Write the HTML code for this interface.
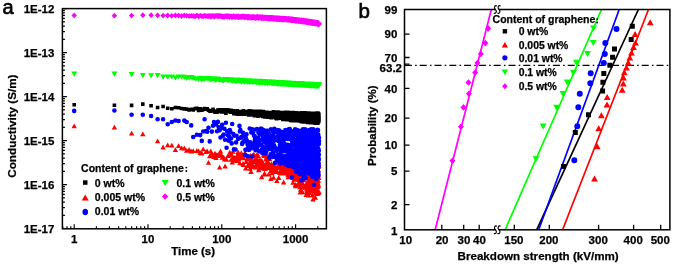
<!DOCTYPE html><html><head><meta charset="utf-8"><style>html,body{margin:0;padding:0;background:#fff;}svg{display:block;will-change:transform;filter:blur(0.3px)}</style></head><body>
<svg width="675" height="265" viewBox="0 0 675 265">
<rect width="675" height="265" fill="#fff"/>
<g>
<path fill="#000" d="M72.4 103h3.6v3.6h-3.6zM112.6 103.4h3.6v3.6h-3.6zM129.8 103.6h3.6v3.6h-3.6zM141 102.3h3.6v3.6h-3.6zM149.3 103.9h3.6v3.6h-3.6zM155.8 105.7h3.6v3.6h-3.6zM161.3 104.7h3.6v3.6h-3.6zM165.9 106.5h3.6v3.6h-3.6zM170 106.9h3.6v3.6h-3.6zM173.6 105.7h3.6v3.6h-3.6zM176.8 105.9h3.6v3.6h-3.6zM179.8 106.7h3.6v3.6h-3.6zM182.5 107.1h3.6v3.6h-3.6zM184.9 107.3h3.6v3.6h-3.6zM187.3 108.1h3.6v3.6h-3.6zM189.4 107.5h3.6v3.6h-3.6zM191.4 108.1h3.6v3.6h-3.6zM193.3 106.8h3.6v3.6h-3.6zM195.1 106.5h3.6v3.6h-3.6zM196.8 108.6h3.6v3.6h-3.6zM198.4 107h3.6v3.6h-3.6zM200 108.4h3.6v3.6h-3.6zM201.4 107.6h3.6v3.6h-3.6zM202.8 106.7h3.6v3.6h-3.6zM204.2 107.4h3.6v3.6h-3.6zM205.4 107h3.6v3.6h-3.6zM206.7 108.4h3.6v3.6h-3.6zM207.9 109.2h3.6v3.6h-3.6zM209 109.4h3.6v3.6h-3.6zM210.1 109.1h3.6v3.6h-3.6zM211.2 107.6h3.6v3.6h-3.6zM212.2 109.2h3.6v3.6h-3.6zM213.2 110.3h3.6v3.6h-3.6zM214.2 109.8h3.6v3.6h-3.6zM215.2 110.4h3.6v3.6h-3.6zM216.1 108.3h3.6v3.6h-3.6zM217 109.3h3.6v3.6h-3.6zM217.8 108h3.6v3.6h-3.6zM218.7 109.3h3.6v3.6h-3.6zM219.5 110.1h3.6v3.6h-3.6zM220.3 109.2h3.6v3.6h-3.6zM221.1 108h3.6v3.6h-3.6zM221.9 108.1h3.6v3.6h-3.6zM222.6 109.4h3.6v3.6h-3.6zM223.3 110.3h3.6v3.6h-3.6zM224.1 111.3h3.6v3.6h-3.6zM224.8 109.3h3.6v3.6h-3.6zM225.4 108h3.6v3.6h-3.6zM226.1 108.1h3.6v3.6h-3.6zM226.8 108.7h3.6v3.6h-3.6zM227.4 109.7h3.6v3.6h-3.6zM228 109.7h3.6v3.6h-3.6zM228.7 110.5h3.6v3.6h-3.6zM229.3 108.5h3.6v3.6h-3.6zM229.9 109.1h3.6v3.6h-3.6zM230.4 110.1h3.6v3.6h-3.6zM231 108.9h3.6v3.6h-3.6zM231.6 109h3.6v3.6h-3.6zM232.1 111.9h3.6v3.6h-3.6zM232.7 111.3h3.6v3.6h-3.6zM233.2 110.9h3.6v3.6h-3.6zM233.7 110.7h3.6v3.6h-3.6zM234.3 110.9h3.6v3.6h-3.6zM234.8 112.1h3.6v3.6h-3.6zM235.3 108.9h3.6v3.6h-3.6zM235.8 111.1h3.6v3.6h-3.6zM236.2 112.3h3.6v3.6h-3.6zM236.7 112.2h3.6v3.6h-3.6zM237.2 112h3.6v3.6h-3.6zM237.7 109.7h3.6v3.6h-3.6zM238.1 112.2h3.6v3.6h-3.6zM238.6 110.2h3.6v3.6h-3.6zM239 110.6h3.6v3.6h-3.6zM239.5 110.8h3.6v3.6h-3.6zM239.9 112.4h3.6v3.6h-3.6zM240.3 109.8h3.6v3.6h-3.6zM240.7 112.4h3.6v3.6h-3.6zM241.2 109.7h3.6v3.6h-3.6zM241.6 108.9h3.6v3.6h-3.6zM242 109.7h3.6v3.6h-3.6zM242.4 112.5h3.6v3.6h-3.6zM242.8 109.8h3.6v3.6h-3.6zM243.2 110.7h3.6v3.6h-3.6zM243.6 109.8h3.6v3.6h-3.6zM243.9 111.3h3.6v3.6h-3.6zM244.3 109.8h3.6v3.6h-3.6zM244.7 111.7h3.6v3.6h-3.6zM245.1 112h3.6v3.6h-3.6zM245.4 110.1h3.6v3.6h-3.6zM245.8 110.6h3.6v3.6h-3.6zM246.1 112.1h3.6v3.6h-3.6zM246.5 110.6h3.6v3.6h-3.6zM246.8 113.1h3.6v3.6h-3.6zM247.2 113h3.6v3.6h-3.6zM247.5 109.1h3.6v3.6h-3.6zM247.9 111.7h3.6v3.6h-3.6zM248.2 113.1h3.6v3.6h-3.6zM248.5 111.2h3.6v3.6h-3.6zM248.9 110.5h3.6v3.6h-3.6zM249.2 109.3h3.6v3.6h-3.6zM249.5 109.4h3.6v3.6h-3.6zM249.8 112.1h3.6v3.6h-3.6zM250.1 110.8h3.6v3.6h-3.6zM250.4 110.6h3.6v3.6h-3.6zM250.7 109.6h3.6v3.6h-3.6zM251.1 110h3.6v3.6h-3.6zM251.4 112.8h3.6v3.6h-3.6zM251.7 110.1h3.6v3.6h-3.6zM252 110h3.6v3.6h-3.6zM252.2 111.8h3.6v3.6h-3.6zM252.5 113.8h3.6v3.6h-3.6zM252.8 110.1h3.6v3.6h-3.6zM253.1 113.5h3.6v3.6h-3.6zM253.4 112.2h3.6v3.6h-3.6zM253.7 111.6h3.6v3.6h-3.6zM254 109.5h3.6v3.6h-3.6zM254.2 110.4h3.6v3.6h-3.6zM254.5 111.2h3.6v3.6h-3.6zM254.8 109.5h3.6v3.6h-3.6zM255.1 112.2h3.6v3.6h-3.6zM255.3 110.5h3.6v3.6h-3.6zM255.6 111.5h3.6v3.6h-3.6zM255.8 113.3h3.6v3.6h-3.6zM256.1 114.4h3.6v3.6h-3.6zM256.4 110.2h3.6v3.6h-3.6zM256.6 110.8h3.6v3.6h-3.6zM256.9 111h3.6v3.6h-3.6zM257.1 113.5h3.6v3.6h-3.6zM257.4 114h3.6v3.6h-3.6zM257.6 112.4h3.6v3.6h-3.6zM257.9 110.7h3.6v3.6h-3.6zM258.1 110.2h3.6v3.6h-3.6zM258.4 109.6h3.6v3.6h-3.6zM258.6 110.5h3.6v3.6h-3.6zM258.8 112.9h3.6v3.6h-3.6zM259.1 111.3h3.6v3.6h-3.6zM259.3 112.3h3.6v3.6h-3.6zM259.6 110.3h3.6v3.6h-3.6zM259.8 111.1h3.6v3.6h-3.6zM260 112h3.6v3.6h-3.6zM260.2 113.6h3.6v3.6h-3.6zM260.5 112.4h3.6v3.6h-3.6zM260.7 110.8h3.6v3.6h-3.6zM260.9 114.6h3.6v3.6h-3.6zM261.1 114.3h3.6v3.6h-3.6zM261.4 114.6h3.6v3.6h-3.6zM261.6 109.8h3.6v3.6h-3.6zM261.8 114.2h3.6v3.6h-3.6zM262 110.7h3.6v3.6h-3.6zM262.2 111.2h3.6v3.6h-3.6zM262.4 111.1h3.6v3.6h-3.6zM262.7 113.1h3.6v3.6h-3.6zM262.9 110.9h3.6v3.6h-3.6zM263.1 115.2h3.6v3.6h-3.6zM263.3 114.4h3.6v3.6h-3.6zM263.5 113.3h3.6v3.6h-3.6zM263.7 111.9h3.6v3.6h-3.6zM263.9 112.6h3.6v3.6h-3.6zM264.1 113.4h3.6v3.6h-3.6zM264.3 112.3h3.6v3.6h-3.6zM264.5 111.5h3.6v3.6h-3.6zM264.7 110.6h3.6v3.6h-3.6zM264.9 112h3.6v3.6h-3.6zM265.1 110.9h3.6v3.6h-3.6zM265.3 112.5h3.6v3.6h-3.6zM265.5 114.2h3.6v3.6h-3.6zM265.7 113.8h3.6v3.6h-3.6zM265.9 114h3.6v3.6h-3.6zM266.1 115.3h3.6v3.6h-3.6zM266.3 113h3.6v3.6h-3.6zM266.5 114.1h3.6v3.6h-3.6zM266.6 113.9h3.6v3.6h-3.6zM266.8 112.2h3.6v3.6h-3.6zM267 114.3h3.6v3.6h-3.6zM267.2 114.6h3.6v3.6h-3.6zM267.4 113.7h3.6v3.6h-3.6zM267.6 112h3.6v3.6h-3.6zM267.7 114.3h3.6v3.6h-3.6zM267.9 112.1h3.6v3.6h-3.6zM268.1 115h3.6v3.6h-3.6zM268.3 110.7h3.6v3.6h-3.6zM268.5 115.4h3.6v3.6h-3.6zM268.6 114.2h3.6v3.6h-3.6zM268.8 110.7h3.6v3.6h-3.6zM269 115.3h3.6v3.6h-3.6zM269.2 112.5h3.6v3.6h-3.6zM269.3 115.8h3.6v3.6h-3.6zM269.5 113.9h3.6v3.6h-3.6zM269.7 112.7h3.6v3.6h-3.6zM269.8 111.6h3.6v3.6h-3.6zM270 113.7h3.6v3.6h-3.6zM270.2 111.8h3.6v3.6h-3.6zM270.3 113.9h3.6v3.6h-3.6zM270.5 112.9h3.6v3.6h-3.6zM270.7 112.3h3.6v3.6h-3.6zM270.8 112.7h3.6v3.6h-3.6zM271 113.7h3.6v3.6h-3.6zM271.2 113.1h3.6v3.6h-3.6zM271.3 114.4h3.6v3.6h-3.6zM271.5 111.6h3.6v3.6h-3.6zM271.6 110.5h3.6v3.6h-3.6zM271.8 110.1h3.6v3.6h-3.6zM272 115.6h3.6v3.6h-3.6zM272.1 115.2h3.6v3.6h-3.6zM272.3 115.2h3.6v3.6h-3.6zM272.4 114h3.6v3.6h-3.6zM272.6 114.6h3.6v3.6h-3.6zM272.7 113.9h3.6v3.6h-3.6zM272.9 111.9h3.6v3.6h-3.6zM273.1 115.3h3.6v3.6h-3.6zM273.2 111.4h3.6v3.6h-3.6zM273.4 111.6h3.6v3.6h-3.6zM273.5 111.4h3.6v3.6h-3.6zM273.7 110.4h3.6v3.6h-3.6zM273.8 112.4h3.6v3.6h-3.6zM274 111.9h3.6v3.6h-3.6zM274.1 110.4h3.6v3.6h-3.6zM274.3 116.5h3.6v3.6h-3.6zM274.4 113.9h3.6v3.6h-3.6zM274.6 116.8h3.6v3.6h-3.6zM274.7 110.4h3.6v3.6h-3.6zM274.8 116.5h3.6v3.6h-3.6zM275 111h3.6v3.6h-3.6zM275.1 111.5h3.6v3.6h-3.6zM275.3 113.2h3.6v3.6h-3.6zM275.4 113.4h3.6v3.6h-3.6zM275.6 116.1h3.6v3.6h-3.6zM275.7 113.5h3.6v3.6h-3.6zM275.8 111.6h3.6v3.6h-3.6zM276 116.6h3.6v3.6h-3.6zM276.1 110.3h3.6v3.6h-3.6zM276.3 113.2h3.6v3.6h-3.6zM276.4 111.6h3.6v3.6h-3.6zM276.5 115.1h3.6v3.6h-3.6zM276.7 110.6h3.6v3.6h-3.6zM276.8 113.5h3.6v3.6h-3.6zM276.9 114.4h3.6v3.6h-3.6zM277.1 116.3h3.6v3.6h-3.6zM277.2 113.7h3.6v3.6h-3.6zM277.3 111h3.6v3.6h-3.6zM277.5 114.5h3.6v3.6h-3.6zM277.6 111.1h3.6v3.6h-3.6zM277.7 116.3h3.6v3.6h-3.6zM277.9 113.2h3.6v3.6h-3.6zM278 112.6h3.6v3.6h-3.6zM278.1 113.9h3.6v3.6h-3.6zM278.3 110.8h3.6v3.6h-3.6zM278.4 114.8h3.6v3.6h-3.6zM278.5 112.2h3.6v3.6h-3.6zM278.7 112.3h3.6v3.6h-3.6zM278.8 113.6h3.6v3.6h-3.6zM278.9 112h3.6v3.6h-3.6zM279 115.4h3.6v3.6h-3.6zM279.2 114h3.6v3.6h-3.6zM279.3 113.9h3.6v3.6h-3.6zM279.4 113.5h3.6v3.6h-3.6zM279.5 115.7h3.6v3.6h-3.6zM279.7 114.1h3.6v3.6h-3.6zM279.8 111.3h3.6v3.6h-3.6zM279.9 113.4h3.6v3.6h-3.6zM280 112.5h3.6v3.6h-3.6zM280.2 113.6h3.6v3.6h-3.6zM280.3 112.7h3.6v3.6h-3.6zM280.4 110.7h3.6v3.6h-3.6zM280.5 114.2h3.6v3.6h-3.6zM280.7 114.2h3.6v3.6h-3.6zM280.8 114h3.6v3.6h-3.6zM280.9 112.7h3.6v3.6h-3.6zM281 117.7h3.6v3.6h-3.6zM281.1 111.7h3.6v3.6h-3.6zM281.3 116.2h3.6v3.6h-3.6zM281.4 111.9h3.6v3.6h-3.6zM281.5 113.5h3.6v3.6h-3.6zM281.6 116.5h3.6v3.6h-3.6zM281.7 113h3.6v3.6h-3.6zM281.8 113.3h3.6v3.6h-3.6zM282 110.8h3.6v3.6h-3.6zM282.1 117.6h3.6v3.6h-3.6zM282.2 117h3.6v3.6h-3.6zM282.3 112.6h3.6v3.6h-3.6zM282.4 116.6h3.6v3.6h-3.6zM282.5 113h3.6v3.6h-3.6zM282.6 116.7h3.6v3.6h-3.6zM282.8 117.6h3.6v3.6h-3.6zM282.9 114.9h3.6v3.6h-3.6zM283 114.6h3.6v3.6h-3.6zM283.1 111.1h3.6v3.6h-3.6zM283.2 114.3h3.6v3.6h-3.6zM283.3 113.5h3.6v3.6h-3.6zM283.4 115.6h3.6v3.6h-3.6zM283.5 113.2h3.6v3.6h-3.6zM283.6 110.8h3.6v3.6h-3.6zM283.8 111.9h3.6v3.6h-3.6zM283.9 110.5h3.6v3.6h-3.6zM284 112.4h3.6v3.6h-3.6zM284.1 113.5h3.6v3.6h-3.6zM284.2 115.8h3.6v3.6h-3.6zM284.3 114.4h3.6v3.6h-3.6zM284.4 114.7h3.6v3.6h-3.6zM284.5 112.1h3.6v3.6h-3.6zM284.6 114h3.6v3.6h-3.6zM284.7 116.8h3.6v3.6h-3.6zM284.8 117h3.6v3.6h-3.6zM284.9 116h3.6v3.6h-3.6zM285 110.6h3.6v3.6h-3.6zM285.2 114.3h3.6v3.6h-3.6zM285.3 117.8h3.6v3.6h-3.6zM285.4 112.9h3.6v3.6h-3.6zM285.5 116.3h3.6v3.6h-3.6zM285.6 117h3.6v3.6h-3.6zM285.7 117.9h3.6v3.6h-3.6zM285.8 111.9h3.6v3.6h-3.6zM285.9 110.6h3.6v3.6h-3.6zM286 113.9h3.6v3.6h-3.6zM286.1 114.1h3.6v3.6h-3.6zM286.2 117.7h3.6v3.6h-3.6zM286.3 115.4h3.6v3.6h-3.6zM286.4 117.6h3.6v3.6h-3.6zM286.5 115.2h3.6v3.6h-3.6zM286.6 114.9h3.6v3.6h-3.6zM286.7 115h3.6v3.6h-3.6zM286.8 111.2h3.6v3.6h-3.6zM286.9 116.3h3.6v3.6h-3.6zM287 111.7h3.6v3.6h-3.6zM287.1 113h3.6v3.6h-3.6zM287.2 117.5h3.6v3.6h-3.6zM287.3 113.6h3.6v3.6h-3.6zM287.4 117h3.6v3.6h-3.6zM287.5 115.3h3.6v3.6h-3.6zM287.6 116.1h3.6v3.6h-3.6zM287.7 110.8h3.6v3.6h-3.6zM287.8 117.2h3.6v3.6h-3.6zM287.9 115.6h3.6v3.6h-3.6zM288 113.6h3.6v3.6h-3.6zM288.1 110.9h3.6v3.6h-3.6zM288.2 114.7h3.6v3.6h-3.6zM288.2 116.9h3.6v3.6h-3.6zM288.3 117.7h3.6v3.6h-3.6zM288.4 113.5h3.6v3.6h-3.6zM288.5 113.7h3.6v3.6h-3.6zM288.6 114.3h3.6v3.6h-3.6zM288.7 115.1h3.6v3.6h-3.6zM288.8 118.7h3.6v3.6h-3.6zM288.9 112.9h3.6v3.6h-3.6zM289 112.3h3.6v3.6h-3.6zM289.1 111.4h3.6v3.6h-3.6zM289.2 115.9h3.6v3.6h-3.6zM289.3 113.5h3.6v3.6h-3.6zM289.4 112.8h3.6v3.6h-3.6zM289.5 116.6h3.6v3.6h-3.6zM289.6 114.2h3.6v3.6h-3.6zM289.6 112.8h3.6v3.6h-3.6zM289.7 113h3.6v3.6h-3.6zM289.8 113.7h3.6v3.6h-3.6zM289.9 114.8h3.6v3.6h-3.6zM290 118.3h3.6v3.6h-3.6zM290.1 113.5h3.6v3.6h-3.6zM290.2 116h3.6v3.6h-3.6zM290.3 115.9h3.6v3.6h-3.6zM290.4 116h3.6v3.6h-3.6zM290.5 112.9h3.6v3.6h-3.6zM290.5 116.4h3.6v3.6h-3.6zM290.6 117.2h3.6v3.6h-3.6zM290.7 118.8h3.6v3.6h-3.6zM290.8 111.5h3.6v3.6h-3.6zM290.9 117.3h3.6v3.6h-3.6zM291 118.9h3.6v3.6h-3.6zM291.1 116.4h3.6v3.6h-3.6zM291.2 113.6h3.6v3.6h-3.6zM291.2 111.3h3.6v3.6h-3.6zM291.3 116.2h3.6v3.6h-3.6zM291.4 113.4h3.6v3.6h-3.6zM291.5 110.8h3.6v3.6h-3.6zM291.6 111.7h3.6v3.6h-3.6zM291.7 115.3h3.6v3.6h-3.6zM291.8 119h3.6v3.6h-3.6zM291.9 115.9h3.6v3.6h-3.6zM291.9 118.3h3.6v3.6h-3.6zM292 115.2h3.6v3.6h-3.6zM292.1 116.1h3.6v3.6h-3.6zM292.2 111.8h3.6v3.6h-3.6zM292.3 111.5h3.6v3.6h-3.6zM292.4 112h3.6v3.6h-3.6zM292.4 110.9h3.6v3.6h-3.6zM292.5 112.8h3.6v3.6h-3.6zM292.6 116h3.6v3.6h-3.6zM292.7 116.2h3.6v3.6h-3.6zM292.8 116.8h3.6v3.6h-3.6zM292.9 115h3.6v3.6h-3.6zM292.9 114.3h3.6v3.6h-3.6zM293 117h3.6v3.6h-3.6zM293.1 112.6h3.6v3.6h-3.6zM293.2 116.5h3.6v3.6h-3.6zM293.3 117.7h3.6v3.6h-3.6zM293.3 113h3.6v3.6h-3.6zM293.4 113.4h3.6v3.6h-3.6zM293.5 114h3.6v3.6h-3.6zM293.6 115.5h3.6v3.6h-3.6zM293.7 117.6h3.6v3.6h-3.6zM293.8 118.3h3.6v3.6h-3.6zM293.8 112.3h3.6v3.6h-3.6zM293.9 112.6h3.6v3.6h-3.6zM294 118.9h3.6v3.6h-3.6zM294.1 116.7h3.6v3.6h-3.6zM294.2 112.1h3.6v3.6h-3.6zM294.2 111.1h3.6v3.6h-3.6zM294.3 114.5h3.6v3.6h-3.6zM294.4 115.3h3.6v3.6h-3.6zM294.5 118.2h3.6v3.6h-3.6zM294.5 112.8h3.6v3.6h-3.6zM294.6 111.2h3.6v3.6h-3.6zM294.7 111.4h3.6v3.6h-3.6zM294.8 115.2h3.6v3.6h-3.6zM294.9 112.2h3.6v3.6h-3.6zM294.9 111.6h3.6v3.6h-3.6zM295 115.4h3.6v3.6h-3.6zM295.1 118.3h3.6v3.6h-3.6zM295.2 116.8h3.6v3.6h-3.6zM295.2 113.3h3.6v3.6h-3.6zM295.3 111.4h3.6v3.6h-3.6zM295.4 113.8h3.6v3.6h-3.6zM295.5 111.6h3.6v3.6h-3.6zM295.5 112.7h3.6v3.6h-3.6zM295.6 118.7h3.6v3.6h-3.6zM295.7 117.1h3.6v3.6h-3.6zM295.8 119h3.6v3.6h-3.6zM295.8 117.7h3.6v3.6h-3.6zM295.9 117.7h3.6v3.6h-3.6zM296 118.8h3.6v3.6h-3.6zM296.1 118h3.6v3.6h-3.6zM296.1 117.8h3.6v3.6h-3.6zM296.2 114.8h3.6v3.6h-3.6zM296.3 113.2h3.6v3.6h-3.6zM296.4 118h3.6v3.6h-3.6zM296.4 118.7h3.6v3.6h-3.6zM296.5 112.3h3.6v3.6h-3.6zM296.6 113.9h3.6v3.6h-3.6zM296.7 116.7h3.6v3.6h-3.6zM296.7 114.1h3.6v3.6h-3.6zM296.8 118.2h3.6v3.6h-3.6zM296.9 111.2h3.6v3.6h-3.6zM297 111.3h3.6v3.6h-3.6zM297 114.6h3.6v3.6h-3.6zM297.1 116.9h3.6v3.6h-3.6zM297.2 115.4h3.6v3.6h-3.6zM297.2 114.2h3.6v3.6h-3.6zM297.3 114.7h3.6v3.6h-3.6zM297.4 118.9h3.6v3.6h-3.6zM297.5 115h3.6v3.6h-3.6zM297.5 113.4h3.6v3.6h-3.6zM297.6 119.2h3.6v3.6h-3.6zM297.7 118h3.6v3.6h-3.6zM297.7 114.4h3.6v3.6h-3.6zM297.8 118.6h3.6v3.6h-3.6zM297.9 114.5h3.6v3.6h-3.6zM298 118.4h3.6v3.6h-3.6zM298 118.9h3.6v3.6h-3.6zM298.1 116.3h3.6v3.6h-3.6zM298.2 111.7h3.6v3.6h-3.6zM298.2 113.8h3.6v3.6h-3.6zM298.3 118.1h3.6v3.6h-3.6zM298.4 116h3.6v3.6h-3.6zM298.4 117.8h3.6v3.6h-3.6zM298.5 114.5h3.6v3.6h-3.6zM298.6 113.8h3.6v3.6h-3.6zM298.7 115h3.6v3.6h-3.6zM298.7 114.8h3.6v3.6h-3.6zM298.8 117.6h3.6v3.6h-3.6zM298.9 118.6h3.6v3.6h-3.6zM298.9 113.6h3.6v3.6h-3.6zM299 111.8h3.6v3.6h-3.6zM299.1 118.3h3.6v3.6h-3.6zM299.1 119.1h3.6v3.6h-3.6zM299.2 118.5h3.6v3.6h-3.6zM299.3 118h3.6v3.6h-3.6zM299.3 118.9h3.6v3.6h-3.6zM299.4 116.2h3.6v3.6h-3.6zM299.5 111.5h3.6v3.6h-3.6zM299.5 116.8h3.6v3.6h-3.6zM299.6 119.8h3.6v3.6h-3.6zM299.7 111.7h3.6v3.6h-3.6zM299.7 117h3.6v3.6h-3.6zM299.8 111.8h3.6v3.6h-3.6zM299.9 118h3.6v3.6h-3.6zM299.9 116.5h3.6v3.6h-3.6zM300 111h3.6v3.6h-3.6zM300.1 112.8h3.6v3.6h-3.6zM300.1 118.6h3.6v3.6h-3.6zM300.2 119.8h3.6v3.6h-3.6zM300.3 115.1h3.6v3.6h-3.6zM300.3 118.5h3.6v3.6h-3.6zM300.4 119.5h3.6v3.6h-3.6zM300.5 115h3.6v3.6h-3.6zM300.5 113.4h3.6v3.6h-3.6zM300.6 118h3.6v3.6h-3.6zM300.7 116.7h3.6v3.6h-3.6zM300.7 119.5h3.6v3.6h-3.6zM300.8 119.2h3.6v3.6h-3.6zM300.8 117.3h3.6v3.6h-3.6zM300.9 113.3h3.6v3.6h-3.6zM301 111.5h3.6v3.6h-3.6zM301 117.2h3.6v3.6h-3.6zM301.1 115h3.6v3.6h-3.6zM301.2 113h3.6v3.6h-3.6zM301.2 112.4h3.6v3.6h-3.6zM301.3 114.5h3.6v3.6h-3.6zM301.4 119.8h3.6v3.6h-3.6zM301.4 111.9h3.6v3.6h-3.6zM301.5 112.9h3.6v3.6h-3.6zM301.5 118.7h3.6v3.6h-3.6zM301.6 112h3.6v3.6h-3.6zM301.7 115.3h3.6v3.6h-3.6zM301.7 119.8h3.6v3.6h-3.6zM301.8 112.9h3.6v3.6h-3.6zM301.9 113.9h3.6v3.6h-3.6zM301.9 111h3.6v3.6h-3.6zM302 115.6h3.6v3.6h-3.6zM302 114.3h3.6v3.6h-3.6zM302.1 111.3h3.6v3.6h-3.6zM302.2 117.3h3.6v3.6h-3.6zM302.2 120.2h3.6v3.6h-3.6zM302.3 119.9h3.6v3.6h-3.6zM302.4 118.7h3.6v3.6h-3.6zM302.4 113.2h3.6v3.6h-3.6zM302.5 111.5h3.6v3.6h-3.6zM302.5 119h3.6v3.6h-3.6zM302.6 111.1h3.6v3.6h-3.6zM302.7 118.5h3.6v3.6h-3.6zM302.7 119.4h3.6v3.6h-3.6zM302.8 113.3h3.6v3.6h-3.6zM302.8 115.4h3.6v3.6h-3.6zM302.9 112.6h3.6v3.6h-3.6zM303 120h3.6v3.6h-3.6zM303 113h3.6v3.6h-3.6zM303.1 116.4h3.6v3.6h-3.6zM303.1 111.1h3.6v3.6h-3.6zM303.2 116.9h3.6v3.6h-3.6zM303.3 116.6h3.6v3.6h-3.6zM303.3 113.5h3.6v3.6h-3.6zM303.4 117.6h3.6v3.6h-3.6zM303.4 115.9h3.6v3.6h-3.6zM303.5 111.8h3.6v3.6h-3.6zM303.6 112.7h3.6v3.6h-3.6zM303.6 113.1h3.6v3.6h-3.6zM303.7 118.4h3.6v3.6h-3.6zM303.7 112h3.6v3.6h-3.6zM303.8 117.8h3.6v3.6h-3.6zM303.9 113.9h3.6v3.6h-3.6zM303.9 120h3.6v3.6h-3.6zM304 111.4h3.6v3.6h-3.6zM304 115.8h3.6v3.6h-3.6zM304.1 114.6h3.6v3.6h-3.6zM304.1 118.3h3.6v3.6h-3.6zM304.2 117h3.6v3.6h-3.6zM304.3 113.8h3.6v3.6h-3.6zM304.3 120.1h3.6v3.6h-3.6zM304.4 116h3.6v3.6h-3.6zM304.4 113.3h3.6v3.6h-3.6zM304.5 120.1h3.6v3.6h-3.6zM304.5 120.1h3.6v3.6h-3.6zM304.6 112.4h3.6v3.6h-3.6zM304.7 118.8h3.6v3.6h-3.6zM304.7 114.1h3.6v3.6h-3.6zM304.8 112h3.6v3.6h-3.6zM304.8 119.8h3.6v3.6h-3.6zM304.9 114.6h3.6v3.6h-3.6zM304.9 119.1h3.6v3.6h-3.6zM305 119.3h3.6v3.6h-3.6zM305.1 114.2h3.6v3.6h-3.6zM305.1 111.6h3.6v3.6h-3.6zM305.2 117h3.6v3.6h-3.6zM305.2 112h3.6v3.6h-3.6zM305.3 113h3.6v3.6h-3.6zM305.3 116.7h3.6v3.6h-3.6zM305.4 114.4h3.6v3.6h-3.6zM305.5 114.6h3.6v3.6h-3.6zM305.5 116.2h3.6v3.6h-3.6zM305.6 112.8h3.6v3.6h-3.6zM305.6 111.2h3.6v3.6h-3.6zM305.7 112.4h3.6v3.6h-3.6zM305.7 115.9h3.6v3.6h-3.6zM305.8 113.5h3.6v3.6h-3.6zM305.8 118.2h3.6v3.6h-3.6zM305.9 115.3h3.6v3.6h-3.6zM306 120.6h3.6v3.6h-3.6zM306 113.9h3.6v3.6h-3.6zM306.1 115.6h3.6v3.6h-3.6zM306.1 112.4h3.6v3.6h-3.6zM306.2 114.4h3.6v3.6h-3.6zM306.2 118.1h3.6v3.6h-3.6zM306.3 117.4h3.6v3.6h-3.6zM306.3 117.6h3.6v3.6h-3.6zM306.4 118.8h3.6v3.6h-3.6zM306.4 116.2h3.6v3.6h-3.6zM306.5 113.5h3.6v3.6h-3.6zM306.5 119h3.6v3.6h-3.6zM306.6 113.2h3.6v3.6h-3.6zM306.7 120h3.6v3.6h-3.6zM306.7 111.9h3.6v3.6h-3.6zM306.8 111.2h3.6v3.6h-3.6zM306.8 120.5h3.6v3.6h-3.6zM306.9 120.7h3.6v3.6h-3.6zM306.9 116.2h3.6v3.6h-3.6zM307 116.9h3.6v3.6h-3.6zM307 112.7h3.6v3.6h-3.6zM307.1 118.8h3.6v3.6h-3.6zM307.1 120.1h3.6v3.6h-3.6zM307.2 119h3.6v3.6h-3.6zM307.2 119.4h3.6v3.6h-3.6zM307.3 118.5h3.6v3.6h-3.6zM307.3 112h3.6v3.6h-3.6zM307.4 117.4h3.6v3.6h-3.6zM307.5 120h3.6v3.6h-3.6zM307.5 119.5h3.6v3.6h-3.6zM307.6 111.5h3.6v3.6h-3.6zM307.6 119h3.6v3.6h-3.6zM307.7 115.6h3.6v3.6h-3.6zM307.7 112.2h3.6v3.6h-3.6zM307.8 113.5h3.6v3.6h-3.6zM307.8 116.3h3.6v3.6h-3.6zM307.9 113.3h3.6v3.6h-3.6zM307.9 115h3.6v3.6h-3.6zM308 118.5h3.6v3.6h-3.6zM308 116.8h3.6v3.6h-3.6zM308.1 113.8h3.6v3.6h-3.6zM308.1 116.4h3.6v3.6h-3.6zM308.2 120.6h3.6v3.6h-3.6zM308.2 117.6h3.6v3.6h-3.6zM308.3 115.2h3.6v3.6h-3.6zM308.3 119.2h3.6v3.6h-3.6zM308.4 119.7h3.6v3.6h-3.6zM308.4 120.7h3.6v3.6h-3.6zM308.5 120.9h3.6v3.6h-3.6zM308.5 119.9h3.6v3.6h-3.6zM308.6 116h3.6v3.6h-3.6zM308.6 113.4h3.6v3.6h-3.6zM308.7 114.4h3.6v3.6h-3.6zM308.7 117h3.6v3.6h-3.6zM308.8 114.1h3.6v3.6h-3.6zM308.8 118.1h3.6v3.6h-3.6zM308.9 117.3h3.6v3.6h-3.6zM308.9 112.7h3.6v3.6h-3.6zM309 115h3.6v3.6h-3.6zM309 113.3h3.6v3.6h-3.6zM309.1 120.2h3.6v3.6h-3.6zM309.1 114h3.6v3.6h-3.6zM309.2 118h3.6v3.6h-3.6zM309.2 111.6h3.6v3.6h-3.6zM309.3 120.8h3.6v3.6h-3.6zM309.3 119.7h3.6v3.6h-3.6zM309.4 119.8h3.6v3.6h-3.6zM309.4 117.5h3.6v3.6h-3.6zM309.5 116.2h3.6v3.6h-3.6zM309.5 112.9h3.6v3.6h-3.6zM309.6 120.3h3.6v3.6h-3.6zM309.6 118.4h3.6v3.6h-3.6zM309.7 113.1h3.6v3.6h-3.6zM309.7 111.7h3.6v3.6h-3.6zM309.8 113.4h3.6v3.6h-3.6zM309.8 115.9h3.6v3.6h-3.6zM309.9 120.8h3.6v3.6h-3.6zM309.9 120h3.6v3.6h-3.6zM310 115.1h3.6v3.6h-3.6zM310 118.7h3.6v3.6h-3.6zM310.1 114h3.6v3.6h-3.6zM310.1 111.4h3.6v3.6h-3.6zM310.2 115.3h3.6v3.6h-3.6zM310.2 117h3.6v3.6h-3.6zM310.3 121h3.6v3.6h-3.6zM310.3 115h3.6v3.6h-3.6zM310.4 115.7h3.6v3.6h-3.6zM310.4 114h3.6v3.6h-3.6zM310.4 119.7h3.6v3.6h-3.6zM310.5 111.9h3.6v3.6h-3.6zM310.5 119.6h3.6v3.6h-3.6zM310.6 117.8h3.6v3.6h-3.6zM310.6 118.5h3.6v3.6h-3.6zM310.7 113.1h3.6v3.6h-3.6zM310.7 112.8h3.6v3.6h-3.6zM310.8 114.2h3.6v3.6h-3.6zM310.8 119.5h3.6v3.6h-3.6zM310.9 112.2h3.6v3.6h-3.6zM310.9 112.9h3.6v3.6h-3.6zM311 116.5h3.6v3.6h-3.6zM311 111.8h3.6v3.6h-3.6zM311.1 119.9h3.6v3.6h-3.6zM311.1 113.4h3.6v3.6h-3.6zM311.2 115.8h3.6v3.6h-3.6zM311.2 113.6h3.6v3.6h-3.6zM311.2 116.2h3.6v3.6h-3.6zM311.3 118.5h3.6v3.6h-3.6zM311.3 119.1h3.6v3.6h-3.6zM311.4 116h3.6v3.6h-3.6zM311.4 119.5h3.6v3.6h-3.6zM311.5 119.1h3.6v3.6h-3.6zM311.5 115.3h3.6v3.6h-3.6zM311.6 117h3.6v3.6h-3.6zM311.6 120.6h3.6v3.6h-3.6zM311.7 114.2h3.6v3.6h-3.6zM311.7 117.7h3.6v3.6h-3.6zM311.8 111.6h3.6v3.6h-3.6zM311.8 115.8h3.6v3.6h-3.6zM311.8 112.2h3.6v3.6h-3.6zM311.9 120.6h3.6v3.6h-3.6zM311.9 118.9h3.6v3.6h-3.6zM312 116.8h3.6v3.6h-3.6zM312 120.1h3.6v3.6h-3.6zM312.1 114.2h3.6v3.6h-3.6zM312.1 115.6h3.6v3.6h-3.6zM312.2 114.2h3.6v3.6h-3.6zM312.2 118.5h3.6v3.6h-3.6zM312.3 114.2h3.6v3.6h-3.6zM312.3 119.6h3.6v3.6h-3.6zM312.3 113.2h3.6v3.6h-3.6zM312.4 120.3h3.6v3.6h-3.6zM312.4 117.1h3.6v3.6h-3.6zM312.5 115h3.6v3.6h-3.6zM312.5 113.1h3.6v3.6h-3.6zM312.6 111.6h3.6v3.6h-3.6zM312.6 111.8h3.6v3.6h-3.6zM312.7 114h3.6v3.6h-3.6zM312.7 113.5h3.6v3.6h-3.6zM312.7 113.9h3.6v3.6h-3.6zM312.8 113.2h3.6v3.6h-3.6zM312.8 113.8h3.6v3.6h-3.6zM312.9 116h3.6v3.6h-3.6zM312.9 115h3.6v3.6h-3.6zM313 120.9h3.6v3.6h-3.6zM313 118.5h3.6v3.6h-3.6zM313.1 114.9h3.6v3.6h-3.6zM313.1 113.3h3.6v3.6h-3.6zM313.1 119.9h3.6v3.6h-3.6zM313.2 120h3.6v3.6h-3.6zM313.2 118.5h3.6v3.6h-3.6zM313.3 120.3h3.6v3.6h-3.6zM313.3 119.5h3.6v3.6h-3.6zM313.4 119.2h3.6v3.6h-3.6zM313.4 115h3.6v3.6h-3.6zM313.4 119.2h3.6v3.6h-3.6zM313.5 113.7h3.6v3.6h-3.6zM313.5 121.5h3.6v3.6h-3.6zM313.6 115.8h3.6v3.6h-3.6zM313.6 117.2h3.6v3.6h-3.6zM313.7 117.4h3.6v3.6h-3.6zM313.7 119.8h3.6v3.6h-3.6zM313.8 113.8h3.6v3.6h-3.6zM313.8 118.7h3.6v3.6h-3.6zM313.8 111.6h3.6v3.6h-3.6zM313.9 117.1h3.6v3.6h-3.6zM313.9 117h3.6v3.6h-3.6zM314 121.2h3.6v3.6h-3.6zM314 114.5h3.6v3.6h-3.6zM314 115.1h3.6v3.6h-3.6zM314.1 119.2h3.6v3.6h-3.6zM314.1 117h3.6v3.6h-3.6zM314.2 119.9h3.6v3.6h-3.6zM314.2 114.3h3.6v3.6h-3.6zM314.3 119.7h3.6v3.6h-3.6zM314.3 112.2h3.6v3.6h-3.6zM314.3 120.8h3.6v3.6h-3.6zM314.4 116.8h3.6v3.6h-3.6zM314.4 119.3h3.6v3.6h-3.6zM314.5 112.8h3.6v3.6h-3.6zM314.5 118.1h3.6v3.6h-3.6zM314.6 114.7h3.6v3.6h-3.6zM314.6 115.2h3.6v3.6h-3.6zM314.6 117.8h3.6v3.6h-3.6zM314.7 113.8h3.6v3.6h-3.6zM314.7 116.2h3.6v3.6h-3.6zM314.8 120.8h3.6v3.6h-3.6zM314.8 120.6h3.6v3.6h-3.6zM314.8 115.5h3.6v3.6h-3.6zM314.9 119h3.6v3.6h-3.6zM314.9 113.5h3.6v3.6h-3.6zM315 112.3h3.6v3.6h-3.6zM315 115.5h3.6v3.6h-3.6zM315.1 116.3h3.6v3.6h-3.6zM315.1 119.4h3.6v3.6h-3.6zM315.1 111.8h3.6v3.6h-3.6zM315.2 117h3.6v3.6h-3.6zM315.2 114.1h3.6v3.6h-3.6zM315.3 114.8h3.6v3.6h-3.6zM315.3 118.2h3.6v3.6h-3.6zM315.3 115.8h3.6v3.6h-3.6zM315.4 118.8h3.6v3.6h-3.6zM315.4 111.3h3.6v3.6h-3.6zM315.5 119.4h3.6v3.6h-3.6zM315.5 111.2h3.6v3.6h-3.6zM315.5 113.3h3.6v3.6h-3.6zM315.6 114.8h3.6v3.6h-3.6zM315.6 112.2h3.6v3.6h-3.6zM315.7 118.5h3.6v3.6h-3.6zM315.7 113.3h3.6v3.6h-3.6zM315.8 114h3.6v3.6h-3.6zM315.8 115.9h3.6v3.6h-3.6zM315.8 117.1h3.6v3.6h-3.6zM315.9 120.5h3.6v3.6h-3.6zM315.9 118.2h3.6v3.6h-3.6zM316 114.1h3.6v3.6h-3.6zM316 120.3h3.6v3.6h-3.6zM316 121.3h3.6v3.6h-3.6zM316.1 120.2h3.6v3.6h-3.6zM316.1 118.8h3.6v3.6h-3.6zM316.2 119.7h3.6v3.6h-3.6zM316.2 120.3h3.6v3.6h-3.6zM316.2 118.9h3.6v3.6h-3.6zM316.3 111.5h3.6v3.6h-3.6zM316.3 112.7h3.6v3.6h-3.6zM316.4 115.6h3.6v3.6h-3.6zM316.4 118.6h3.6v3.6h-3.6zM316.4 115.6h3.6v3.6h-3.6zM316.5 116.6h3.6v3.6h-3.6zM316.5 111.5h3.6v3.6h-3.6zM316.5 118.9h3.6v3.6h-3.6zM316.6 119.7h3.6v3.6h-3.6zM316.6 119.5h3.6v3.6h-3.6zM316.7 119.2h3.6v3.6h-3.6zM316.7 115.3h3.6v3.6h-3.6zM316.7 116h3.6v3.6h-3.6zM316.8 116.1h3.6v3.6h-3.6zM316.8 119.7h3.6v3.6h-3.6zM316.9 117.5h3.6v3.6h-3.6zM316.9 119.8h3.6v3.6h-3.6zM316.9 115.7h3.6v3.6h-3.6zM317 114.6h3.6v3.6h-3.6zM317 114.7h3.6v3.6h-3.6zM317.1 112.5h3.6v3.6h-3.6zM317.1 117.4h3.6v3.6h-3.6zM317.1 113.2h3.6v3.6h-3.6zM317.2 115.4h3.6v3.6h-3.6zM317.2 118.5h3.6v3.6h-3.6z"/>
<path fill="#f00" d="M74.2 123.4l2.7 4.8h-5.4zM114.4 124.8l2.7 4.8h-5.4zM131.6 130.8l2.7 4.8h-5.4zM142.8 131.4l2.7 4.8h-5.4zM157.6 138.5l2.7 4.8h-5.4zM163.1 144.6l2.7 4.8h-5.4zM167.7 142.5l2.7 4.8h-5.4zM171.8 142.7l2.7 4.8h-5.4zM175.4 147.2l2.7 4.8h-5.4zM178.6 143.3l2.7 4.8h-5.4zM181.6 145.4l2.7 4.8h-5.4zM184.3 145.6l2.7 4.8h-5.4zM186.7 147.9l2.7 4.8h-5.4zM189.1 147.1l2.7 4.8h-5.4zM191.2 148.6l2.7 4.8h-5.4zM193.2 148.2l2.7 4.8h-5.4zM196.9 148.1l2.7 4.8h-5.4zM198.6 148.5l2.7 4.8h-5.4zM200.2 150.2l2.7 4.8h-5.4zM201.8 150.7l2.7 4.8h-5.4zM203.2 146.5l2.7 4.8h-5.4zM206 149.2l2.7 4.8h-5.4zM207.2 148.4l2.7 4.8h-5.4zM208.5 160l2.7 4.8h-5.4zM209.7 153.5l2.7 4.8h-5.4zM210.8 148.6l2.7 4.8h-5.4zM211.9 150.8l2.7 4.8h-5.4zM213 152.6l2.7 4.8h-5.4zM214 154.3l2.7 4.8h-5.4zM215 150.8l2.7 4.8h-5.4zM216 155.1l2.7 4.8h-5.4zM217 152.3l2.7 4.8h-5.4zM217.9 153.1l2.7 4.8h-5.4zM218.8 151.6l2.7 4.8h-5.4zM219.6 164.7l2.7 4.8h-5.4zM220.5 148.6l2.7 4.8h-5.4zM221.3 152.2l2.7 4.8h-5.4zM222.1 154.9l2.7 4.8h-5.4zM223.7 154.8l2.7 4.8h-5.4zM224.4 156.7l2.7 4.8h-5.4zM225.1 163.6l2.7 4.8h-5.4zM226.6 157l2.7 4.8h-5.4zM227.9 153.3l2.7 4.8h-5.4zM229.8 149.7l2.7 4.8h-5.4zM230.5 152.4l2.7 4.8h-5.4zM231.1 156.9l2.7 4.8h-5.4zM231.7 152l2.7 4.8h-5.4zM232.2 159.7l2.7 4.8h-5.4zM232.8 148.9l2.7 4.8h-5.4zM233.4 154.9l2.7 4.8h-5.4zM233.9 157.3l2.7 4.8h-5.4zM234.5 155.1l2.7 4.8h-5.4zM235.5 157.1l2.7 4.8h-5.4zM236.1 157.8l2.7 4.8h-5.4zM236.6 153.7l2.7 4.8h-5.4zM237.1 158.1l2.7 4.8h-5.4zM237.6 152.7l2.7 4.8h-5.4zM238 149.5l2.7 4.8h-5.4zM238.5 156.4l2.7 4.8h-5.4zM239 152.2l2.7 4.8h-5.4zM239.5 153.6l2.7 4.8h-5.4zM239.9 160.5l2.7 4.8h-5.4zM240.8 154.2l2.7 4.8h-5.4zM241.3 150.2l2.7 4.8h-5.4zM241.7 155.5l2.7 4.8h-5.4zM242.1 154.6l2.7 4.8h-5.4zM242.5 155.4l2.7 4.8h-5.4zM243 161l2.7 4.8h-5.4zM243.4 162.1l2.7 4.8h-5.4zM243.8 155.5l2.7 4.8h-5.4zM244.6 151.9l2.7 4.8h-5.4zM245 150.4l2.7 4.8h-5.4zM245.7 165.7l2.7 4.8h-5.4zM246.1 159.2l2.7 4.8h-5.4zM246.9 152.8l2.7 4.8h-5.4zM247.2 156.7l2.7 4.8h-5.4zM247.6 163.1l2.7 4.8h-5.4zM247.9 162.6l2.7 4.8h-5.4zM248.3 154.6l2.7 4.8h-5.4zM248.6 155l2.7 4.8h-5.4zM249 155.2l2.7 4.8h-5.4zM249.3 162.7l2.7 4.8h-5.4zM249.7 160l2.7 4.8h-5.4zM250 166l2.7 4.8h-5.4zM250.3 152.9l2.7 4.8h-5.4zM250.7 155.3l2.7 4.8h-5.4zM251 169.1l2.7 4.8h-5.4zM251.3 157.3l2.7 4.8h-5.4zM251.6 162.2l2.7 4.8h-5.4zM251.9 153.3l2.7 4.8h-5.4zM252.2 164.3l2.7 4.8h-5.4zM252.5 162l2.7 4.8h-5.4zM252.9 158.7l2.7 4.8h-5.4zM253.2 152.1l2.7 4.8h-5.4zM253.5 159.1l2.7 4.8h-5.4zM253.8 153.5l2.7 4.8h-5.4zM254 152l2.7 4.8h-5.4zM254.3 158.7l2.7 4.8h-5.4zM255.2 158l2.7 4.8h-5.4zM255.5 164.6l2.7 4.8h-5.4zM255.8 156.4l2.7 4.8h-5.4zM256 163l2.7 4.8h-5.4zM256.3 154.4l2.7 4.8h-5.4zM256.6 152.6l2.7 4.8h-5.4zM256.9 160.5l2.7 4.8h-5.4zM257.1 162.3l2.7 4.8h-5.4zM257.4 157.4l2.7 4.8h-5.4zM257.6 151.8l2.7 4.8h-5.4zM257.9 162.9l2.7 4.8h-5.4zM258.4 153.2l2.7 4.8h-5.4zM258.7 167.4l2.7 4.8h-5.4zM258.9 158.9l2.7 4.8h-5.4zM259.2 165.8l2.7 4.8h-5.4zM259.4 162.5l2.7 4.8h-5.4zM259.7 165.8l2.7 4.8h-5.4zM259.9 157.6l2.7 4.8h-5.4zM260.4 158.3l2.7 4.8h-5.4zM260.6 163l2.7 4.8h-5.4zM260.9 157.9l2.7 4.8h-5.4zM261.4 160.5l2.7 4.8h-5.4zM261.6 174.4l2.7 4.8h-5.4zM261.8 158.2l2.7 4.8h-5.4zM262 164.2l2.7 4.8h-5.4zM262.3 161.1l2.7 4.8h-5.4zM262.5 165.8l2.7 4.8h-5.4zM262.7 162l2.7 4.8h-5.4zM262.9 162.5l2.7 4.8h-5.4zM263.4 161.2l2.7 4.8h-5.4zM263.8 152.1l2.7 4.8h-5.4zM264 153.1l2.7 4.8h-5.4zM264.2 162.6l2.7 4.8h-5.4zM264.5 170.8l2.7 4.8h-5.4zM264.7 153l2.7 4.8h-5.4zM264.9 171.6l2.7 4.8h-5.4zM265.1 166.3l2.7 4.8h-5.4zM265.3 163.9l2.7 4.8h-5.4zM265.5 153l2.7 4.8h-5.4zM265.7 165.5l2.7 4.8h-5.4zM265.9 156.8l2.7 4.8h-5.4zM266.1 160.8l2.7 4.8h-5.4zM266.3 165l2.7 4.8h-5.4zM266.5 154.8l2.7 4.8h-5.4zM266.7 164.3l2.7 4.8h-5.4zM266.9 152.3l2.7 4.8h-5.4zM267.1 161.4l2.7 4.8h-5.4zM267.3 155.5l2.7 4.8h-5.4zM267.5 159.1l2.7 4.8h-5.4zM267.7 155.8l2.7 4.8h-5.4zM267.9 162.3l2.7 4.8h-5.4zM268.1 164.4l2.7 4.8h-5.4zM268.3 162.1l2.7 4.8h-5.4zM268.4 164.1l2.7 4.8h-5.4zM268.6 171.8l2.7 4.8h-5.4zM268.8 160.4l2.7 4.8h-5.4zM269 162.2l2.7 4.8h-5.4zM269.2 165.2l2.7 4.8h-5.4zM269.4 156.3l2.7 4.8h-5.4zM269.5 156l2.7 4.8h-5.4zM270.1 164.7l2.7 4.8h-5.4zM270.3 164.8l2.7 4.8h-5.4zM270.4 164.2l2.7 4.8h-5.4zM270.6 153.1l2.7 4.8h-5.4zM270.8 176.1l2.7 4.8h-5.4zM271 153.4l2.7 4.8h-5.4zM271.1 168.3l2.7 4.8h-5.4zM271.3 166.4l2.7 4.8h-5.4zM271.5 161.3l2.7 4.8h-5.4zM271.6 168.3l2.7 4.8h-5.4zM272 170.5l2.7 4.8h-5.4zM272.1 162.7l2.7 4.8h-5.4zM272.3 154l2.7 4.8h-5.4zM272.5 165.4l2.7 4.8h-5.4zM273 154l2.7 4.8h-5.4zM273.4 164.3l2.7 4.8h-5.4zM273.6 175l2.7 4.8h-5.4zM273.8 153.4l2.7 4.8h-5.4zM273.9 163.3l2.7 4.8h-5.4zM274.2 166.5l2.7 4.8h-5.4zM274.4 167.6l2.7 4.8h-5.4zM274.7 166.2l2.7 4.8h-5.4zM274.9 165.2l2.7 4.8h-5.4zM275 165.3l2.7 4.8h-5.4zM275.2 167.8l2.7 4.8h-5.4zM275.3 164.5l2.7 4.8h-5.4zM275.8 159.9l2.7 4.8h-5.4zM276.1 153.7l2.7 4.8h-5.4zM276.2 169.1l2.7 4.8h-5.4zM276.4 153.3l2.7 4.8h-5.4zM276.5 164.9l2.7 4.8h-5.4zM276.6 157.8l2.7 4.8h-5.4zM276.8 155.6l2.7 4.8h-5.4zM276.9 178.3l2.7 4.8h-5.4zM277.1 168.8l2.7 4.8h-5.4zM277.2 155.3l2.7 4.8h-5.4zM277.4 159.9l2.7 4.8h-5.4zM277.6 157.8l2.7 4.8h-5.4zM277.8 157.9l2.7 4.8h-5.4zM277.9 158.8l2.7 4.8h-5.4zM278.1 156.7l2.7 4.8h-5.4zM278.2 154.5l2.7 4.8h-5.4zM278.3 163.1l2.7 4.8h-5.4zM278.5 158.8l2.7 4.8h-5.4zM278.6 157.6l2.7 4.8h-5.4zM278.7 175.1l2.7 4.8h-5.4zM278.9 165.4l2.7 4.8h-5.4zM279 162.3l2.7 4.8h-5.4zM279.3 162.2l2.7 4.8h-5.4zM279.4 161.9l2.7 4.8h-5.4zM279.5 163.2l2.7 4.8h-5.4zM279.7 162.4l2.7 4.8h-5.4zM279.8 170.3l2.7 4.8h-5.4zM279.9 169.6l2.7 4.8h-5.4zM280.2 168.7l2.7 4.8h-5.4zM280.3 169.5l2.7 4.8h-5.4zM280.5 164.7l2.7 4.8h-5.4zM280.6 155.9l2.7 4.8h-5.4zM280.7 162.9l2.7 4.8h-5.4zM280.8 163l2.7 4.8h-5.4zM281.1 170.8l2.7 4.8h-5.4zM281.2 160.3l2.7 4.8h-5.4zM281.3 159.4l2.7 4.8h-5.4zM281.5 166.6l2.7 4.8h-5.4zM281.6 153.6l2.7 4.8h-5.4zM281.7 168.9l2.7 4.8h-5.4zM281.8 163.3l2.7 4.8h-5.4zM282 158.9l2.7 4.8h-5.4zM282.1 168.4l2.7 4.8h-5.4zM282.2 162.4l2.7 4.8h-5.4zM282.3 160.5l2.7 4.8h-5.4zM282.5 160.2l2.7 4.8h-5.4zM282.6 164.7l2.7 4.8h-5.4zM282.7 168.3l2.7 4.8h-5.4zM282.8 161.1l2.7 4.8h-5.4zM282.9 164.4l2.7 4.8h-5.4zM283.2 163.6l2.7 4.8h-5.4zM283.3 156.5l2.7 4.8h-5.4zM283.6 179.6l2.7 4.8h-5.4zM283.8 169l2.7 4.8h-5.4zM283.9 170.8l2.7 4.8h-5.4zM284 168l2.7 4.8h-5.4zM284.1 155.9l2.7 4.8h-5.4zM284.2 158.3l2.7 4.8h-5.4zM284.4 156.8l2.7 4.8h-5.4zM284.6 158l2.7 4.8h-5.4zM284.7 158.4l2.7 4.8h-5.4zM284.8 167.8l2.7 4.8h-5.4zM284.9 169.2l2.7 4.8h-5.4zM285 155.2l2.7 4.8h-5.4zM285.1 167.9l2.7 4.8h-5.4zM285.2 160.4l2.7 4.8h-5.4zM285.4 157.7l2.7 4.8h-5.4zM285.6 164.3l2.7 4.8h-5.4zM285.7 168.1l2.7 4.8h-5.4zM285.8 168.4l2.7 4.8h-5.4zM285.9 169.1l2.7 4.8h-5.4zM286 169.1l2.7 4.8h-5.4zM286.1 156.5l2.7 4.8h-5.4zM286.2 165.7l2.7 4.8h-5.4zM286.3 156.7l2.7 4.8h-5.4zM286.4 160.6l2.7 4.8h-5.4zM286.5 168l2.7 4.8h-5.4zM286.6 159.5l2.7 4.8h-5.4zM286.7 156.3l2.7 4.8h-5.4zM287 157.8l2.7 4.8h-5.4zM287.1 158.9l2.7 4.8h-5.4zM287.2 165.9l2.7 4.8h-5.4zM287.3 157.7l2.7 4.8h-5.4zM287.4 155.2l2.7 4.8h-5.4zM287.5 163.5l2.7 4.8h-5.4zM287.7 169.9l2.7 4.8h-5.4zM287.8 162.4l2.7 4.8h-5.4zM287.9 160.8l2.7 4.8h-5.4zM288 172.2l2.7 4.8h-5.4zM288.1 164.9l2.7 4.8h-5.4zM288.2 174.4l2.7 4.8h-5.4zM288.3 164.2l2.7 4.8h-5.4zM288.4 170.2l2.7 4.8h-5.4zM288.6 170.3l2.7 4.8h-5.4zM288.7 169.7l2.7 4.8h-5.4zM288.8 155.7l2.7 4.8h-5.4zM288.9 162.4l2.7 4.8h-5.4zM289 168.2l2.7 4.8h-5.4zM289.1 172l2.7 4.8h-5.4zM289.2 171.6l2.7 4.8h-5.4zM289.4 157.4l2.7 4.8h-5.4zM289.5 157.5l2.7 4.8h-5.4zM289.6 161.9l2.7 4.8h-5.4zM289.7 160.8l2.7 4.8h-5.4zM289.8 165.3l2.7 4.8h-5.4zM290 165.2l2.7 4.8h-5.4zM290 169l2.7 4.8h-5.4zM290.1 167.3l2.7 4.8h-5.4zM290.3 159.2l2.7 4.8h-5.4zM290.4 160.4l2.7 4.8h-5.4zM290.5 161.2l2.7 4.8h-5.4zM290.6 169.1l2.7 4.8h-5.4zM290.7 155.4l2.7 4.8h-5.4zM290.8 170.8l2.7 4.8h-5.4zM290.9 171l2.7 4.8h-5.4zM291 158.9l2.7 4.8h-5.4zM291.2 155.3l2.7 4.8h-5.4zM291.3 156.7l2.7 4.8h-5.4zM291.4 165.9l2.7 4.8h-5.4zM291.4 169.1l2.7 4.8h-5.4zM291.5 172.4l2.7 4.8h-5.4zM291.6 159.3l2.7 4.8h-5.4zM291.7 158.5l2.7 4.8h-5.4zM291.8 155.7l2.7 4.8h-5.4zM291.9 163.6l2.7 4.8h-5.4zM292.3 163.8l2.7 4.8h-5.4zM292.4 158.7l2.7 4.8h-5.4zM292.6 173l2.7 4.8h-5.4zM292.7 156l2.7 4.8h-5.4zM292.9 169.9l2.7 4.8h-5.4zM293 174.6l2.7 4.8h-5.4zM293 179.9l2.7 4.8h-5.4zM293.1 166.4l2.7 4.8h-5.4zM293.2 175.1l2.7 4.8h-5.4zM293.4 171.5l2.7 4.8h-5.4zM293.6 168.5l2.7 4.8h-5.4zM293.7 162.2l2.7 4.8h-5.4zM293.7 170.6l2.7 4.8h-5.4zM293.8 166.6l2.7 4.8h-5.4zM293.9 174.5l2.7 4.8h-5.4zM294.1 177l2.7 4.8h-5.4zM294.2 163.5l2.7 4.8h-5.4zM294.3 157.5l2.7 4.8h-5.4zM294.4 156.5l2.7 4.8h-5.4zM294.5 163.4l2.7 4.8h-5.4zM294.7 175.7l2.7 4.8h-5.4zM294.8 156.5l2.7 4.8h-5.4zM295.1 161.6l2.7 4.8h-5.4zM295.2 174.4l2.7 4.8h-5.4zM295.3 167.1l2.7 4.8h-5.4zM295.4 182.1l2.7 4.8h-5.4zM295.5 172.5l2.7 4.8h-5.4zM295.6 183.4l2.7 4.8h-5.4zM295.6 169.1l2.7 4.8h-5.4zM295.7 159.2l2.7 4.8h-5.4zM296 163.7l2.7 4.8h-5.4zM296.1 158.6l2.7 4.8h-5.4zM296.2 164.4l2.7 4.8h-5.4zM296.3 156.6l2.7 4.8h-5.4zM296.5 158.3l2.7 4.8h-5.4zM296.7 158.9l2.7 4.8h-5.4zM297 158.1l2.7 4.8h-5.4zM297.1 171.6l2.7 4.8h-5.4zM297.2 168.1l2.7 4.8h-5.4zM297.3 175.4l2.7 4.8h-5.4zM297.3 181.9l2.7 4.8h-5.4zM297.5 160.4l2.7 4.8h-5.4zM297.6 176l2.7 4.8h-5.4zM297.6 164.1l2.7 4.8h-5.4zM297.8 175.4l2.7 4.8h-5.4zM297.9 158.5l2.7 4.8h-5.4zM298 162l2.7 4.8h-5.4zM298.1 168.3l2.7 4.8h-5.4zM298.2 163.6l2.7 4.8h-5.4zM298.2 170l2.7 4.8h-5.4zM298.4 171.5l2.7 4.8h-5.4zM298.5 173.5l2.7 4.8h-5.4zM298.5 175l2.7 4.8h-5.4zM298.6 171.7l2.7 4.8h-5.4zM298.7 160l2.7 4.8h-5.4zM298.8 177.1l2.7 4.8h-5.4zM298.8 174.4l2.7 4.8h-5.4zM298.9 160.8l2.7 4.8h-5.4zM299 160.8l2.7 4.8h-5.4zM299.1 163.6l2.7 4.8h-5.4zM299.2 179.9l2.7 4.8h-5.4zM299.3 175.2l2.7 4.8h-5.4zM299.3 163.7l2.7 4.8h-5.4zM299.5 165l2.7 4.8h-5.4zM299.6 171.2l2.7 4.8h-5.4zM299.7 180.6l2.7 4.8h-5.4zM299.8 179.9l2.7 4.8h-5.4zM299.9 158.3l2.7 4.8h-5.4zM300 184.4l2.7 4.8h-5.4zM300.2 189.8l2.7 4.8h-5.4zM300.4 158.5l2.7 4.8h-5.4zM300.5 162l2.7 4.8h-5.4zM300.6 183.2l2.7 4.8h-5.4zM300.7 187.2l2.7 4.8h-5.4zM300.8 179.2l2.7 4.8h-5.4zM300.9 159.7l2.7 4.8h-5.4zM300.9 184.2l2.7 4.8h-5.4zM301.1 157.9l2.7 4.8h-5.4zM301.2 162.5l2.7 4.8h-5.4zM301.3 158.2l2.7 4.8h-5.4zM301.4 168.2l2.7 4.8h-5.4zM301.5 175.6l2.7 4.8h-5.4zM301.8 157.4l2.7 4.8h-5.4zM301.9 160l2.7 4.8h-5.4zM301.9 159.8l2.7 4.8h-5.4zM302.1 175l2.7 4.8h-5.4zM302.1 157.7l2.7 4.8h-5.4zM302.3 176.4l2.7 4.8h-5.4zM302.4 183.6l2.7 4.8h-5.4zM302.5 173l2.7 4.8h-5.4zM302.5 184.4l2.7 4.8h-5.4zM302.6 189.4l2.7 4.8h-5.4zM302.7 176.3l2.7 4.8h-5.4zM302.8 157.3l2.7 4.8h-5.4zM302.9 159.8l2.7 4.8h-5.4zM303 181.3l2.7 4.8h-5.4zM303 174.8l2.7 4.8h-5.4zM303.3 168.1l2.7 4.8h-5.4zM303.3 157.9l2.7 4.8h-5.4zM303.5 160.4l2.7 4.8h-5.4zM303.6 165.2l2.7 4.8h-5.4zM303.7 177.4l2.7 4.8h-5.4zM304 163.8l2.7 4.8h-5.4zM304.3 162.3l2.7 4.8h-5.4zM304.3 165.5l2.7 4.8h-5.4zM304.4 166.2l2.7 4.8h-5.4zM304.6 168.6l2.7 4.8h-5.4zM304.8 164.5l2.7 4.8h-5.4zM304.9 175.4l2.7 4.8h-5.4zM304.9 162.3l2.7 4.8h-5.4zM305.1 184.9l2.7 4.8h-5.4zM305.2 170.5l2.7 4.8h-5.4zM305.5 160.3l2.7 4.8h-5.4zM305.6 166.6l2.7 4.8h-5.4zM305.8 162.2l2.7 4.8h-5.4zM305.8 169l2.7 4.8h-5.4zM305.9 165.5l2.7 4.8h-5.4zM305.9 171.8l2.7 4.8h-5.4zM306 158.6l2.7 4.8h-5.4zM306.1 181.6l2.7 4.8h-5.4zM306.1 192.2l2.7 4.8h-5.4zM306.3 166.7l2.7 4.8h-5.4zM306.6 186.8l2.7 4.8h-5.4zM306.6 189.4l2.7 4.8h-5.4zM306.7 161.8l2.7 4.8h-5.4zM306.7 162l2.7 4.8h-5.4zM306.9 163.9l2.7 4.8h-5.4zM307 172.7l2.7 4.8h-5.4zM307 184.3l2.7 4.8h-5.4zM307.1 169.3l2.7 4.8h-5.4zM307.1 180.7l2.7 4.8h-5.4zM307.2 181.6l2.7 4.8h-5.4zM307.4 175.4l2.7 4.8h-5.4zM307.4 186.6l2.7 4.8h-5.4zM307.5 183.6l2.7 4.8h-5.4zM307.6 163.3l2.7 4.8h-5.4zM307.7 159.9l2.7 4.8h-5.4zM307.9 189.1l2.7 4.8h-5.4zM307.9 160l2.7 4.8h-5.4zM308 178.1l2.7 4.8h-5.4zM308.1 188.3l2.7 4.8h-5.4zM308.2 192.8l2.7 4.8h-5.4zM308.2 178.4l2.7 4.8h-5.4zM308.3 170.3l2.7 4.8h-5.4zM308.4 192.4l2.7 4.8h-5.4zM308.5 187.7l2.7 4.8h-5.4zM308.5 182.2l2.7 4.8h-5.4zM308.6 189.5l2.7 4.8h-5.4zM308.7 158.9l2.7 4.8h-5.4zM308.8 170.6l2.7 4.8h-5.4zM308.9 179.5l2.7 4.8h-5.4zM308.9 168.1l2.7 4.8h-5.4zM309 166.8l2.7 4.8h-5.4zM309.1 187.3l2.7 4.8h-5.4zM309.1 161.6l2.7 4.8h-5.4zM309.2 173.9l2.7 4.8h-5.4zM309.3 190.2l2.7 4.8h-5.4zM309.3 188.7l2.7 4.8h-5.4zM309.4 175.4l2.7 4.8h-5.4zM309.6 165.1l2.7 4.8h-5.4zM309.7 184.6l2.7 4.8h-5.4zM309.7 162.4l2.7 4.8h-5.4zM309.8 163.2l2.7 4.8h-5.4zM309.8 170.5l2.7 4.8h-5.4zM309.9 176.3l2.7 4.8h-5.4zM309.9 179.7l2.7 4.8h-5.4zM310 158.3l2.7 4.8h-5.4zM310 188.1l2.7 4.8h-5.4zM310.1 168.2l2.7 4.8h-5.4zM310.2 168.5l2.7 4.8h-5.4zM310.3 178.3l2.7 4.8h-5.4zM310.4 176.3l2.7 4.8h-5.4zM310.4 165.9l2.7 4.8h-5.4zM310.5 165.3l2.7 4.8h-5.4zM310.7 172.2l2.7 4.8h-5.4zM310.8 161l2.7 4.8h-5.4zM310.8 180.5l2.7 4.8h-5.4zM310.9 174.5l2.7 4.8h-5.4zM310.9 184.6l2.7 4.8h-5.4zM311.1 161.9l2.7 4.8h-5.4zM311.2 168.5l2.7 4.8h-5.4zM311.3 167.2l2.7 4.8h-5.4zM311.4 172.9l2.7 4.8h-5.4zM311.5 183.8l2.7 4.8h-5.4zM311.5 159.3l2.7 4.8h-5.4zM311.6 161.8l2.7 4.8h-5.4zM311.6 187.4l2.7 4.8h-5.4zM311.7 164.5l2.7 4.8h-5.4zM311.8 180.4l2.7 4.8h-5.4zM311.9 186.1l2.7 4.8h-5.4zM311.9 179.3l2.7 4.8h-5.4zM312 159.6l2.7 4.8h-5.4zM312.2 175.2l2.7 4.8h-5.4zM312.2 187l2.7 4.8h-5.4zM312.3 172l2.7 4.8h-5.4zM312.4 192.7l2.7 4.8h-5.4zM312.5 179.4l2.7 4.8h-5.4zM312.5 168.6l2.7 4.8h-5.4zM312.6 176.2l2.7 4.8h-5.4zM312.6 183l2.7 4.8h-5.4zM312.7 159.5l2.7 4.8h-5.4zM312.8 165.1l2.7 4.8h-5.4zM312.9 172.8l2.7 4.8h-5.4zM312.9 188.6l2.7 4.8h-5.4zM313 196.8l2.7 4.8h-5.4zM313.1 171.7l2.7 4.8h-5.4zM313.1 182.1l2.7 4.8h-5.4zM313.2 178.1l2.7 4.8h-5.4zM313.3 185.1l2.7 4.8h-5.4zM313.4 174l2.7 4.8h-5.4zM313.4 159.8l2.7 4.8h-5.4zM313.5 166l2.7 4.8h-5.4zM313.5 163.6l2.7 4.8h-5.4zM313.6 184.3l2.7 4.8h-5.4zM313.6 184.1l2.7 4.8h-5.4zM313.8 159.1l2.7 4.8h-5.4zM314 164.5l2.7 4.8h-5.4zM314.1 171.2l2.7 4.8h-5.4zM314.2 177l2.7 4.8h-5.4zM314.2 160.7l2.7 4.8h-5.4zM314.3 163.2l2.7 4.8h-5.4zM314.4 161.9l2.7 4.8h-5.4zM314.4 177.9l2.7 4.8h-5.4zM314.5 175.4l2.7 4.8h-5.4zM314.5 187.9l2.7 4.8h-5.4zM314.6 179.9l2.7 4.8h-5.4zM314.6 165.1l2.7 4.8h-5.4zM314.7 183l2.7 4.8h-5.4zM314.8 184.2l2.7 4.8h-5.4zM314.8 186l2.7 4.8h-5.4zM314.9 186.4l2.7 4.8h-5.4zM314.9 167.5l2.7 4.8h-5.4zM315 158.8l2.7 4.8h-5.4zM315.2 178.4l2.7 4.8h-5.4zM315.2 169.7l2.7 4.8h-5.4zM315.2 174l2.7 4.8h-5.4zM315.3 184.8l2.7 4.8h-5.4zM315.4 195l2.7 4.8h-5.4zM315.4 168.9l2.7 4.8h-5.4zM315.5 190.5l2.7 4.8h-5.4zM315.6 161l2.7 4.8h-5.4zM315.7 168.6l2.7 4.8h-5.4zM315.7 177.5l2.7 4.8h-5.4zM315.8 174.6l2.7 4.8h-5.4zM315.8 160.9l2.7 4.8h-5.4zM315.8 182l2.7 4.8h-5.4zM315.9 167l2.7 4.8h-5.4zM316 176.9l2.7 4.8h-5.4zM316.1 189.8l2.7 4.8h-5.4zM316.1 184.3l2.7 4.8h-5.4zM316.1 181.4l2.7 4.8h-5.4zM316.2 187.2l2.7 4.8h-5.4zM316.3 170.5l2.7 4.8h-5.4zM316.3 167.1l2.7 4.8h-5.4zM316.4 184.9l2.7 4.8h-5.4zM316.4 168.3l2.7 4.8h-5.4zM316.4 171.5l2.7 4.8h-5.4zM316.5 162.4l2.7 4.8h-5.4zM316.5 186.6l2.7 4.8h-5.4zM316.6 169.1l2.7 4.8h-5.4zM316.6 174.7l2.7 4.8h-5.4zM316.6 159.9l2.7 4.8h-5.4zM316.7 172.7l2.7 4.8h-5.4zM316.8 176.1l2.7 4.8h-5.4zM316.8 189.9l2.7 4.8h-5.4zM316.9 191.2l2.7 4.8h-5.4zM316.9 166.9l2.7 4.8h-5.4zM316.9 181.7l2.7 4.8h-5.4zM317.1 178.7l2.7 4.8h-5.4zM317.1 184.8l2.7 4.8h-5.4zM317.2 184.1l2.7 4.8h-5.4zM317.2 160.1l2.7 4.8h-5.4zM317.3 184l2.7 4.8h-5.4zM317.3 181l2.7 4.8h-5.4zM317.3 178.8l2.7 4.8h-5.4zM317.5 167.6l2.7 4.8h-5.4zM317.6 163l2.7 4.8h-5.4zM317.6 176.5l2.7 4.8h-5.4zM317.7 179.8l2.7 4.8h-5.4zM317.8 164.1l2.7 4.8h-5.4zM317.8 166.4l2.7 4.8h-5.4zM317.8 191l2.7 4.8h-5.4zM317.9 183.9l2.7 4.8h-5.4zM317.9 181.8l2.7 4.8h-5.4zM318 173.3l2.7 4.8h-5.4zM318 159.8l2.7 4.8h-5.4zM318.1 181.2l2.7 4.8h-5.4zM318.2 167.2l2.7 4.8h-5.4zM318.3 175.3l2.7 4.8h-5.4zM318.3 177.6l2.7 4.8h-5.4zM318.4 177.9l2.7 4.8h-5.4zM318.5 163.6l2.7 4.8h-5.4zM318.5 171.6l2.7 4.8h-5.4zM318.6 161.3l2.7 4.8h-5.4zM318.7 182.9l2.7 4.8h-5.4zM318.7 175l2.7 4.8h-5.4zM318.7 190l2.7 4.8h-5.4zM318.8 163.1l2.7 4.8h-5.4zM319 189.2l2.7 4.8h-5.4z"/>
<path fill="#00f" d="M71.9 110.9a2.3 2.3 0 1 0 4.6 0a2.3 2.3 0 1 0 -4.6 0zM112.1 110.5a2.3 2.3 0 1 0 4.6 0a2.3 2.3 0 1 0 -4.6 0zM129.3 114.8a2.3 2.3 0 1 0 4.6 0a2.3 2.3 0 1 0 -4.6 0zM140.5 114.8a2.3 2.3 0 1 0 4.6 0a2.3 2.3 0 1 0 -4.6 0zM148.8 116a2.3 2.3 0 1 0 4.6 0a2.3 2.3 0 1 0 -4.6 0zM155.3 119.2a2.3 2.3 0 1 0 4.6 0a2.3 2.3 0 1 0 -4.6 0zM160.8 119.2a2.3 2.3 0 1 0 4.6 0a2.3 2.3 0 1 0 -4.6 0zM165.4 124.3a2.3 2.3 0 1 0 4.6 0a2.3 2.3 0 1 0 -4.6 0zM169.5 122a2.3 2.3 0 1 0 4.6 0a2.3 2.3 0 1 0 -4.6 0zM173.1 120.5a2.3 2.3 0 1 0 4.6 0a2.3 2.3 0 1 0 -4.6 0zM176.3 121a2.3 2.3 0 1 0 4.6 0a2.3 2.3 0 1 0 -4.6 0zM182 120.6a2.3 2.3 0 1 0 4.6 0a2.3 2.3 0 1 0 -4.6 0zM184.4 122a2.3 2.3 0 1 0 4.6 0a2.3 2.3 0 1 0 -4.6 0zM188.9 125.4a2.3 2.3 0 1 0 4.6 0a2.3 2.3 0 1 0 -4.6 0zM190.9 137a2.3 2.3 0 1 0 4.6 0a2.3 2.3 0 1 0 -4.6 0zM194.6 134.8a2.3 2.3 0 1 0 4.6 0a2.3 2.3 0 1 0 -4.6 0zM197.9 135.1a2.3 2.3 0 1 0 4.6 0a2.3 2.3 0 1 0 -4.6 0zM199.5 140.9a2.3 2.3 0 1 0 4.6 0a2.3 2.3 0 1 0 -4.6 0zM200.9 131.5a2.3 2.3 0 1 0 4.6 0a2.3 2.3 0 1 0 -4.6 0zM202.3 119.2a2.3 2.3 0 1 0 4.6 0a2.3 2.3 0 1 0 -4.6 0zM203.7 131.1a2.3 2.3 0 1 0 4.6 0a2.3 2.3 0 1 0 -4.6 0zM204.9 131.7a2.3 2.3 0 1 0 4.6 0a2.3 2.3 0 1 0 -4.6 0zM206.2 127.8a2.3 2.3 0 1 0 4.6 0a2.3 2.3 0 1 0 -4.6 0zM207.4 141.4a2.3 2.3 0 1 0 4.6 0a2.3 2.3 0 1 0 -4.6 0zM209.6 131.6a2.3 2.3 0 1 0 4.6 0a2.3 2.3 0 1 0 -4.6 0zM210.7 125.7a2.3 2.3 0 1 0 4.6 0a2.3 2.3 0 1 0 -4.6 0zM211.7 122a2.3 2.3 0 1 0 4.6 0a2.3 2.3 0 1 0 -4.6 0zM213.7 124.4a2.3 2.3 0 1 0 4.6 0a2.3 2.3 0 1 0 -4.6 0zM214.7 131.3a2.3 2.3 0 1 0 4.6 0a2.3 2.3 0 1 0 -4.6 0zM215.6 121.9a2.3 2.3 0 1 0 4.6 0a2.3 2.3 0 1 0 -4.6 0zM216.5 127.4a2.3 2.3 0 1 0 4.6 0a2.3 2.3 0 1 0 -4.6 0zM217.3 130.2a2.3 2.3 0 1 0 4.6 0a2.3 2.3 0 1 0 -4.6 0zM218.2 137.5a2.3 2.3 0 1 0 4.6 0a2.3 2.3 0 1 0 -4.6 0zM219 127.9a2.3 2.3 0 1 0 4.6 0a2.3 2.3 0 1 0 -4.6 0zM219.8 124.8a2.3 2.3 0 1 0 4.6 0a2.3 2.3 0 1 0 -4.6 0zM220.6 135.7a2.3 2.3 0 1 0 4.6 0a2.3 2.3 0 1 0 -4.6 0zM221.4 134.6a2.3 2.3 0 1 0 4.6 0a2.3 2.3 0 1 0 -4.6 0zM222.1 128.8a2.3 2.3 0 1 0 4.6 0a2.3 2.3 0 1 0 -4.6 0zM222.8 139.7a2.3 2.3 0 1 0 4.6 0a2.3 2.3 0 1 0 -4.6 0zM223.6 122.8a2.3 2.3 0 1 0 4.6 0a2.3 2.3 0 1 0 -4.6 0zM224.3 147.7a2.3 2.3 0 1 0 4.6 0a2.3 2.3 0 1 0 -4.6 0zM224.9 131.2a2.3 2.3 0 1 0 4.6 0a2.3 2.3 0 1 0 -4.6 0zM225.6 135.3a2.3 2.3 0 1 0 4.6 0a2.3 2.3 0 1 0 -4.6 0zM226.3 140.6a2.3 2.3 0 1 0 4.6 0a2.3 2.3 0 1 0 -4.6 0zM226.9 136.9a2.3 2.3 0 1 0 4.6 0a2.3 2.3 0 1 0 -4.6 0zM227.5 130.1a2.3 2.3 0 1 0 4.6 0a2.3 2.3 0 1 0 -4.6 0zM228.2 132.1a2.3 2.3 0 1 0 4.6 0a2.3 2.3 0 1 0 -4.6 0zM228.8 138.4a2.3 2.3 0 1 0 4.6 0a2.3 2.3 0 1 0 -4.6 0zM229.4 143.4a2.3 2.3 0 1 0 4.6 0a2.3 2.3 0 1 0 -4.6 0zM229.9 124a2.3 2.3 0 1 0 4.6 0a2.3 2.3 0 1 0 -4.6 0zM231.1 134.1a2.3 2.3 0 1 0 4.6 0a2.3 2.3 0 1 0 -4.6 0zM231.6 149.4a2.3 2.3 0 1 0 4.6 0a2.3 2.3 0 1 0 -4.6 0zM232.2 135.6a2.3 2.3 0 1 0 4.6 0a2.3 2.3 0 1 0 -4.6 0zM233.2 149.5a2.3 2.3 0 1 0 4.6 0a2.3 2.3 0 1 0 -4.6 0zM233.8 142.4a2.3 2.3 0 1 0 4.6 0a2.3 2.3 0 1 0 -4.6 0zM234.3 135.7a2.3 2.3 0 1 0 4.6 0a2.3 2.3 0 1 0 -4.6 0zM235.7 139a2.3 2.3 0 1 0 4.6 0a2.3 2.3 0 1 0 -4.6 0zM237.2 125.9a2.3 2.3 0 1 0 4.6 0a2.3 2.3 0 1 0 -4.6 0zM237.6 131.5a2.3 2.3 0 1 0 4.6 0a2.3 2.3 0 1 0 -4.6 0zM238.1 130.1a2.3 2.3 0 1 0 4.6 0a2.3 2.3 0 1 0 -4.6 0zM238.5 137.7a2.3 2.3 0 1 0 4.6 0a2.3 2.3 0 1 0 -4.6 0zM239 137.1a2.3 2.3 0 1 0 4.6 0a2.3 2.3 0 1 0 -4.6 0zM239.4 137.1a2.3 2.3 0 1 0 4.6 0a2.3 2.3 0 1 0 -4.6 0zM239.8 143.9a2.3 2.3 0 1 0 4.6 0a2.3 2.3 0 1 0 -4.6 0zM240.2 142.5a2.3 2.3 0 1 0 4.6 0a2.3 2.3 0 1 0 -4.6 0zM240.7 132.8a2.3 2.3 0 1 0 4.6 0a2.3 2.3 0 1 0 -4.6 0zM241.1 136.2a2.3 2.3 0 1 0 4.6 0a2.3 2.3 0 1 0 -4.6 0zM241.9 141a2.3 2.3 0 1 0 4.6 0a2.3 2.3 0 1 0 -4.6 0zM242.3 141.4a2.3 2.3 0 1 0 4.6 0a2.3 2.3 0 1 0 -4.6 0zM242.7 154.9a2.3 2.3 0 1 0 4.6 0a2.3 2.3 0 1 0 -4.6 0zM243.1 149.8a2.3 2.3 0 1 0 4.6 0a2.3 2.3 0 1 0 -4.6 0zM243.4 137.4a2.3 2.3 0 1 0 4.6 0a2.3 2.3 0 1 0 -4.6 0zM243.8 149.7a2.3 2.3 0 1 0 4.6 0a2.3 2.3 0 1 0 -4.6 0zM244.2 134.2a2.3 2.3 0 1 0 4.6 0a2.3 2.3 0 1 0 -4.6 0zM244.6 140.6a2.3 2.3 0 1 0 4.6 0a2.3 2.3 0 1 0 -4.6 0zM244.9 149.2a2.3 2.3 0 1 0 4.6 0a2.3 2.3 0 1 0 -4.6 0zM245.3 144.6a2.3 2.3 0 1 0 4.6 0a2.3 2.3 0 1 0 -4.6 0zM245.6 156.3a2.3 2.3 0 1 0 4.6 0a2.3 2.3 0 1 0 -4.6 0zM246 147.8a2.3 2.3 0 1 0 4.6 0a2.3 2.3 0 1 0 -4.6 0zM246.7 149.9a2.3 2.3 0 1 0 4.6 0a2.3 2.3 0 1 0 -4.6 0zM247 143a2.3 2.3 0 1 0 4.6 0a2.3 2.3 0 1 0 -4.6 0zM247.4 128.5a2.3 2.3 0 1 0 4.6 0a2.3 2.3 0 1 0 -4.6 0zM247.7 144.2a2.3 2.3 0 1 0 4.6 0a2.3 2.3 0 1 0 -4.6 0zM248 142.2a2.3 2.3 0 1 0 4.6 0a2.3 2.3 0 1 0 -4.6 0zM248.4 145.8a2.3 2.3 0 1 0 4.6 0a2.3 2.3 0 1 0 -4.6 0zM248.7 143.3a2.3 2.3 0 1 0 4.6 0a2.3 2.3 0 1 0 -4.6 0zM249 132.5a2.3 2.3 0 1 0 4.6 0a2.3 2.3 0 1 0 -4.6 0zM249.3 148.2a2.3 2.3 0 1 0 4.6 0a2.3 2.3 0 1 0 -4.6 0zM249.6 147.6a2.3 2.3 0 1 0 4.6 0a2.3 2.3 0 1 0 -4.6 0zM249.9 156.5a2.3 2.3 0 1 0 4.6 0a2.3 2.3 0 1 0 -4.6 0zM250.2 129.2a2.3 2.3 0 1 0 4.6 0a2.3 2.3 0 1 0 -4.6 0zM250.6 143.6a2.3 2.3 0 1 0 4.6 0a2.3 2.3 0 1 0 -4.6 0zM250.9 132.3a2.3 2.3 0 1 0 4.6 0a2.3 2.3 0 1 0 -4.6 0zM251.2 146.1a2.3 2.3 0 1 0 4.6 0a2.3 2.3 0 1 0 -4.6 0zM251.5 129.7a2.3 2.3 0 1 0 4.6 0a2.3 2.3 0 1 0 -4.6 0zM251.7 135.8a2.3 2.3 0 1 0 4.6 0a2.3 2.3 0 1 0 -4.6 0zM252 143.9a2.3 2.3 0 1 0 4.6 0a2.3 2.3 0 1 0 -4.6 0zM252.3 136.1a2.3 2.3 0 1 0 4.6 0a2.3 2.3 0 1 0 -4.6 0zM252.6 140.1a2.3 2.3 0 1 0 4.6 0a2.3 2.3 0 1 0 -4.6 0zM252.9 138a2.3 2.3 0 1 0 4.6 0a2.3 2.3 0 1 0 -4.6 0zM253.2 150.3a2.3 2.3 0 1 0 4.6 0a2.3 2.3 0 1 0 -4.6 0zM253.5 143.6a2.3 2.3 0 1 0 4.6 0a2.3 2.3 0 1 0 -4.6 0zM253.7 147.7a2.3 2.3 0 1 0 4.6 0a2.3 2.3 0 1 0 -4.6 0zM254 129.3a2.3 2.3 0 1 0 4.6 0a2.3 2.3 0 1 0 -4.6 0zM254.3 140.1a2.3 2.3 0 1 0 4.6 0a2.3 2.3 0 1 0 -4.6 0zM254.6 129a2.3 2.3 0 1 0 4.6 0a2.3 2.3 0 1 0 -4.6 0zM254.8 149.1a2.3 2.3 0 1 0 4.6 0a2.3 2.3 0 1 0 -4.6 0zM255.1 149.9a2.3 2.3 0 1 0 4.6 0a2.3 2.3 0 1 0 -4.6 0zM255.3 146.4a2.3 2.3 0 1 0 4.6 0a2.3 2.3 0 1 0 -4.6 0zM255.6 137.9a2.3 2.3 0 1 0 4.6 0a2.3 2.3 0 1 0 -4.6 0zM255.9 142.9a2.3 2.3 0 1 0 4.6 0a2.3 2.3 0 1 0 -4.6 0zM256.1 132.6a2.3 2.3 0 1 0 4.6 0a2.3 2.3 0 1 0 -4.6 0zM256.4 141.6a2.3 2.3 0 1 0 4.6 0a2.3 2.3 0 1 0 -4.6 0zM256.6 145.3a2.3 2.3 0 1 0 4.6 0a2.3 2.3 0 1 0 -4.6 0zM256.9 143.9a2.3 2.3 0 1 0 4.6 0a2.3 2.3 0 1 0 -4.6 0zM257.1 151.2a2.3 2.3 0 1 0 4.6 0a2.3 2.3 0 1 0 -4.6 0zM257.4 134.7a2.3 2.3 0 1 0 4.6 0a2.3 2.3 0 1 0 -4.6 0zM257.6 131.2a2.3 2.3 0 1 0 4.6 0a2.3 2.3 0 1 0 -4.6 0zM257.9 133a2.3 2.3 0 1 0 4.6 0a2.3 2.3 0 1 0 -4.6 0zM258.1 133.4a2.3 2.3 0 1 0 4.6 0a2.3 2.3 0 1 0 -4.6 0zM258.3 128.8a2.3 2.3 0 1 0 4.6 0a2.3 2.3 0 1 0 -4.6 0zM258.6 133.5a2.3 2.3 0 1 0 4.6 0a2.3 2.3 0 1 0 -4.6 0zM258.8 128.9a2.3 2.3 0 1 0 4.6 0a2.3 2.3 0 1 0 -4.6 0zM259.1 144.8a2.3 2.3 0 1 0 4.6 0a2.3 2.3 0 1 0 -4.6 0zM259.3 128.8a2.3 2.3 0 1 0 4.6 0a2.3 2.3 0 1 0 -4.6 0zM259.5 149.8a2.3 2.3 0 1 0 4.6 0a2.3 2.3 0 1 0 -4.6 0zM259.7 139.8a2.3 2.3 0 1 0 4.6 0a2.3 2.3 0 1 0 -4.6 0zM260 153.1a2.3 2.3 0 1 0 4.6 0a2.3 2.3 0 1 0 -4.6 0zM260.2 146.4a2.3 2.3 0 1 0 4.6 0a2.3 2.3 0 1 0 -4.6 0zM260.4 138.2a2.3 2.3 0 1 0 4.6 0a2.3 2.3 0 1 0 -4.6 0zM260.6 133a2.3 2.3 0 1 0 4.6 0a2.3 2.3 0 1 0 -4.6 0zM260.9 135.7a2.3 2.3 0 1 0 4.6 0a2.3 2.3 0 1 0 -4.6 0zM261.1 130a2.3 2.3 0 1 0 4.6 0a2.3 2.3 0 1 0 -4.6 0zM261.3 147.4a2.3 2.3 0 1 0 4.6 0a2.3 2.3 0 1 0 -4.6 0zM261.5 141.7a2.3 2.3 0 1 0 4.6 0a2.3 2.3 0 1 0 -4.6 0zM261.7 151a2.3 2.3 0 1 0 4.6 0a2.3 2.3 0 1 0 -4.6 0zM261.9 148.6a2.3 2.3 0 1 0 4.6 0a2.3 2.3 0 1 0 -4.6 0zM262.2 135.9a2.3 2.3 0 1 0 4.6 0a2.3 2.3 0 1 0 -4.6 0zM262.4 149.5a2.3 2.3 0 1 0 4.6 0a2.3 2.3 0 1 0 -4.6 0zM262.6 132.5a2.3 2.3 0 1 0 4.6 0a2.3 2.3 0 1 0 -4.6 0zM262.8 153.4a2.3 2.3 0 1 0 4.6 0a2.3 2.3 0 1 0 -4.6 0zM263 141.9a2.3 2.3 0 1 0 4.6 0a2.3 2.3 0 1 0 -4.6 0zM263.2 150.9a2.3 2.3 0 1 0 4.6 0a2.3 2.3 0 1 0 -4.6 0zM263.4 139.9a2.3 2.3 0 1 0 4.6 0a2.3 2.3 0 1 0 -4.6 0zM263.6 142.7a2.3 2.3 0 1 0 4.6 0a2.3 2.3 0 1 0 -4.6 0zM263.8 147.5a2.3 2.3 0 1 0 4.6 0a2.3 2.3 0 1 0 -4.6 0zM264 151.4a2.3 2.3 0 1 0 4.6 0a2.3 2.3 0 1 0 -4.6 0zM264.2 130.9a2.3 2.3 0 1 0 4.6 0a2.3 2.3 0 1 0 -4.6 0zM264.4 132.9a2.3 2.3 0 1 0 4.6 0a2.3 2.3 0 1 0 -4.6 0zM264.6 143.6a2.3 2.3 0 1 0 4.6 0a2.3 2.3 0 1 0 -4.6 0zM264.8 148.3a2.3 2.3 0 1 0 4.6 0a2.3 2.3 0 1 0 -4.6 0zM265 145.4a2.3 2.3 0 1 0 4.6 0a2.3 2.3 0 1 0 -4.6 0zM265.2 130.8a2.3 2.3 0 1 0 4.6 0a2.3 2.3 0 1 0 -4.6 0zM265.4 142.2a2.3 2.3 0 1 0 4.6 0a2.3 2.3 0 1 0 -4.6 0zM265.6 139.4a2.3 2.3 0 1 0 4.6 0a2.3 2.3 0 1 0 -4.6 0zM265.8 130.9a2.3 2.3 0 1 0 4.6 0a2.3 2.3 0 1 0 -4.6 0zM266 137.7a2.3 2.3 0 1 0 4.6 0a2.3 2.3 0 1 0 -4.6 0zM266.1 136.5a2.3 2.3 0 1 0 4.6 0a2.3 2.3 0 1 0 -4.6 0zM266.3 136.5a2.3 2.3 0 1 0 4.6 0a2.3 2.3 0 1 0 -4.6 0zM266.5 137.4a2.3 2.3 0 1 0 4.6 0a2.3 2.3 0 1 0 -4.6 0zM266.7 133.7a2.3 2.3 0 1 0 4.6 0a2.3 2.3 0 1 0 -4.6 0zM266.9 140.9a2.3 2.3 0 1 0 4.6 0a2.3 2.3 0 1 0 -4.6 0zM267.1 157.8a2.3 2.3 0 1 0 4.6 0a2.3 2.3 0 1 0 -4.6 0zM267.2 138.3a2.3 2.3 0 1 0 4.6 0a2.3 2.3 0 1 0 -4.6 0zM267.4 149a2.3 2.3 0 1 0 4.6 0a2.3 2.3 0 1 0 -4.6 0zM267.6 143.4a2.3 2.3 0 1 0 4.6 0a2.3 2.3 0 1 0 -4.6 0zM267.8 156.7a2.3 2.3 0 1 0 4.6 0a2.3 2.3 0 1 0 -4.6 0zM268 146.5a2.3 2.3 0 1 0 4.6 0a2.3 2.3 0 1 0 -4.6 0zM268.1 141.3a2.3 2.3 0 1 0 4.6 0a2.3 2.3 0 1 0 -4.6 0zM268.3 154.4a2.3 2.3 0 1 0 4.6 0a2.3 2.3 0 1 0 -4.6 0zM268.5 143.8a2.3 2.3 0 1 0 4.6 0a2.3 2.3 0 1 0 -4.6 0zM268.7 129.4a2.3 2.3 0 1 0 4.6 0a2.3 2.3 0 1 0 -4.6 0zM268.8 149.2a2.3 2.3 0 1 0 4.6 0a2.3 2.3 0 1 0 -4.6 0zM269 140.7a2.3 2.3 0 1 0 4.6 0a2.3 2.3 0 1 0 -4.6 0zM269.2 147.7a2.3 2.3 0 1 0 4.6 0a2.3 2.3 0 1 0 -4.6 0zM269.3 136.3a2.3 2.3 0 1 0 4.6 0a2.3 2.3 0 1 0 -4.6 0zM269.5 149.1a2.3 2.3 0 1 0 4.6 0a2.3 2.3 0 1 0 -4.6 0zM269.7 143.9a2.3 2.3 0 1 0 4.6 0a2.3 2.3 0 1 0 -4.6 0zM269.8 144.5a2.3 2.3 0 1 0 4.6 0a2.3 2.3 0 1 0 -4.6 0zM270 156.8a2.3 2.3 0 1 0 4.6 0a2.3 2.3 0 1 0 -4.6 0zM270.2 156.9a2.3 2.3 0 1 0 4.6 0a2.3 2.3 0 1 0 -4.6 0zM270.3 129.7a2.3 2.3 0 1 0 4.6 0a2.3 2.3 0 1 0 -4.6 0zM270.5 142.5a2.3 2.3 0 1 0 4.6 0a2.3 2.3 0 1 0 -4.6 0zM270.7 153.1a2.3 2.3 0 1 0 4.6 0a2.3 2.3 0 1 0 -4.6 0zM270.8 131.8a2.3 2.3 0 1 0 4.6 0a2.3 2.3 0 1 0 -4.6 0zM271 145.5a2.3 2.3 0 1 0 4.6 0a2.3 2.3 0 1 0 -4.6 0zM271.1 134.7a2.3 2.3 0 1 0 4.6 0a2.3 2.3 0 1 0 -4.6 0zM271.3 154.3a2.3 2.3 0 1 0 4.6 0a2.3 2.3 0 1 0 -4.6 0zM271.5 139.1a2.3 2.3 0 1 0 4.6 0a2.3 2.3 0 1 0 -4.6 0zM271.6 137.9a2.3 2.3 0 1 0 4.6 0a2.3 2.3 0 1 0 -4.6 0zM271.8 145.4a2.3 2.3 0 1 0 4.6 0a2.3 2.3 0 1 0 -4.6 0zM271.9 138.9a2.3 2.3 0 1 0 4.6 0a2.3 2.3 0 1 0 -4.6 0zM272.1 128.8a2.3 2.3 0 1 0 4.6 0a2.3 2.3 0 1 0 -4.6 0zM272.2 148.1a2.3 2.3 0 1 0 4.6 0a2.3 2.3 0 1 0 -4.6 0zM272.4 137a2.3 2.3 0 1 0 4.6 0a2.3 2.3 0 1 0 -4.6 0zM272.6 162.9a2.3 2.3 0 1 0 4.6 0a2.3 2.3 0 1 0 -4.6 0zM272.7 130.9a2.3 2.3 0 1 0 4.6 0a2.3 2.3 0 1 0 -4.6 0zM272.9 140.2a2.3 2.3 0 1 0 4.6 0a2.3 2.3 0 1 0 -4.6 0zM273 138.4a2.3 2.3 0 1 0 4.6 0a2.3 2.3 0 1 0 -4.6 0zM273.2 147.7a2.3 2.3 0 1 0 4.6 0a2.3 2.3 0 1 0 -4.6 0zM273.3 149.7a2.3 2.3 0 1 0 4.6 0a2.3 2.3 0 1 0 -4.6 0zM273.5 148.6a2.3 2.3 0 1 0 4.6 0a2.3 2.3 0 1 0 -4.6 0zM273.6 156.9a2.3 2.3 0 1 0 4.6 0a2.3 2.3 0 1 0 -4.6 0zM273.8 131.7a2.3 2.3 0 1 0 4.6 0a2.3 2.3 0 1 0 -4.6 0zM273.9 139.7a2.3 2.3 0 1 0 4.6 0a2.3 2.3 0 1 0 -4.6 0zM274.1 150.7a2.3 2.3 0 1 0 4.6 0a2.3 2.3 0 1 0 -4.6 0zM274.2 130.2a2.3 2.3 0 1 0 4.6 0a2.3 2.3 0 1 0 -4.6 0zM274.3 131.4a2.3 2.3 0 1 0 4.6 0a2.3 2.3 0 1 0 -4.6 0zM274.5 158.1a2.3 2.3 0 1 0 4.6 0a2.3 2.3 0 1 0 -4.6 0zM274.6 150a2.3 2.3 0 1 0 4.6 0a2.3 2.3 0 1 0 -4.6 0zM274.8 139.9a2.3 2.3 0 1 0 4.6 0a2.3 2.3 0 1 0 -4.6 0zM274.9 158.5a2.3 2.3 0 1 0 4.6 0a2.3 2.3 0 1 0 -4.6 0zM275.1 149.5a2.3 2.3 0 1 0 4.6 0a2.3 2.3 0 1 0 -4.6 0zM275.2 130.2a2.3 2.3 0 1 0 4.6 0a2.3 2.3 0 1 0 -4.6 0zM275.3 156.2a2.3 2.3 0 1 0 4.6 0a2.3 2.3 0 1 0 -4.6 0zM275.5 158.9a2.3 2.3 0 1 0 4.6 0a2.3 2.3 0 1 0 -4.6 0zM275.6 159.7a2.3 2.3 0 1 0 4.6 0a2.3 2.3 0 1 0 -4.6 0zM275.8 154.9a2.3 2.3 0 1 0 4.6 0a2.3 2.3 0 1 0 -4.6 0zM275.9 135.6a2.3 2.3 0 1 0 4.6 0a2.3 2.3 0 1 0 -4.6 0zM276 159.2a2.3 2.3 0 1 0 4.6 0a2.3 2.3 0 1 0 -4.6 0zM276.2 141.1a2.3 2.3 0 1 0 4.6 0a2.3 2.3 0 1 0 -4.6 0zM276.3 138a2.3 2.3 0 1 0 4.6 0a2.3 2.3 0 1 0 -4.6 0zM276.4 131.8a2.3 2.3 0 1 0 4.6 0a2.3 2.3 0 1 0 -4.6 0zM276.6 130.4a2.3 2.3 0 1 0 4.6 0a2.3 2.3 0 1 0 -4.6 0zM276.7 161.3a2.3 2.3 0 1 0 4.6 0a2.3 2.3 0 1 0 -4.6 0zM276.8 159.3a2.3 2.3 0 1 0 4.6 0a2.3 2.3 0 1 0 -4.6 0zM277 160.6a2.3 2.3 0 1 0 4.6 0a2.3 2.3 0 1 0 -4.6 0zM277.1 157.1a2.3 2.3 0 1 0 4.6 0a2.3 2.3 0 1 0 -4.6 0zM277.2 160.4a2.3 2.3 0 1 0 4.6 0a2.3 2.3 0 1 0 -4.6 0zM277.4 148.4a2.3 2.3 0 1 0 4.6 0a2.3 2.3 0 1 0 -4.6 0zM277.5 149.4a2.3 2.3 0 1 0 4.6 0a2.3 2.3 0 1 0 -4.6 0zM277.6 144.9a2.3 2.3 0 1 0 4.6 0a2.3 2.3 0 1 0 -4.6 0zM277.8 161.8a2.3 2.3 0 1 0 4.6 0a2.3 2.3 0 1 0 -4.6 0zM277.9 159.3a2.3 2.3 0 1 0 4.6 0a2.3 2.3 0 1 0 -4.6 0zM278 163.6a2.3 2.3 0 1 0 4.6 0a2.3 2.3 0 1 0 -4.6 0zM278.2 153.2a2.3 2.3 0 1 0 4.6 0a2.3 2.3 0 1 0 -4.6 0zM278.3 156.7a2.3 2.3 0 1 0 4.6 0a2.3 2.3 0 1 0 -4.6 0zM278.4 143.4a2.3 2.3 0 1 0 4.6 0a2.3 2.3 0 1 0 -4.6 0zM278.5 136.8a2.3 2.3 0 1 0 4.6 0a2.3 2.3 0 1 0 -4.6 0zM278.7 150.9a2.3 2.3 0 1 0 4.6 0a2.3 2.3 0 1 0 -4.6 0zM278.8 132.9a2.3 2.3 0 1 0 4.6 0a2.3 2.3 0 1 0 -4.6 0zM278.9 131.7a2.3 2.3 0 1 0 4.6 0a2.3 2.3 0 1 0 -4.6 0zM279 144.7a2.3 2.3 0 1 0 4.6 0a2.3 2.3 0 1 0 -4.6 0zM279.2 149.1a2.3 2.3 0 1 0 4.6 0a2.3 2.3 0 1 0 -4.6 0zM279.3 141.7a2.3 2.3 0 1 0 4.6 0a2.3 2.3 0 1 0 -4.6 0zM279.4 140.5a2.3 2.3 0 1 0 4.6 0a2.3 2.3 0 1 0 -4.6 0zM279.5 149.2a2.3 2.3 0 1 0 4.6 0a2.3 2.3 0 1 0 -4.6 0zM279.7 143.9a2.3 2.3 0 1 0 4.6 0a2.3 2.3 0 1 0 -4.6 0zM279.8 158.3a2.3 2.3 0 1 0 4.6 0a2.3 2.3 0 1 0 -4.6 0zM279.9 142.8a2.3 2.3 0 1 0 4.6 0a2.3 2.3 0 1 0 -4.6 0zM280 138a2.3 2.3 0 1 0 4.6 0a2.3 2.3 0 1 0 -4.6 0zM280.2 143.8a2.3 2.3 0 1 0 4.6 0a2.3 2.3 0 1 0 -4.6 0zM280.3 142.7a2.3 2.3 0 1 0 4.6 0a2.3 2.3 0 1 0 -4.6 0zM280.4 162.5a2.3 2.3 0 1 0 4.6 0a2.3 2.3 0 1 0 -4.6 0zM280.5 142.2a2.3 2.3 0 1 0 4.6 0a2.3 2.3 0 1 0 -4.6 0zM280.6 145.5a2.3 2.3 0 1 0 4.6 0a2.3 2.3 0 1 0 -4.6 0zM280.8 150.9a2.3 2.3 0 1 0 4.6 0a2.3 2.3 0 1 0 -4.6 0zM280.9 142.8a2.3 2.3 0 1 0 4.6 0a2.3 2.3 0 1 0 -4.6 0zM281 156a2.3 2.3 0 1 0 4.6 0a2.3 2.3 0 1 0 -4.6 0zM281.1 161.7a2.3 2.3 0 1 0 4.6 0a2.3 2.3 0 1 0 -4.6 0zM281.2 144.2a2.3 2.3 0 1 0 4.6 0a2.3 2.3 0 1 0 -4.6 0zM281.3 140.5a2.3 2.3 0 1 0 4.6 0a2.3 2.3 0 1 0 -4.6 0zM281.5 150.4a2.3 2.3 0 1 0 4.6 0a2.3 2.3 0 1 0 -4.6 0zM281.6 147.9a2.3 2.3 0 1 0 4.6 0a2.3 2.3 0 1 0 -4.6 0zM281.7 158.4a2.3 2.3 0 1 0 4.6 0a2.3 2.3 0 1 0 -4.6 0zM281.8 139.6a2.3 2.3 0 1 0 4.6 0a2.3 2.3 0 1 0 -4.6 0zM281.9 135.2a2.3 2.3 0 1 0 4.6 0a2.3 2.3 0 1 0 -4.6 0zM282 151.1a2.3 2.3 0 1 0 4.6 0a2.3 2.3 0 1 0 -4.6 0zM282.1 138.9a2.3 2.3 0 1 0 4.6 0a2.3 2.3 0 1 0 -4.6 0zM282.3 161.7a2.3 2.3 0 1 0 4.6 0a2.3 2.3 0 1 0 -4.6 0zM282.4 163.2a2.3 2.3 0 1 0 4.6 0a2.3 2.3 0 1 0 -4.6 0zM282.5 144a2.3 2.3 0 1 0 4.6 0a2.3 2.3 0 1 0 -4.6 0zM282.6 131.8a2.3 2.3 0 1 0 4.6 0a2.3 2.3 0 1 0 -4.6 0zM282.7 158a2.3 2.3 0 1 0 4.6 0a2.3 2.3 0 1 0 -4.6 0zM282.8 132.4a2.3 2.3 0 1 0 4.6 0a2.3 2.3 0 1 0 -4.6 0zM282.9 147.6a2.3 2.3 0 1 0 4.6 0a2.3 2.3 0 1 0 -4.6 0zM283 148.6a2.3 2.3 0 1 0 4.6 0a2.3 2.3 0 1 0 -4.6 0zM283.1 130a2.3 2.3 0 1 0 4.6 0a2.3 2.3 0 1 0 -4.6 0zM283.3 164a2.3 2.3 0 1 0 4.6 0a2.3 2.3 0 1 0 -4.6 0zM283.4 163.5a2.3 2.3 0 1 0 4.6 0a2.3 2.3 0 1 0 -4.6 0zM283.5 149.1a2.3 2.3 0 1 0 4.6 0a2.3 2.3 0 1 0 -4.6 0zM283.6 164.5a2.3 2.3 0 1 0 4.6 0a2.3 2.3 0 1 0 -4.6 0zM283.7 130.4a2.3 2.3 0 1 0 4.6 0a2.3 2.3 0 1 0 -4.6 0zM283.8 162.3a2.3 2.3 0 1 0 4.6 0a2.3 2.3 0 1 0 -4.6 0zM283.9 157.1a2.3 2.3 0 1 0 4.6 0a2.3 2.3 0 1 0 -4.6 0zM284 135.4a2.3 2.3 0 1 0 4.6 0a2.3 2.3 0 1 0 -4.6 0zM284.1 132.8a2.3 2.3 0 1 0 4.6 0a2.3 2.3 0 1 0 -4.6 0zM284.2 145.2a2.3 2.3 0 1 0 4.6 0a2.3 2.3 0 1 0 -4.6 0zM284.3 156.7a2.3 2.3 0 1 0 4.6 0a2.3 2.3 0 1 0 -4.6 0zM284.4 138.8a2.3 2.3 0 1 0 4.6 0a2.3 2.3 0 1 0 -4.6 0zM284.5 155.6a2.3 2.3 0 1 0 4.6 0a2.3 2.3 0 1 0 -4.6 0zM284.7 164.7a2.3 2.3 0 1 0 4.6 0a2.3 2.3 0 1 0 -4.6 0zM284.8 156.5a2.3 2.3 0 1 0 4.6 0a2.3 2.3 0 1 0 -4.6 0zM284.9 133.5a2.3 2.3 0 1 0 4.6 0a2.3 2.3 0 1 0 -4.6 0zM285 139a2.3 2.3 0 1 0 4.6 0a2.3 2.3 0 1 0 -4.6 0zM285.1 151.4a2.3 2.3 0 1 0 4.6 0a2.3 2.3 0 1 0 -4.6 0zM285.2 144.9a2.3 2.3 0 1 0 4.6 0a2.3 2.3 0 1 0 -4.6 0zM285.3 160.5a2.3 2.3 0 1 0 4.6 0a2.3 2.3 0 1 0 -4.6 0zM285.4 136.7a2.3 2.3 0 1 0 4.6 0a2.3 2.3 0 1 0 -4.6 0zM285.5 153.8a2.3 2.3 0 1 0 4.6 0a2.3 2.3 0 1 0 -4.6 0zM285.6 159.5a2.3 2.3 0 1 0 4.6 0a2.3 2.3 0 1 0 -4.6 0zM285.7 151.3a2.3 2.3 0 1 0 4.6 0a2.3 2.3 0 1 0 -4.6 0zM285.8 146.8a2.3 2.3 0 1 0 4.6 0a2.3 2.3 0 1 0 -4.6 0zM285.9 131.3a2.3 2.3 0 1 0 4.6 0a2.3 2.3 0 1 0 -4.6 0zM286 132.1a2.3 2.3 0 1 0 4.6 0a2.3 2.3 0 1 0 -4.6 0zM286.1 161.7a2.3 2.3 0 1 0 4.6 0a2.3 2.3 0 1 0 -4.6 0zM286.2 145.2a2.3 2.3 0 1 0 4.6 0a2.3 2.3 0 1 0 -4.6 0zM286.3 149.9a2.3 2.3 0 1 0 4.6 0a2.3 2.3 0 1 0 -4.6 0zM286.4 166a2.3 2.3 0 1 0 4.6 0a2.3 2.3 0 1 0 -4.6 0zM286.5 129.4a2.3 2.3 0 1 0 4.6 0a2.3 2.3 0 1 0 -4.6 0zM286.6 153.2a2.3 2.3 0 1 0 4.6 0a2.3 2.3 0 1 0 -4.6 0zM286.7 147.9a2.3 2.3 0 1 0 4.6 0a2.3 2.3 0 1 0 -4.6 0zM286.8 162.7a2.3 2.3 0 1 0 4.6 0a2.3 2.3 0 1 0 -4.6 0zM286.9 160.7a2.3 2.3 0 1 0 4.6 0a2.3 2.3 0 1 0 -4.6 0zM287 134.1a2.3 2.3 0 1 0 4.6 0a2.3 2.3 0 1 0 -4.6 0zM287.1 148.2a2.3 2.3 0 1 0 4.6 0a2.3 2.3 0 1 0 -4.6 0zM287.2 151.3a2.3 2.3 0 1 0 4.6 0a2.3 2.3 0 1 0 -4.6 0zM287.3 165.3a2.3 2.3 0 1 0 4.6 0a2.3 2.3 0 1 0 -4.6 0zM287.4 145.5a2.3 2.3 0 1 0 4.6 0a2.3 2.3 0 1 0 -4.6 0zM287.5 129.1a2.3 2.3 0 1 0 4.6 0a2.3 2.3 0 1 0 -4.6 0zM287.6 163.7a2.3 2.3 0 1 0 4.6 0a2.3 2.3 0 1 0 -4.6 0zM287.7 156.9a2.3 2.3 0 1 0 4.6 0a2.3 2.3 0 1 0 -4.6 0zM287.7 139.2a2.3 2.3 0 1 0 4.6 0a2.3 2.3 0 1 0 -4.6 0zM287.8 149.8a2.3 2.3 0 1 0 4.6 0a2.3 2.3 0 1 0 -4.6 0zM287.9 138.1a2.3 2.3 0 1 0 4.6 0a2.3 2.3 0 1 0 -4.6 0zM288 157.3a2.3 2.3 0 1 0 4.6 0a2.3 2.3 0 1 0 -4.6 0zM288.1 160.2a2.3 2.3 0 1 0 4.6 0a2.3 2.3 0 1 0 -4.6 0zM288.2 131.2a2.3 2.3 0 1 0 4.6 0a2.3 2.3 0 1 0 -4.6 0zM288.3 130.9a2.3 2.3 0 1 0 4.6 0a2.3 2.3 0 1 0 -4.6 0zM288.4 148.9a2.3 2.3 0 1 0 4.6 0a2.3 2.3 0 1 0 -4.6 0zM288.5 164.7a2.3 2.3 0 1 0 4.6 0a2.3 2.3 0 1 0 -4.6 0zM288.6 159.2a2.3 2.3 0 1 0 4.6 0a2.3 2.3 0 1 0 -4.6 0zM288.7 147.4a2.3 2.3 0 1 0 4.6 0a2.3 2.3 0 1 0 -4.6 0zM288.8 138.5a2.3 2.3 0 1 0 4.6 0a2.3 2.3 0 1 0 -4.6 0zM288.9 157.1a2.3 2.3 0 1 0 4.6 0a2.3 2.3 0 1 0 -4.6 0zM289 165.3a2.3 2.3 0 1 0 4.6 0a2.3 2.3 0 1 0 -4.6 0zM289.1 146.1a2.3 2.3 0 1 0 4.6 0a2.3 2.3 0 1 0 -4.6 0zM289.1 151a2.3 2.3 0 1 0 4.6 0a2.3 2.3 0 1 0 -4.6 0zM289.2 162.4a2.3 2.3 0 1 0 4.6 0a2.3 2.3 0 1 0 -4.6 0zM289.3 157.8a2.3 2.3 0 1 0 4.6 0a2.3 2.3 0 1 0 -4.6 0zM289.4 133.2a2.3 2.3 0 1 0 4.6 0a2.3 2.3 0 1 0 -4.6 0zM289.5 177.5a2.3 2.3 0 1 0 4.6 0a2.3 2.3 0 1 0 -4.6 0zM289.6 132.1a2.3 2.3 0 1 0 4.6 0a2.3 2.3 0 1 0 -4.6 0zM289.7 140.7a2.3 2.3 0 1 0 4.6 0a2.3 2.3 0 1 0 -4.6 0zM289.8 135.6a2.3 2.3 0 1 0 4.6 0a2.3 2.3 0 1 0 -4.6 0zM289.9 133.5a2.3 2.3 0 1 0 4.6 0a2.3 2.3 0 1 0 -4.6 0zM290 142.9a2.3 2.3 0 1 0 4.6 0a2.3 2.3 0 1 0 -4.6 0zM290 135a2.3 2.3 0 1 0 4.6 0a2.3 2.3 0 1 0 -4.6 0zM290.1 137.6a2.3 2.3 0 1 0 4.6 0a2.3 2.3 0 1 0 -4.6 0zM290.2 131.8a2.3 2.3 0 1 0 4.6 0a2.3 2.3 0 1 0 -4.6 0zM290.3 157.3a2.3 2.3 0 1 0 4.6 0a2.3 2.3 0 1 0 -4.6 0zM290.4 166.7a2.3 2.3 0 1 0 4.6 0a2.3 2.3 0 1 0 -4.6 0zM290.5 132.9a2.3 2.3 0 1 0 4.6 0a2.3 2.3 0 1 0 -4.6 0zM290.6 161.6a2.3 2.3 0 1 0 4.6 0a2.3 2.3 0 1 0 -4.6 0zM290.7 136.9a2.3 2.3 0 1 0 4.6 0a2.3 2.3 0 1 0 -4.6 0zM290.7 139.5a2.3 2.3 0 1 0 4.6 0a2.3 2.3 0 1 0 -4.6 0zM290.8 154.3a2.3 2.3 0 1 0 4.6 0a2.3 2.3 0 1 0 -4.6 0zM290.9 140.9a2.3 2.3 0 1 0 4.6 0a2.3 2.3 0 1 0 -4.6 0zM291 139.9a2.3 2.3 0 1 0 4.6 0a2.3 2.3 0 1 0 -4.6 0zM291.1 165.4a2.3 2.3 0 1 0 4.6 0a2.3 2.3 0 1 0 -4.6 0zM291.2 153.8a2.3 2.3 0 1 0 4.6 0a2.3 2.3 0 1 0 -4.6 0zM291.3 149.7a2.3 2.3 0 1 0 4.6 0a2.3 2.3 0 1 0 -4.6 0zM291.4 135.5a2.3 2.3 0 1 0 4.6 0a2.3 2.3 0 1 0 -4.6 0zM291.4 135.5a2.3 2.3 0 1 0 4.6 0a2.3 2.3 0 1 0 -4.6 0zM291.5 161.8a2.3 2.3 0 1 0 4.6 0a2.3 2.3 0 1 0 -4.6 0zM291.6 162.3a2.3 2.3 0 1 0 4.6 0a2.3 2.3 0 1 0 -4.6 0zM291.7 152.5a2.3 2.3 0 1 0 4.6 0a2.3 2.3 0 1 0 -4.6 0zM291.8 143a2.3 2.3 0 1 0 4.6 0a2.3 2.3 0 1 0 -4.6 0zM291.9 166a2.3 2.3 0 1 0 4.6 0a2.3 2.3 0 1 0 -4.6 0zM291.9 166.1a2.3 2.3 0 1 0 4.6 0a2.3 2.3 0 1 0 -4.6 0zM292 134.9a2.3 2.3 0 1 0 4.6 0a2.3 2.3 0 1 0 -4.6 0zM292.1 149.9a2.3 2.3 0 1 0 4.6 0a2.3 2.3 0 1 0 -4.6 0zM292.2 156.2a2.3 2.3 0 1 0 4.6 0a2.3 2.3 0 1 0 -4.6 0zM292.3 166.6a2.3 2.3 0 1 0 4.6 0a2.3 2.3 0 1 0 -4.6 0zM292.4 142.6a2.3 2.3 0 1 0 4.6 0a2.3 2.3 0 1 0 -4.6 0zM292.4 144.1a2.3 2.3 0 1 0 4.6 0a2.3 2.3 0 1 0 -4.6 0zM292.5 151.7a2.3 2.3 0 1 0 4.6 0a2.3 2.3 0 1 0 -4.6 0zM292.6 166.8a2.3 2.3 0 1 0 4.6 0a2.3 2.3 0 1 0 -4.6 0zM292.7 141.4a2.3 2.3 0 1 0 4.6 0a2.3 2.3 0 1 0 -4.6 0zM292.8 129.2a2.3 2.3 0 1 0 4.6 0a2.3 2.3 0 1 0 -4.6 0zM292.8 144.1a2.3 2.3 0 1 0 4.6 0a2.3 2.3 0 1 0 -4.6 0zM292.9 162.9a2.3 2.3 0 1 0 4.6 0a2.3 2.3 0 1 0 -4.6 0zM293 152.8a2.3 2.3 0 1 0 4.6 0a2.3 2.3 0 1 0 -4.6 0zM293.1 145.8a2.3 2.3 0 1 0 4.6 0a2.3 2.3 0 1 0 -4.6 0zM293.2 142.5a2.3 2.3 0 1 0 4.6 0a2.3 2.3 0 1 0 -4.6 0zM293.3 168.3a2.3 2.3 0 1 0 4.6 0a2.3 2.3 0 1 0 -4.6 0zM293.3 149a2.3 2.3 0 1 0 4.6 0a2.3 2.3 0 1 0 -4.6 0zM293.4 159.9a2.3 2.3 0 1 0 4.6 0a2.3 2.3 0 1 0 -4.6 0zM293.5 149.4a2.3 2.3 0 1 0 4.6 0a2.3 2.3 0 1 0 -4.6 0zM293.6 171.1a2.3 2.3 0 1 0 4.6 0a2.3 2.3 0 1 0 -4.6 0zM293.7 167.7a2.3 2.3 0 1 0 4.6 0a2.3 2.3 0 1 0 -4.6 0zM293.7 131.8a2.3 2.3 0 1 0 4.6 0a2.3 2.3 0 1 0 -4.6 0zM293.8 169.2a2.3 2.3 0 1 0 4.6 0a2.3 2.3 0 1 0 -4.6 0zM293.9 156.8a2.3 2.3 0 1 0 4.6 0a2.3 2.3 0 1 0 -4.6 0zM294 162a2.3 2.3 0 1 0 4.6 0a2.3 2.3 0 1 0 -4.6 0zM294 139.3a2.3 2.3 0 1 0 4.6 0a2.3 2.3 0 1 0 -4.6 0zM294.1 134.4a2.3 2.3 0 1 0 4.6 0a2.3 2.3 0 1 0 -4.6 0zM294.2 146.9a2.3 2.3 0 1 0 4.6 0a2.3 2.3 0 1 0 -4.6 0zM294.3 139.6a2.3 2.3 0 1 0 4.6 0a2.3 2.3 0 1 0 -4.6 0zM294.4 155.2a2.3 2.3 0 1 0 4.6 0a2.3 2.3 0 1 0 -4.6 0zM294.4 132.6a2.3 2.3 0 1 0 4.6 0a2.3 2.3 0 1 0 -4.6 0zM294.5 135.1a2.3 2.3 0 1 0 4.6 0a2.3 2.3 0 1 0 -4.6 0zM294.6 143.7a2.3 2.3 0 1 0 4.6 0a2.3 2.3 0 1 0 -4.6 0zM294.7 130a2.3 2.3 0 1 0 4.6 0a2.3 2.3 0 1 0 -4.6 0zM294.7 171.9a2.3 2.3 0 1 0 4.6 0a2.3 2.3 0 1 0 -4.6 0zM294.8 166.2a2.3 2.3 0 1 0 4.6 0a2.3 2.3 0 1 0 -4.6 0zM294.9 169.9a2.3 2.3 0 1 0 4.6 0a2.3 2.3 0 1 0 -4.6 0zM295 163.1a2.3 2.3 0 1 0 4.6 0a2.3 2.3 0 1 0 -4.6 0zM295 143.5a2.3 2.3 0 1 0 4.6 0a2.3 2.3 0 1 0 -4.6 0zM295.1 154.6a2.3 2.3 0 1 0 4.6 0a2.3 2.3 0 1 0 -4.6 0zM295.2 151.6a2.3 2.3 0 1 0 4.6 0a2.3 2.3 0 1 0 -4.6 0zM295.3 146.9a2.3 2.3 0 1 0 4.6 0a2.3 2.3 0 1 0 -4.6 0zM295.3 157.7a2.3 2.3 0 1 0 4.6 0a2.3 2.3 0 1 0 -4.6 0zM295.4 164.6a2.3 2.3 0 1 0 4.6 0a2.3 2.3 0 1 0 -4.6 0zM295.5 153.1a2.3 2.3 0 1 0 4.6 0a2.3 2.3 0 1 0 -4.6 0zM295.6 139.3a2.3 2.3 0 1 0 4.6 0a2.3 2.3 0 1 0 -4.6 0zM295.6 168.8a2.3 2.3 0 1 0 4.6 0a2.3 2.3 0 1 0 -4.6 0zM295.7 147.9a2.3 2.3 0 1 0 4.6 0a2.3 2.3 0 1 0 -4.6 0zM295.8 132.7a2.3 2.3 0 1 0 4.6 0a2.3 2.3 0 1 0 -4.6 0zM295.9 135.9a2.3 2.3 0 1 0 4.6 0a2.3 2.3 0 1 0 -4.6 0zM295.9 159.1a2.3 2.3 0 1 0 4.6 0a2.3 2.3 0 1 0 -4.6 0zM296 142.9a2.3 2.3 0 1 0 4.6 0a2.3 2.3 0 1 0 -4.6 0zM296.1 140.5a2.3 2.3 0 1 0 4.6 0a2.3 2.3 0 1 0 -4.6 0zM296.2 140.1a2.3 2.3 0 1 0 4.6 0a2.3 2.3 0 1 0 -4.6 0zM296.2 140.2a2.3 2.3 0 1 0 4.6 0a2.3 2.3 0 1 0 -4.6 0zM296.3 156.3a2.3 2.3 0 1 0 4.6 0a2.3 2.3 0 1 0 -4.6 0zM296.4 133.5a2.3 2.3 0 1 0 4.6 0a2.3 2.3 0 1 0 -4.6 0zM296.5 152.4a2.3 2.3 0 1 0 4.6 0a2.3 2.3 0 1 0 -4.6 0zM296.5 140.7a2.3 2.3 0 1 0 4.6 0a2.3 2.3 0 1 0 -4.6 0zM296.6 153.4a2.3 2.3 0 1 0 4.6 0a2.3 2.3 0 1 0 -4.6 0zM296.7 163.4a2.3 2.3 0 1 0 4.6 0a2.3 2.3 0 1 0 -4.6 0zM296.7 158a2.3 2.3 0 1 0 4.6 0a2.3 2.3 0 1 0 -4.6 0zM296.8 158.6a2.3 2.3 0 1 0 4.6 0a2.3 2.3 0 1 0 -4.6 0zM296.9 138.7a2.3 2.3 0 1 0 4.6 0a2.3 2.3 0 1 0 -4.6 0zM297 140.2a2.3 2.3 0 1 0 4.6 0a2.3 2.3 0 1 0 -4.6 0zM297 169.6a2.3 2.3 0 1 0 4.6 0a2.3 2.3 0 1 0 -4.6 0zM297.1 152.3a2.3 2.3 0 1 0 4.6 0a2.3 2.3 0 1 0 -4.6 0zM297.2 148.6a2.3 2.3 0 1 0 4.6 0a2.3 2.3 0 1 0 -4.6 0zM297.2 153.9a2.3 2.3 0 1 0 4.6 0a2.3 2.3 0 1 0 -4.6 0zM297.3 133.2a2.3 2.3 0 1 0 4.6 0a2.3 2.3 0 1 0 -4.6 0zM297.4 141.5a2.3 2.3 0 1 0 4.6 0a2.3 2.3 0 1 0 -4.6 0zM297.5 152.3a2.3 2.3 0 1 0 4.6 0a2.3 2.3 0 1 0 -4.6 0zM297.5 133.1a2.3 2.3 0 1 0 4.6 0a2.3 2.3 0 1 0 -4.6 0zM297.6 137.5a2.3 2.3 0 1 0 4.6 0a2.3 2.3 0 1 0 -4.6 0zM297.7 150.7a2.3 2.3 0 1 0 4.6 0a2.3 2.3 0 1 0 -4.6 0zM297.7 130.9a2.3 2.3 0 1 0 4.6 0a2.3 2.3 0 1 0 -4.6 0zM297.8 173.9a2.3 2.3 0 1 0 4.6 0a2.3 2.3 0 1 0 -4.6 0zM297.9 154.1a2.3 2.3 0 1 0 4.6 0a2.3 2.3 0 1 0 -4.6 0zM297.9 167.6a2.3 2.3 0 1 0 4.6 0a2.3 2.3 0 1 0 -4.6 0zM298 159.9a2.3 2.3 0 1 0 4.6 0a2.3 2.3 0 1 0 -4.6 0zM298.1 165.5a2.3 2.3 0 1 0 4.6 0a2.3 2.3 0 1 0 -4.6 0zM298.2 135.1a2.3 2.3 0 1 0 4.6 0a2.3 2.3 0 1 0 -4.6 0zM298.2 146.4a2.3 2.3 0 1 0 4.6 0a2.3 2.3 0 1 0 -4.6 0zM298.3 131a2.3 2.3 0 1 0 4.6 0a2.3 2.3 0 1 0 -4.6 0zM298.4 134.2a2.3 2.3 0 1 0 4.6 0a2.3 2.3 0 1 0 -4.6 0zM298.4 154a2.3 2.3 0 1 0 4.6 0a2.3 2.3 0 1 0 -4.6 0zM298.5 157.4a2.3 2.3 0 1 0 4.6 0a2.3 2.3 0 1 0 -4.6 0zM298.6 135.6a2.3 2.3 0 1 0 4.6 0a2.3 2.3 0 1 0 -4.6 0zM298.6 151.8a2.3 2.3 0 1 0 4.6 0a2.3 2.3 0 1 0 -4.6 0zM298.7 140.9a2.3 2.3 0 1 0 4.6 0a2.3 2.3 0 1 0 -4.6 0zM298.8 131.3a2.3 2.3 0 1 0 4.6 0a2.3 2.3 0 1 0 -4.6 0zM298.8 180.2a2.3 2.3 0 1 0 4.6 0a2.3 2.3 0 1 0 -4.6 0zM298.9 148.9a2.3 2.3 0 1 0 4.6 0a2.3 2.3 0 1 0 -4.6 0zM299 150a2.3 2.3 0 1 0 4.6 0a2.3 2.3 0 1 0 -4.6 0zM299 147.7a2.3 2.3 0 1 0 4.6 0a2.3 2.3 0 1 0 -4.6 0zM299.1 148.8a2.3 2.3 0 1 0 4.6 0a2.3 2.3 0 1 0 -4.6 0zM299.2 163.1a2.3 2.3 0 1 0 4.6 0a2.3 2.3 0 1 0 -4.6 0zM299.2 133.9a2.3 2.3 0 1 0 4.6 0a2.3 2.3 0 1 0 -4.6 0zM299.3 134.2a2.3 2.3 0 1 0 4.6 0a2.3 2.3 0 1 0 -4.6 0zM299.4 146.4a2.3 2.3 0 1 0 4.6 0a2.3 2.3 0 1 0 -4.6 0zM299.4 166.9a2.3 2.3 0 1 0 4.6 0a2.3 2.3 0 1 0 -4.6 0zM299.5 143.4a2.3 2.3 0 1 0 4.6 0a2.3 2.3 0 1 0 -4.6 0zM299.6 140.1a2.3 2.3 0 1 0 4.6 0a2.3 2.3 0 1 0 -4.6 0zM299.6 152.9a2.3 2.3 0 1 0 4.6 0a2.3 2.3 0 1 0 -4.6 0zM299.7 168.7a2.3 2.3 0 1 0 4.6 0a2.3 2.3 0 1 0 -4.6 0zM299.8 152a2.3 2.3 0 1 0 4.6 0a2.3 2.3 0 1 0 -4.6 0zM299.8 142.5a2.3 2.3 0 1 0 4.6 0a2.3 2.3 0 1 0 -4.6 0zM299.9 140a2.3 2.3 0 1 0 4.6 0a2.3 2.3 0 1 0 -4.6 0zM300 155.2a2.3 2.3 0 1 0 4.6 0a2.3 2.3 0 1 0 -4.6 0zM300 180.1a2.3 2.3 0 1 0 4.6 0a2.3 2.3 0 1 0 -4.6 0zM300.1 132.4a2.3 2.3 0 1 0 4.6 0a2.3 2.3 0 1 0 -4.6 0zM300.2 166.9a2.3 2.3 0 1 0 4.6 0a2.3 2.3 0 1 0 -4.6 0zM300.2 131.9a2.3 2.3 0 1 0 4.6 0a2.3 2.3 0 1 0 -4.6 0zM300.3 134.6a2.3 2.3 0 1 0 4.6 0a2.3 2.3 0 1 0 -4.6 0zM300.3 161a2.3 2.3 0 1 0 4.6 0a2.3 2.3 0 1 0 -4.6 0zM300.4 147.8a2.3 2.3 0 1 0 4.6 0a2.3 2.3 0 1 0 -4.6 0zM300.5 161.8a2.3 2.3 0 1 0 4.6 0a2.3 2.3 0 1 0 -4.6 0zM300.5 164.2a2.3 2.3 0 1 0 4.6 0a2.3 2.3 0 1 0 -4.6 0zM300.6 155.2a2.3 2.3 0 1 0 4.6 0a2.3 2.3 0 1 0 -4.6 0zM300.7 129.4a2.3 2.3 0 1 0 4.6 0a2.3 2.3 0 1 0 -4.6 0zM300.7 162.2a2.3 2.3 0 1 0 4.6 0a2.3 2.3 0 1 0 -4.6 0zM300.8 160.6a2.3 2.3 0 1 0 4.6 0a2.3 2.3 0 1 0 -4.6 0zM300.9 137a2.3 2.3 0 1 0 4.6 0a2.3 2.3 0 1 0 -4.6 0zM300.9 153.1a2.3 2.3 0 1 0 4.6 0a2.3 2.3 0 1 0 -4.6 0zM301 156.4a2.3 2.3 0 1 0 4.6 0a2.3 2.3 0 1 0 -4.6 0zM301 166.2a2.3 2.3 0 1 0 4.6 0a2.3 2.3 0 1 0 -4.6 0zM301.1 132.8a2.3 2.3 0 1 0 4.6 0a2.3 2.3 0 1 0 -4.6 0zM301.2 177.2a2.3 2.3 0 1 0 4.6 0a2.3 2.3 0 1 0 -4.6 0zM301.2 136.6a2.3 2.3 0 1 0 4.6 0a2.3 2.3 0 1 0 -4.6 0zM301.3 152.1a2.3 2.3 0 1 0 4.6 0a2.3 2.3 0 1 0 -4.6 0zM301.4 172.7a2.3 2.3 0 1 0 4.6 0a2.3 2.3 0 1 0 -4.6 0zM301.4 152.4a2.3 2.3 0 1 0 4.6 0a2.3 2.3 0 1 0 -4.6 0zM301.5 158.9a2.3 2.3 0 1 0 4.6 0a2.3 2.3 0 1 0 -4.6 0zM301.5 157.5a2.3 2.3 0 1 0 4.6 0a2.3 2.3 0 1 0 -4.6 0zM301.6 147.5a2.3 2.3 0 1 0 4.6 0a2.3 2.3 0 1 0 -4.6 0zM301.7 145.2a2.3 2.3 0 1 0 4.6 0a2.3 2.3 0 1 0 -4.6 0zM301.7 173a2.3 2.3 0 1 0 4.6 0a2.3 2.3 0 1 0 -4.6 0zM301.8 129.8a2.3 2.3 0 1 0 4.6 0a2.3 2.3 0 1 0 -4.6 0zM301.9 146.8a2.3 2.3 0 1 0 4.6 0a2.3 2.3 0 1 0 -4.6 0zM301.9 167.1a2.3 2.3 0 1 0 4.6 0a2.3 2.3 0 1 0 -4.6 0zM302 142a2.3 2.3 0 1 0 4.6 0a2.3 2.3 0 1 0 -4.6 0zM302 130.7a2.3 2.3 0 1 0 4.6 0a2.3 2.3 0 1 0 -4.6 0zM302.1 142.4a2.3 2.3 0 1 0 4.6 0a2.3 2.3 0 1 0 -4.6 0zM302.2 175.4a2.3 2.3 0 1 0 4.6 0a2.3 2.3 0 1 0 -4.6 0zM302.2 147.1a2.3 2.3 0 1 0 4.6 0a2.3 2.3 0 1 0 -4.6 0zM302.3 131.4a2.3 2.3 0 1 0 4.6 0a2.3 2.3 0 1 0 -4.6 0zM302.3 150.5a2.3 2.3 0 1 0 4.6 0a2.3 2.3 0 1 0 -4.6 0zM302.4 159.4a2.3 2.3 0 1 0 4.6 0a2.3 2.3 0 1 0 -4.6 0zM302.5 150.1a2.3 2.3 0 1 0 4.6 0a2.3 2.3 0 1 0 -4.6 0zM302.5 165.8a2.3 2.3 0 1 0 4.6 0a2.3 2.3 0 1 0 -4.6 0zM302.6 142.9a2.3 2.3 0 1 0 4.6 0a2.3 2.3 0 1 0 -4.6 0zM302.6 153.4a2.3 2.3 0 1 0 4.6 0a2.3 2.3 0 1 0 -4.6 0zM302.7 138.6a2.3 2.3 0 1 0 4.6 0a2.3 2.3 0 1 0 -4.6 0zM302.8 160.9a2.3 2.3 0 1 0 4.6 0a2.3 2.3 0 1 0 -4.6 0zM302.8 129.3a2.3 2.3 0 1 0 4.6 0a2.3 2.3 0 1 0 -4.6 0zM302.9 159.8a2.3 2.3 0 1 0 4.6 0a2.3 2.3 0 1 0 -4.6 0zM302.9 162a2.3 2.3 0 1 0 4.6 0a2.3 2.3 0 1 0 -4.6 0zM303 152.2a2.3 2.3 0 1 0 4.6 0a2.3 2.3 0 1 0 -4.6 0zM303.1 169.5a2.3 2.3 0 1 0 4.6 0a2.3 2.3 0 1 0 -4.6 0zM303.1 135.2a2.3 2.3 0 1 0 4.6 0a2.3 2.3 0 1 0 -4.6 0zM303.2 133.5a2.3 2.3 0 1 0 4.6 0a2.3 2.3 0 1 0 -4.6 0zM303.2 146a2.3 2.3 0 1 0 4.6 0a2.3 2.3 0 1 0 -4.6 0zM303.3 148.6a2.3 2.3 0 1 0 4.6 0a2.3 2.3 0 1 0 -4.6 0zM303.4 178.3a2.3 2.3 0 1 0 4.6 0a2.3 2.3 0 1 0 -4.6 0zM303.4 130.9a2.3 2.3 0 1 0 4.6 0a2.3 2.3 0 1 0 -4.6 0zM303.5 143.8a2.3 2.3 0 1 0 4.6 0a2.3 2.3 0 1 0 -4.6 0zM303.5 153.7a2.3 2.3 0 1 0 4.6 0a2.3 2.3 0 1 0 -4.6 0zM303.6 168.1a2.3 2.3 0 1 0 4.6 0a2.3 2.3 0 1 0 -4.6 0zM303.6 148.8a2.3 2.3 0 1 0 4.6 0a2.3 2.3 0 1 0 -4.6 0zM303.7 133.2a2.3 2.3 0 1 0 4.6 0a2.3 2.3 0 1 0 -4.6 0zM303.8 131.9a2.3 2.3 0 1 0 4.6 0a2.3 2.3 0 1 0 -4.6 0zM303.8 162.3a2.3 2.3 0 1 0 4.6 0a2.3 2.3 0 1 0 -4.6 0zM303.9 142.7a2.3 2.3 0 1 0 4.6 0a2.3 2.3 0 1 0 -4.6 0zM303.9 157.5a2.3 2.3 0 1 0 4.6 0a2.3 2.3 0 1 0 -4.6 0zM304 152.5a2.3 2.3 0 1 0 4.6 0a2.3 2.3 0 1 0 -4.6 0zM304 166.7a2.3 2.3 0 1 0 4.6 0a2.3 2.3 0 1 0 -4.6 0zM304.1 140a2.3 2.3 0 1 0 4.6 0a2.3 2.3 0 1 0 -4.6 0zM304.2 148.4a2.3 2.3 0 1 0 4.6 0a2.3 2.3 0 1 0 -4.6 0zM304.2 141.1a2.3 2.3 0 1 0 4.6 0a2.3 2.3 0 1 0 -4.6 0zM304.3 157.4a2.3 2.3 0 1 0 4.6 0a2.3 2.3 0 1 0 -4.6 0zM304.3 155a2.3 2.3 0 1 0 4.6 0a2.3 2.3 0 1 0 -4.6 0zM304.4 155.3a2.3 2.3 0 1 0 4.6 0a2.3 2.3 0 1 0 -4.6 0zM304.4 150.7a2.3 2.3 0 1 0 4.6 0a2.3 2.3 0 1 0 -4.6 0zM304.5 154.1a2.3 2.3 0 1 0 4.6 0a2.3 2.3 0 1 0 -4.6 0zM304.6 171.1a2.3 2.3 0 1 0 4.6 0a2.3 2.3 0 1 0 -4.6 0zM304.6 154.7a2.3 2.3 0 1 0 4.6 0a2.3 2.3 0 1 0 -4.6 0zM304.7 139.1a2.3 2.3 0 1 0 4.6 0a2.3 2.3 0 1 0 -4.6 0zM304.7 142.4a2.3 2.3 0 1 0 4.6 0a2.3 2.3 0 1 0 -4.6 0zM304.8 133.1a2.3 2.3 0 1 0 4.6 0a2.3 2.3 0 1 0 -4.6 0zM304.8 167.7a2.3 2.3 0 1 0 4.6 0a2.3 2.3 0 1 0 -4.6 0zM304.9 172.3a2.3 2.3 0 1 0 4.6 0a2.3 2.3 0 1 0 -4.6 0zM305 139.7a2.3 2.3 0 1 0 4.6 0a2.3 2.3 0 1 0 -4.6 0zM305 161.1a2.3 2.3 0 1 0 4.6 0a2.3 2.3 0 1 0 -4.6 0zM305.1 140.7a2.3 2.3 0 1 0 4.6 0a2.3 2.3 0 1 0 -4.6 0zM305.1 145.5a2.3 2.3 0 1 0 4.6 0a2.3 2.3 0 1 0 -4.6 0zM305.2 137.4a2.3 2.3 0 1 0 4.6 0a2.3 2.3 0 1 0 -4.6 0zM305.2 152.1a2.3 2.3 0 1 0 4.6 0a2.3 2.3 0 1 0 -4.6 0zM305.3 135.6a2.3 2.3 0 1 0 4.6 0a2.3 2.3 0 1 0 -4.6 0zM305.3 158.8a2.3 2.3 0 1 0 4.6 0a2.3 2.3 0 1 0 -4.6 0zM305.4 133.7a2.3 2.3 0 1 0 4.6 0a2.3 2.3 0 1 0 -4.6 0zM305.5 163.2a2.3 2.3 0 1 0 4.6 0a2.3 2.3 0 1 0 -4.6 0zM305.5 165.2a2.3 2.3 0 1 0 4.6 0a2.3 2.3 0 1 0 -4.6 0zM305.6 144.3a2.3 2.3 0 1 0 4.6 0a2.3 2.3 0 1 0 -4.6 0zM305.6 142.1a2.3 2.3 0 1 0 4.6 0a2.3 2.3 0 1 0 -4.6 0zM305.7 147.5a2.3 2.3 0 1 0 4.6 0a2.3 2.3 0 1 0 -4.6 0zM305.7 143a2.3 2.3 0 1 0 4.6 0a2.3 2.3 0 1 0 -4.6 0zM305.8 156.5a2.3 2.3 0 1 0 4.6 0a2.3 2.3 0 1 0 -4.6 0zM305.8 135a2.3 2.3 0 1 0 4.6 0a2.3 2.3 0 1 0 -4.6 0zM305.9 140.8a2.3 2.3 0 1 0 4.6 0a2.3 2.3 0 1 0 -4.6 0zM305.9 141.6a2.3 2.3 0 1 0 4.6 0a2.3 2.3 0 1 0 -4.6 0zM306 146.5a2.3 2.3 0 1 0 4.6 0a2.3 2.3 0 1 0 -4.6 0zM306 162a2.3 2.3 0 1 0 4.6 0a2.3 2.3 0 1 0 -4.6 0zM306.1 158.4a2.3 2.3 0 1 0 4.6 0a2.3 2.3 0 1 0 -4.6 0zM306.2 170.9a2.3 2.3 0 1 0 4.6 0a2.3 2.3 0 1 0 -4.6 0zM306.2 130.4a2.3 2.3 0 1 0 4.6 0a2.3 2.3 0 1 0 -4.6 0zM306.3 163.6a2.3 2.3 0 1 0 4.6 0a2.3 2.3 0 1 0 -4.6 0zM306.3 137.3a2.3 2.3 0 1 0 4.6 0a2.3 2.3 0 1 0 -4.6 0zM306.4 165.8a2.3 2.3 0 1 0 4.6 0a2.3 2.3 0 1 0 -4.6 0zM306.4 147.7a2.3 2.3 0 1 0 4.6 0a2.3 2.3 0 1 0 -4.6 0zM306.5 158.6a2.3 2.3 0 1 0 4.6 0a2.3 2.3 0 1 0 -4.6 0zM306.5 154.4a2.3 2.3 0 1 0 4.6 0a2.3 2.3 0 1 0 -4.6 0zM306.6 142.3a2.3 2.3 0 1 0 4.6 0a2.3 2.3 0 1 0 -4.6 0zM306.6 158.2a2.3 2.3 0 1 0 4.6 0a2.3 2.3 0 1 0 -4.6 0zM306.7 137.6a2.3 2.3 0 1 0 4.6 0a2.3 2.3 0 1 0 -4.6 0zM306.7 173.4a2.3 2.3 0 1 0 4.6 0a2.3 2.3 0 1 0 -4.6 0zM306.8 159.2a2.3 2.3 0 1 0 4.6 0a2.3 2.3 0 1 0 -4.6 0zM306.8 152.6a2.3 2.3 0 1 0 4.6 0a2.3 2.3 0 1 0 -4.6 0zM306.9 169.8a2.3 2.3 0 1 0 4.6 0a2.3 2.3 0 1 0 -4.6 0zM307 155.2a2.3 2.3 0 1 0 4.6 0a2.3 2.3 0 1 0 -4.6 0zM307 171.1a2.3 2.3 0 1 0 4.6 0a2.3 2.3 0 1 0 -4.6 0zM307.1 169.6a2.3 2.3 0 1 0 4.6 0a2.3 2.3 0 1 0 -4.6 0zM307.1 158a2.3 2.3 0 1 0 4.6 0a2.3 2.3 0 1 0 -4.6 0zM307.2 135.2a2.3 2.3 0 1 0 4.6 0a2.3 2.3 0 1 0 -4.6 0zM307.2 173.5a2.3 2.3 0 1 0 4.6 0a2.3 2.3 0 1 0 -4.6 0zM307.3 160.5a2.3 2.3 0 1 0 4.6 0a2.3 2.3 0 1 0 -4.6 0zM307.3 155.2a2.3 2.3 0 1 0 4.6 0a2.3 2.3 0 1 0 -4.6 0zM307.4 134.4a2.3 2.3 0 1 0 4.6 0a2.3 2.3 0 1 0 -4.6 0zM307.4 137.8a2.3 2.3 0 1 0 4.6 0a2.3 2.3 0 1 0 -4.6 0zM307.5 160.2a2.3 2.3 0 1 0 4.6 0a2.3 2.3 0 1 0 -4.6 0zM307.5 130.1a2.3 2.3 0 1 0 4.6 0a2.3 2.3 0 1 0 -4.6 0zM307.6 140.9a2.3 2.3 0 1 0 4.6 0a2.3 2.3 0 1 0 -4.6 0zM307.6 138.9a2.3 2.3 0 1 0 4.6 0a2.3 2.3 0 1 0 -4.6 0zM307.7 168.1a2.3 2.3 0 1 0 4.6 0a2.3 2.3 0 1 0 -4.6 0zM307.7 152.2a2.3 2.3 0 1 0 4.6 0a2.3 2.3 0 1 0 -4.6 0zM307.8 166.9a2.3 2.3 0 1 0 4.6 0a2.3 2.3 0 1 0 -4.6 0zM307.8 132.5a2.3 2.3 0 1 0 4.6 0a2.3 2.3 0 1 0 -4.6 0zM307.9 151.7a2.3 2.3 0 1 0 4.6 0a2.3 2.3 0 1 0 -4.6 0zM307.9 166.3a2.3 2.3 0 1 0 4.6 0a2.3 2.3 0 1 0 -4.6 0zM308 171a2.3 2.3 0 1 0 4.6 0a2.3 2.3 0 1 0 -4.6 0zM308 169.2a2.3 2.3 0 1 0 4.6 0a2.3 2.3 0 1 0 -4.6 0zM308.1 129.7a2.3 2.3 0 1 0 4.6 0a2.3 2.3 0 1 0 -4.6 0zM308.1 163.7a2.3 2.3 0 1 0 4.6 0a2.3 2.3 0 1 0 -4.6 0zM308.2 143.8a2.3 2.3 0 1 0 4.6 0a2.3 2.3 0 1 0 -4.6 0zM308.2 132.1a2.3 2.3 0 1 0 4.6 0a2.3 2.3 0 1 0 -4.6 0zM308.3 165.6a2.3 2.3 0 1 0 4.6 0a2.3 2.3 0 1 0 -4.6 0zM308.3 172.7a2.3 2.3 0 1 0 4.6 0a2.3 2.3 0 1 0 -4.6 0zM308.4 171.3a2.3 2.3 0 1 0 4.6 0a2.3 2.3 0 1 0 -4.6 0zM308.4 173.4a2.3 2.3 0 1 0 4.6 0a2.3 2.3 0 1 0 -4.6 0zM308.5 140.1a2.3 2.3 0 1 0 4.6 0a2.3 2.3 0 1 0 -4.6 0zM308.5 162.5a2.3 2.3 0 1 0 4.6 0a2.3 2.3 0 1 0 -4.6 0zM308.6 170.4a2.3 2.3 0 1 0 4.6 0a2.3 2.3 0 1 0 -4.6 0zM308.6 168a2.3 2.3 0 1 0 4.6 0a2.3 2.3 0 1 0 -4.6 0zM308.7 155.2a2.3 2.3 0 1 0 4.6 0a2.3 2.3 0 1 0 -4.6 0zM308.7 141.1a2.3 2.3 0 1 0 4.6 0a2.3 2.3 0 1 0 -4.6 0zM308.8 157.3a2.3 2.3 0 1 0 4.6 0a2.3 2.3 0 1 0 -4.6 0zM308.8 129.3a2.3 2.3 0 1 0 4.6 0a2.3 2.3 0 1 0 -4.6 0zM308.9 157.3a2.3 2.3 0 1 0 4.6 0a2.3 2.3 0 1 0 -4.6 0zM308.9 144.9a2.3 2.3 0 1 0 4.6 0a2.3 2.3 0 1 0 -4.6 0zM309 145.6a2.3 2.3 0 1 0 4.6 0a2.3 2.3 0 1 0 -4.6 0zM309 154.6a2.3 2.3 0 1 0 4.6 0a2.3 2.3 0 1 0 -4.6 0zM309.1 152.2a2.3 2.3 0 1 0 4.6 0a2.3 2.3 0 1 0 -4.6 0zM309.1 140.9a2.3 2.3 0 1 0 4.6 0a2.3 2.3 0 1 0 -4.6 0zM309.2 149.9a2.3 2.3 0 1 0 4.6 0a2.3 2.3 0 1 0 -4.6 0zM309.2 151a2.3 2.3 0 1 0 4.6 0a2.3 2.3 0 1 0 -4.6 0zM309.3 145.1a2.3 2.3 0 1 0 4.6 0a2.3 2.3 0 1 0 -4.6 0zM309.3 143.5a2.3 2.3 0 1 0 4.6 0a2.3 2.3 0 1 0 -4.6 0zM309.4 157a2.3 2.3 0 1 0 4.6 0a2.3 2.3 0 1 0 -4.6 0zM309.4 133.1a2.3 2.3 0 1 0 4.6 0a2.3 2.3 0 1 0 -4.6 0zM309.5 141.6a2.3 2.3 0 1 0 4.6 0a2.3 2.3 0 1 0 -4.6 0zM309.5 162a2.3 2.3 0 1 0 4.6 0a2.3 2.3 0 1 0 -4.6 0zM309.6 175.4a2.3 2.3 0 1 0 4.6 0a2.3 2.3 0 1 0 -4.6 0zM309.6 133.2a2.3 2.3 0 1 0 4.6 0a2.3 2.3 0 1 0 -4.6 0zM309.7 137a2.3 2.3 0 1 0 4.6 0a2.3 2.3 0 1 0 -4.6 0zM309.7 138a2.3 2.3 0 1 0 4.6 0a2.3 2.3 0 1 0 -4.6 0zM309.8 154.6a2.3 2.3 0 1 0 4.6 0a2.3 2.3 0 1 0 -4.6 0zM309.8 143.6a2.3 2.3 0 1 0 4.6 0a2.3 2.3 0 1 0 -4.6 0zM309.9 166.7a2.3 2.3 0 1 0 4.6 0a2.3 2.3 0 1 0 -4.6 0zM309.9 168.6a2.3 2.3 0 1 0 4.6 0a2.3 2.3 0 1 0 -4.6 0zM309.9 149.3a2.3 2.3 0 1 0 4.6 0a2.3 2.3 0 1 0 -4.6 0zM310 146.6a2.3 2.3 0 1 0 4.6 0a2.3 2.3 0 1 0 -4.6 0zM310 142.3a2.3 2.3 0 1 0 4.6 0a2.3 2.3 0 1 0 -4.6 0zM310.1 144.1a2.3 2.3 0 1 0 4.6 0a2.3 2.3 0 1 0 -4.6 0zM310.1 151.3a2.3 2.3 0 1 0 4.6 0a2.3 2.3 0 1 0 -4.6 0zM310.2 176.9a2.3 2.3 0 1 0 4.6 0a2.3 2.3 0 1 0 -4.6 0zM310.2 168.3a2.3 2.3 0 1 0 4.6 0a2.3 2.3 0 1 0 -4.6 0zM310.3 147.9a2.3 2.3 0 1 0 4.6 0a2.3 2.3 0 1 0 -4.6 0zM310.3 160.9a2.3 2.3 0 1 0 4.6 0a2.3 2.3 0 1 0 -4.6 0zM310.4 153a2.3 2.3 0 1 0 4.6 0a2.3 2.3 0 1 0 -4.6 0zM310.4 143.6a2.3 2.3 0 1 0 4.6 0a2.3 2.3 0 1 0 -4.6 0zM310.5 130.1a2.3 2.3 0 1 0 4.6 0a2.3 2.3 0 1 0 -4.6 0zM310.5 138.3a2.3 2.3 0 1 0 4.6 0a2.3 2.3 0 1 0 -4.6 0zM310.6 159.5a2.3 2.3 0 1 0 4.6 0a2.3 2.3 0 1 0 -4.6 0zM310.6 157.4a2.3 2.3 0 1 0 4.6 0a2.3 2.3 0 1 0 -4.6 0zM310.7 138.4a2.3 2.3 0 1 0 4.6 0a2.3 2.3 0 1 0 -4.6 0zM310.7 174.6a2.3 2.3 0 1 0 4.6 0a2.3 2.3 0 1 0 -4.6 0zM310.7 140.9a2.3 2.3 0 1 0 4.6 0a2.3 2.3 0 1 0 -4.6 0zM310.8 174.2a2.3 2.3 0 1 0 4.6 0a2.3 2.3 0 1 0 -4.6 0zM310.8 132.3a2.3 2.3 0 1 0 4.6 0a2.3 2.3 0 1 0 -4.6 0zM310.9 129.3a2.3 2.3 0 1 0 4.6 0a2.3 2.3 0 1 0 -4.6 0zM310.9 172.3a2.3 2.3 0 1 0 4.6 0a2.3 2.3 0 1 0 -4.6 0zM311 160.4a2.3 2.3 0 1 0 4.6 0a2.3 2.3 0 1 0 -4.6 0zM311 141.9a2.3 2.3 0 1 0 4.6 0a2.3 2.3 0 1 0 -4.6 0zM311.1 145.7a2.3 2.3 0 1 0 4.6 0a2.3 2.3 0 1 0 -4.6 0zM311.1 146.9a2.3 2.3 0 1 0 4.6 0a2.3 2.3 0 1 0 -4.6 0zM311.2 141.4a2.3 2.3 0 1 0 4.6 0a2.3 2.3 0 1 0 -4.6 0zM311.2 132.5a2.3 2.3 0 1 0 4.6 0a2.3 2.3 0 1 0 -4.6 0zM311.3 168.6a2.3 2.3 0 1 0 4.6 0a2.3 2.3 0 1 0 -4.6 0zM311.3 165a2.3 2.3 0 1 0 4.6 0a2.3 2.3 0 1 0 -4.6 0zM311.3 162.5a2.3 2.3 0 1 0 4.6 0a2.3 2.3 0 1 0 -4.6 0zM311.4 146a2.3 2.3 0 1 0 4.6 0a2.3 2.3 0 1 0 -4.6 0zM311.4 158.5a2.3 2.3 0 1 0 4.6 0a2.3 2.3 0 1 0 -4.6 0zM311.5 157.6a2.3 2.3 0 1 0 4.6 0a2.3 2.3 0 1 0 -4.6 0zM311.5 156.9a2.3 2.3 0 1 0 4.6 0a2.3 2.3 0 1 0 -4.6 0zM311.6 150.8a2.3 2.3 0 1 0 4.6 0a2.3 2.3 0 1 0 -4.6 0zM311.6 171.1a2.3 2.3 0 1 0 4.6 0a2.3 2.3 0 1 0 -4.6 0zM311.7 131.5a2.3 2.3 0 1 0 4.6 0a2.3 2.3 0 1 0 -4.6 0zM311.7 142.9a2.3 2.3 0 1 0 4.6 0a2.3 2.3 0 1 0 -4.6 0zM311.8 184.8a2.3 2.3 0 1 0 4.6 0a2.3 2.3 0 1 0 -4.6 0zM311.8 162.7a2.3 2.3 0 1 0 4.6 0a2.3 2.3 0 1 0 -4.6 0zM311.8 169.1a2.3 2.3 0 1 0 4.6 0a2.3 2.3 0 1 0 -4.6 0zM311.9 168.1a2.3 2.3 0 1 0 4.6 0a2.3 2.3 0 1 0 -4.6 0zM311.9 166.2a2.3 2.3 0 1 0 4.6 0a2.3 2.3 0 1 0 -4.6 0zM312 165.1a2.3 2.3 0 1 0 4.6 0a2.3 2.3 0 1 0 -4.6 0zM312 137.5a2.3 2.3 0 1 0 4.6 0a2.3 2.3 0 1 0 -4.6 0zM312.1 148.9a2.3 2.3 0 1 0 4.6 0a2.3 2.3 0 1 0 -4.6 0zM312.1 145.6a2.3 2.3 0 1 0 4.6 0a2.3 2.3 0 1 0 -4.6 0zM312.2 132.1a2.3 2.3 0 1 0 4.6 0a2.3 2.3 0 1 0 -4.6 0zM312.2 141.6a2.3 2.3 0 1 0 4.6 0a2.3 2.3 0 1 0 -4.6 0zM312.2 137.7a2.3 2.3 0 1 0 4.6 0a2.3 2.3 0 1 0 -4.6 0zM312.3 131.9a2.3 2.3 0 1 0 4.6 0a2.3 2.3 0 1 0 -4.6 0zM312.3 132.4a2.3 2.3 0 1 0 4.6 0a2.3 2.3 0 1 0 -4.6 0zM312.4 175.1a2.3 2.3 0 1 0 4.6 0a2.3 2.3 0 1 0 -4.6 0zM312.4 148a2.3 2.3 0 1 0 4.6 0a2.3 2.3 0 1 0 -4.6 0zM312.5 156.9a2.3 2.3 0 1 0 4.6 0a2.3 2.3 0 1 0 -4.6 0zM312.5 155.2a2.3 2.3 0 1 0 4.6 0a2.3 2.3 0 1 0 -4.6 0zM312.6 134.9a2.3 2.3 0 1 0 4.6 0a2.3 2.3 0 1 0 -4.6 0zM312.6 136.6a2.3 2.3 0 1 0 4.6 0a2.3 2.3 0 1 0 -4.6 0zM312.6 168.1a2.3 2.3 0 1 0 4.6 0a2.3 2.3 0 1 0 -4.6 0zM312.7 168.2a2.3 2.3 0 1 0 4.6 0a2.3 2.3 0 1 0 -4.6 0zM312.7 161.3a2.3 2.3 0 1 0 4.6 0a2.3 2.3 0 1 0 -4.6 0zM312.8 156a2.3 2.3 0 1 0 4.6 0a2.3 2.3 0 1 0 -4.6 0zM312.8 135.6a2.3 2.3 0 1 0 4.6 0a2.3 2.3 0 1 0 -4.6 0zM312.9 148a2.3 2.3 0 1 0 4.6 0a2.3 2.3 0 1 0 -4.6 0zM312.9 150.6a2.3 2.3 0 1 0 4.6 0a2.3 2.3 0 1 0 -4.6 0zM312.9 132.9a2.3 2.3 0 1 0 4.6 0a2.3 2.3 0 1 0 -4.6 0zM313 169a2.3 2.3 0 1 0 4.6 0a2.3 2.3 0 1 0 -4.6 0zM313 175.5a2.3 2.3 0 1 0 4.6 0a2.3 2.3 0 1 0 -4.6 0zM313.1 142.9a2.3 2.3 0 1 0 4.6 0a2.3 2.3 0 1 0 -4.6 0zM313.1 150.6a2.3 2.3 0 1 0 4.6 0a2.3 2.3 0 1 0 -4.6 0zM313.2 163.6a2.3 2.3 0 1 0 4.6 0a2.3 2.3 0 1 0 -4.6 0zM313.2 148.4a2.3 2.3 0 1 0 4.6 0a2.3 2.3 0 1 0 -4.6 0zM313.3 145.5a2.3 2.3 0 1 0 4.6 0a2.3 2.3 0 1 0 -4.6 0zM313.3 158.1a2.3 2.3 0 1 0 4.6 0a2.3 2.3 0 1 0 -4.6 0zM313.3 156.6a2.3 2.3 0 1 0 4.6 0a2.3 2.3 0 1 0 -4.6 0zM313.4 140.2a2.3 2.3 0 1 0 4.6 0a2.3 2.3 0 1 0 -4.6 0zM313.4 168.6a2.3 2.3 0 1 0 4.6 0a2.3 2.3 0 1 0 -4.6 0zM313.5 152.6a2.3 2.3 0 1 0 4.6 0a2.3 2.3 0 1 0 -4.6 0zM313.5 171.2a2.3 2.3 0 1 0 4.6 0a2.3 2.3 0 1 0 -4.6 0zM313.5 140a2.3 2.3 0 1 0 4.6 0a2.3 2.3 0 1 0 -4.6 0zM313.6 140.7a2.3 2.3 0 1 0 4.6 0a2.3 2.3 0 1 0 -4.6 0zM313.6 145.6a2.3 2.3 0 1 0 4.6 0a2.3 2.3 0 1 0 -4.6 0zM313.7 166.9a2.3 2.3 0 1 0 4.6 0a2.3 2.3 0 1 0 -4.6 0zM313.7 146.1a2.3 2.3 0 1 0 4.6 0a2.3 2.3 0 1 0 -4.6 0zM313.8 162.4a2.3 2.3 0 1 0 4.6 0a2.3 2.3 0 1 0 -4.6 0zM313.8 161.9a2.3 2.3 0 1 0 4.6 0a2.3 2.3 0 1 0 -4.6 0zM313.8 148.1a2.3 2.3 0 1 0 4.6 0a2.3 2.3 0 1 0 -4.6 0zM313.9 178.9a2.3 2.3 0 1 0 4.6 0a2.3 2.3 0 1 0 -4.6 0zM313.9 154.9a2.3 2.3 0 1 0 4.6 0a2.3 2.3 0 1 0 -4.6 0zM314 163.4a2.3 2.3 0 1 0 4.6 0a2.3 2.3 0 1 0 -4.6 0zM314 142.8a2.3 2.3 0 1 0 4.6 0a2.3 2.3 0 1 0 -4.6 0zM314.1 146.9a2.3 2.3 0 1 0 4.6 0a2.3 2.3 0 1 0 -4.6 0zM314.1 166.9a2.3 2.3 0 1 0 4.6 0a2.3 2.3 0 1 0 -4.6 0zM314.1 144.2a2.3 2.3 0 1 0 4.6 0a2.3 2.3 0 1 0 -4.6 0zM314.2 134.5a2.3 2.3 0 1 0 4.6 0a2.3 2.3 0 1 0 -4.6 0zM314.2 133.4a2.3 2.3 0 1 0 4.6 0a2.3 2.3 0 1 0 -4.6 0zM314.3 144.1a2.3 2.3 0 1 0 4.6 0a2.3 2.3 0 1 0 -4.6 0zM314.3 175.1a2.3 2.3 0 1 0 4.6 0a2.3 2.3 0 1 0 -4.6 0zM314.3 141.7a2.3 2.3 0 1 0 4.6 0a2.3 2.3 0 1 0 -4.6 0zM314.4 153.6a2.3 2.3 0 1 0 4.6 0a2.3 2.3 0 1 0 -4.6 0zM314.4 160.7a2.3 2.3 0 1 0 4.6 0a2.3 2.3 0 1 0 -4.6 0zM314.5 161.9a2.3 2.3 0 1 0 4.6 0a2.3 2.3 0 1 0 -4.6 0zM314.5 143.4a2.3 2.3 0 1 0 4.6 0a2.3 2.3 0 1 0 -4.6 0zM314.6 163.3a2.3 2.3 0 1 0 4.6 0a2.3 2.3 0 1 0 -4.6 0zM314.6 147.1a2.3 2.3 0 1 0 4.6 0a2.3 2.3 0 1 0 -4.6 0zM314.6 156.5a2.3 2.3 0 1 0 4.6 0a2.3 2.3 0 1 0 -4.6 0zM314.7 130.4a2.3 2.3 0 1 0 4.6 0a2.3 2.3 0 1 0 -4.6 0zM314.7 173.7a2.3 2.3 0 1 0 4.6 0a2.3 2.3 0 1 0 -4.6 0zM314.8 148a2.3 2.3 0 1 0 4.6 0a2.3 2.3 0 1 0 -4.6 0zM314.8 136.9a2.3 2.3 0 1 0 4.6 0a2.3 2.3 0 1 0 -4.6 0zM314.8 137a2.3 2.3 0 1 0 4.6 0a2.3 2.3 0 1 0 -4.6 0zM314.9 162.1a2.3 2.3 0 1 0 4.6 0a2.3 2.3 0 1 0 -4.6 0zM314.9 154.9a2.3 2.3 0 1 0 4.6 0a2.3 2.3 0 1 0 -4.6 0zM315 173.2a2.3 2.3 0 1 0 4.6 0a2.3 2.3 0 1 0 -4.6 0zM315 144a2.3 2.3 0 1 0 4.6 0a2.3 2.3 0 1 0 -4.6 0zM315 166.9a2.3 2.3 0 1 0 4.6 0a2.3 2.3 0 1 0 -4.6 0zM315.1 133.2a2.3 2.3 0 1 0 4.6 0a2.3 2.3 0 1 0 -4.6 0zM315.1 160.6a2.3 2.3 0 1 0 4.6 0a2.3 2.3 0 1 0 -4.6 0zM315.2 129.7a2.3 2.3 0 1 0 4.6 0a2.3 2.3 0 1 0 -4.6 0zM315.2 139.6a2.3 2.3 0 1 0 4.6 0a2.3 2.3 0 1 0 -4.6 0zM315.3 165.1a2.3 2.3 0 1 0 4.6 0a2.3 2.3 0 1 0 -4.6 0zM315.3 140.7a2.3 2.3 0 1 0 4.6 0a2.3 2.3 0 1 0 -4.6 0zM315.3 149.6a2.3 2.3 0 1 0 4.6 0a2.3 2.3 0 1 0 -4.6 0zM315.4 157.1a2.3 2.3 0 1 0 4.6 0a2.3 2.3 0 1 0 -4.6 0zM315.4 135.5a2.3 2.3 0 1 0 4.6 0a2.3 2.3 0 1 0 -4.6 0zM315.5 173.6a2.3 2.3 0 1 0 4.6 0a2.3 2.3 0 1 0 -4.6 0zM315.5 160.4a2.3 2.3 0 1 0 4.6 0a2.3 2.3 0 1 0 -4.6 0zM315.5 170.2a2.3 2.3 0 1 0 4.6 0a2.3 2.3 0 1 0 -4.6 0zM315.6 175.9a2.3 2.3 0 1 0 4.6 0a2.3 2.3 0 1 0 -4.6 0zM315.6 130.7a2.3 2.3 0 1 0 4.6 0a2.3 2.3 0 1 0 -4.6 0zM315.7 130.1a2.3 2.3 0 1 0 4.6 0a2.3 2.3 0 1 0 -4.6 0zM315.7 161.3a2.3 2.3 0 1 0 4.6 0a2.3 2.3 0 1 0 -4.6 0zM315.7 149.2a2.3 2.3 0 1 0 4.6 0a2.3 2.3 0 1 0 -4.6 0zM315.8 176.4a2.3 2.3 0 1 0 4.6 0a2.3 2.3 0 1 0 -4.6 0zM315.8 168.4a2.3 2.3 0 1 0 4.6 0a2.3 2.3 0 1 0 -4.6 0zM315.9 157.4a2.3 2.3 0 1 0 4.6 0a2.3 2.3 0 1 0 -4.6 0zM315.9 156.1a2.3 2.3 0 1 0 4.6 0a2.3 2.3 0 1 0 -4.6 0zM315.9 148.3a2.3 2.3 0 1 0 4.6 0a2.3 2.3 0 1 0 -4.6 0zM316 139.8a2.3 2.3 0 1 0 4.6 0a2.3 2.3 0 1 0 -4.6 0zM316 153.7a2.3 2.3 0 1 0 4.6 0a2.3 2.3 0 1 0 -4.6 0zM316 134.9a2.3 2.3 0 1 0 4.6 0a2.3 2.3 0 1 0 -4.6 0zM316.1 172.8a2.3 2.3 0 1 0 4.6 0a2.3 2.3 0 1 0 -4.6 0zM316.1 151.2a2.3 2.3 0 1 0 4.6 0a2.3 2.3 0 1 0 -4.6 0zM316.2 143.8a2.3 2.3 0 1 0 4.6 0a2.3 2.3 0 1 0 -4.6 0zM316.2 163a2.3 2.3 0 1 0 4.6 0a2.3 2.3 0 1 0 -4.6 0zM316.2 174.9a2.3 2.3 0 1 0 4.6 0a2.3 2.3 0 1 0 -4.6 0zM316.3 137.4a2.3 2.3 0 1 0 4.6 0a2.3 2.3 0 1 0 -4.6 0zM316.3 158.2a2.3 2.3 0 1 0 4.6 0a2.3 2.3 0 1 0 -4.6 0zM316.4 163.6a2.3 2.3 0 1 0 4.6 0a2.3 2.3 0 1 0 -4.6 0zM316.4 150a2.3 2.3 0 1 0 4.6 0a2.3 2.3 0 1 0 -4.6 0zM316.4 166a2.3 2.3 0 1 0 4.6 0a2.3 2.3 0 1 0 -4.6 0zM316.5 140.4a2.3 2.3 0 1 0 4.6 0a2.3 2.3 0 1 0 -4.6 0zM316.5 150.7a2.3 2.3 0 1 0 4.6 0a2.3 2.3 0 1 0 -4.6 0zM316.6 159.5a2.3 2.3 0 1 0 4.6 0a2.3 2.3 0 1 0 -4.6 0zM316.6 144a2.3 2.3 0 1 0 4.6 0a2.3 2.3 0 1 0 -4.6 0zM316.6 154.8a2.3 2.3 0 1 0 4.6 0a2.3 2.3 0 1 0 -4.6 0zM316.7 137.7a2.3 2.3 0 1 0 4.6 0a2.3 2.3 0 1 0 -4.6 0zM316.7 141.4a2.3 2.3 0 1 0 4.6 0a2.3 2.3 0 1 0 -4.6 0z"/>
<path fill="#0f0" d="M74.2 76.8l3 -5.2h-6zM114.4 76.7l3 -5.2h-6zM131.6 77.3l3 -5.2h-6zM142.8 78.1l3 -5.2h-6zM151.1 78.5l3 -5.2h-6zM157.6 78.3l3 -5.2h-6zM163.1 79.8l3 -5.2h-6zM167.7 79.7l3 -5.2h-6zM171.8 79.6l3 -5.2h-6zM175.4 80.6l3 -5.2h-6zM178.6 79.6l3 -5.2h-6zM181.6 79.8l3 -5.2h-6zM184.3 80l3 -5.2h-6zM186.7 81.1l3 -5.2h-6zM189.1 80.4l3 -5.2h-6zM191.2 80.1l3 -5.2h-6zM193.2 80.9l3 -5.2h-6zM195.1 81.6l3 -5.2h-6zM196.9 81.6l3 -5.2h-6zM198.6 81.8l3 -5.2h-6zM200.2 81l3 -5.2h-6zM201.8 82.2l3 -5.2h-6zM203.2 82l3 -5.2h-6zM204.6 81.4l3 -5.2h-6zM206 81.2l3 -5.2h-6zM207.2 81.1l3 -5.2h-6zM208.5 81.3l3 -5.2h-6zM209.7 81.4l3 -5.2h-6zM210.8 82.5l3 -5.2h-6zM211.9 81.7l3 -5.2h-6zM213 81.7l3 -5.2h-6zM214 81.5l3 -5.2h-6zM215 82.7l3 -5.2h-6zM216 82.9l3 -5.2h-6zM217 81.6l3 -5.2h-6zM217.9 82l3 -5.2h-6zM218.8 82.4l3 -5.2h-6zM219.6 82.4l3 -5.2h-6zM220.5 82.6l3 -5.2h-6zM221.3 82.7l3 -5.2h-6zM222.1 82.7l3 -5.2h-6zM222.9 83.2l3 -5.2h-6zM223.7 83.4l3 -5.2h-6zM224.4 82.6l3 -5.2h-6zM225.1 82.5l3 -5.2h-6zM225.9 82.1l3 -5.2h-6zM226.6 82.3l3 -5.2h-6zM227.2 82.3l3 -5.2h-6zM227.9 83.5l3 -5.2h-6zM228.6 83l3 -5.2h-6zM229.2 82.7l3 -5.2h-6zM229.8 82.6l3 -5.2h-6zM230.5 83.1l3 -5.2h-6zM231.1 82.4l3 -5.2h-6zM231.7 83.4l3 -5.2h-6zM232.2 84l3 -5.2h-6zM232.8 83.2l3 -5.2h-6zM233.4 83l3 -5.2h-6zM233.9 83l3 -5.2h-6zM234.5 83.7l3 -5.2h-6zM235 84l3 -5.2h-6zM235.5 83.5l3 -5.2h-6zM236.1 83.5l3 -5.2h-6zM236.6 83.8l3 -5.2h-6zM237.1 82.8l3 -5.2h-6zM237.6 83.8l3 -5.2h-6zM238 83.1l3 -5.2h-6zM238.5 83.1l3 -5.2h-6zM239 83.6l3 -5.2h-6zM239.5 83.5l3 -5.2h-6zM239.9 83l3 -5.2h-6zM240.4 83.4l3 -5.2h-6zM240.8 83.3l3 -5.2h-6zM241.3 84.4l3 -5.2h-6zM241.7 83l3 -5.2h-6zM242.1 84l3 -5.2h-6zM242.5 83.3l3 -5.2h-6zM243 83.4l3 -5.2h-6zM243.4 83.6l3 -5.2h-6zM243.8 83.5l3 -5.2h-6zM244.2 84.2l3 -5.2h-6zM244.6 84.7l3 -5.2h-6zM245 84.4l3 -5.2h-6zM245.4 83.4l3 -5.2h-6zM245.7 83.5l3 -5.2h-6zM246.1 83.6l3 -5.2h-6zM246.5 83.6l3 -5.2h-6zM246.9 84.5l3 -5.2h-6zM247.2 84.5l3 -5.2h-6zM247.6 83.5l3 -5.2h-6zM247.9 84.7l3 -5.2h-6zM248.3 84.4l3 -5.2h-6zM248.6 83.5l3 -5.2h-6zM249 84l3 -5.2h-6zM249.3 83.4l3 -5.2h-6zM249.7 84.9l3 -5.2h-6zM250 84.4l3 -5.2h-6zM250.3 84.1l3 -5.2h-6zM250.7 84.4l3 -5.2h-6zM251 83.9l3 -5.2h-6zM251.3 83.9l3 -5.2h-6zM251.6 84.5l3 -5.2h-6zM251.9 84.4l3 -5.2h-6zM252.2 84.5l3 -5.2h-6zM252.5 85.1l3 -5.2h-6zM252.9 83.8l3 -5.2h-6zM253.2 84l3 -5.2h-6zM253.5 83.8l3 -5.2h-6zM253.8 84.7l3 -5.2h-6zM254 84.3l3 -5.2h-6zM254.3 84.2l3 -5.2h-6zM254.6 84.3l3 -5.2h-6zM254.9 84.3l3 -5.2h-6zM255.2 83.9l3 -5.2h-6zM255.5 83.9l3 -5.2h-6zM255.8 84.5l3 -5.2h-6zM256 85l3 -5.2h-6zM256.3 84.6l3 -5.2h-6zM256.6 85l3 -5.2h-6zM256.9 84.5l3 -5.2h-6zM257.1 84.6l3 -5.2h-6zM257.4 84l3 -5.2h-6zM257.6 85l3 -5.2h-6zM257.9 85.2l3 -5.2h-6zM258.2 85.3l3 -5.2h-6zM258.4 85.3l3 -5.2h-6zM258.7 84.7l3 -5.2h-6zM258.9 84.2l3 -5.2h-6zM259.2 84.9l3 -5.2h-6zM259.4 85.5l3 -5.2h-6zM259.7 85.3l3 -5.2h-6zM259.9 84l3 -5.2h-6zM260.2 85l3 -5.2h-6zM260.4 84.9l3 -5.2h-6zM260.6 84.2l3 -5.2h-6zM260.9 84.9l3 -5.2h-6zM261.1 84.1l3 -5.2h-6zM261.4 85.6l3 -5.2h-6zM261.6 84.6l3 -5.2h-6zM261.8 85.3l3 -5.2h-6zM262 84.6l3 -5.2h-6zM262.3 85.4l3 -5.2h-6zM262.5 84.5l3 -5.2h-6zM262.7 84.5l3 -5.2h-6zM262.9 85.3l3 -5.2h-6zM263.2 84.3l3 -5.2h-6zM263.4 84.2l3 -5.2h-6zM263.6 84.8l3 -5.2h-6zM263.8 84.4l3 -5.2h-6zM264 85.2l3 -5.2h-6zM264.2 84.3l3 -5.2h-6zM264.5 85.6l3 -5.2h-6zM264.7 85.1l3 -5.2h-6zM264.9 85.5l3 -5.2h-6zM265.1 84.8l3 -5.2h-6zM265.3 84.5l3 -5.2h-6zM265.5 84.9l3 -5.2h-6zM265.7 85.8l3 -5.2h-6zM265.9 85.5l3 -5.2h-6zM266.1 84.6l3 -5.2h-6zM266.3 84.6l3 -5.2h-6zM266.5 85.2l3 -5.2h-6zM266.7 84.5l3 -5.2h-6zM266.9 84.5l3 -5.2h-6zM267.1 85.4l3 -5.2h-6zM267.3 85.3l3 -5.2h-6zM267.5 85.8l3 -5.2h-6zM267.7 85.7l3 -5.2h-6zM267.9 85.5l3 -5.2h-6zM268.1 84.5l3 -5.2h-6zM268.3 85.3l3 -5.2h-6zM268.4 84.8l3 -5.2h-6zM268.6 84.9l3 -5.2h-6zM268.8 84.8l3 -5.2h-6zM269 84.7l3 -5.2h-6zM269.2 85.1l3 -5.2h-6zM269.4 85.8l3 -5.2h-6zM269.5 84.5l3 -5.2h-6zM269.7 85.6l3 -5.2h-6zM269.9 84.8l3 -5.2h-6zM270.1 84.7l3 -5.2h-6zM270.3 84.8l3 -5.2h-6zM270.4 84.9l3 -5.2h-6zM270.6 85l3 -5.2h-6zM270.8 85.5l3 -5.2h-6zM271 85.2l3 -5.2h-6zM271.1 85.7l3 -5.2h-6zM271.3 85.8l3 -5.2h-6zM271.5 85l3 -5.2h-6zM271.6 85.5l3 -5.2h-6zM271.8 85.1l3 -5.2h-6zM272 84.7l3 -5.2h-6zM272.1 86.1l3 -5.2h-6zM272.3 85.8l3 -5.2h-6zM272.5 85.7l3 -5.2h-6zM272.6 85.2l3 -5.2h-6zM272.8 86l3 -5.2h-6zM273 86.3l3 -5.2h-6zM273.1 84.7l3 -5.2h-6zM273.3 85.9l3 -5.2h-6zM273.4 85.9l3 -5.2h-6zM273.6 85.9l3 -5.2h-6zM273.8 85l3 -5.2h-6zM273.9 85l3 -5.2h-6zM274.1 86.3l3 -5.2h-6zM274.2 85.3l3 -5.2h-6zM274.4 85.4l3 -5.2h-6zM274.5 85.5l3 -5.2h-6zM274.7 85.7l3 -5.2h-6zM274.9 85.7l3 -5.2h-6zM275 85.6l3 -5.2h-6zM275.2 86.1l3 -5.2h-6zM275.3 85.2l3 -5.2h-6zM275.5 85.1l3 -5.2h-6zM275.6 85.8l3 -5.2h-6zM275.8 85.8l3 -5.2h-6zM275.9 85.3l3 -5.2h-6zM276.1 85.6l3 -5.2h-6zM276.2 85.3l3 -5.2h-6zM276.4 86.5l3 -5.2h-6zM276.5 86.3l3 -5.2h-6zM276.6 86.1l3 -5.2h-6zM276.8 85.3l3 -5.2h-6zM276.9 86.1l3 -5.2h-6zM277.1 85.2l3 -5.2h-6zM277.2 86.3l3 -5.2h-6zM277.4 85.2l3 -5.2h-6zM277.5 85.2l3 -5.2h-6zM277.6 86.1l3 -5.2h-6zM277.8 86.6l3 -5.2h-6zM277.9 86.6l3 -5.2h-6zM278.1 85.3l3 -5.2h-6zM278.2 86.2l3 -5.2h-6zM278.3 86l3 -5.2h-6zM278.5 86.2l3 -5.2h-6zM278.6 86.5l3 -5.2h-6zM278.7 85.6l3 -5.2h-6zM278.9 86.4l3 -5.2h-6zM279 86.6l3 -5.2h-6zM279.1 85.4l3 -5.2h-6zM279.3 85.1l3 -5.2h-6zM279.4 85.2l3 -5.2h-6zM279.5 86l3 -5.2h-6zM279.7 85.7l3 -5.2h-6zM279.8 85.5l3 -5.2h-6zM279.9 85.2l3 -5.2h-6zM280.1 86l3 -5.2h-6zM280.2 86.6l3 -5.2h-6zM280.3 86.2l3 -5.2h-6zM280.5 86.7l3 -5.2h-6zM280.6 85.6l3 -5.2h-6zM280.7 85.6l3 -5.2h-6zM280.8 85.5l3 -5.2h-6zM281 85.5l3 -5.2h-6zM281.1 86.1l3 -5.2h-6zM281.2 86.6l3 -5.2h-6zM281.3 86.7l3 -5.2h-6zM281.5 86.5l3 -5.2h-6zM281.6 86.7l3 -5.2h-6zM281.7 86.1l3 -5.2h-6zM281.8 86.4l3 -5.2h-6zM282 86l3 -5.2h-6zM282.1 86.7l3 -5.2h-6zM282.2 85.3l3 -5.2h-6zM282.3 86.1l3 -5.2h-6zM282.5 86.3l3 -5.2h-6zM282.6 86.8l3 -5.2h-6zM282.7 85.5l3 -5.2h-6zM282.8 86.6l3 -5.2h-6zM282.9 85.6l3 -5.2h-6zM283.1 86l3 -5.2h-6zM283.2 86.4l3 -5.2h-6zM283.3 86.2l3 -5.2h-6zM283.4 86.1l3 -5.2h-6zM283.5 86.5l3 -5.2h-6zM283.6 86l3 -5.2h-6zM283.8 85.7l3 -5.2h-6zM283.9 86.3l3 -5.2h-6zM284 85.8l3 -5.2h-6zM284.1 86.9l3 -5.2h-6zM284.2 85.6l3 -5.2h-6zM284.3 86.4l3 -5.2h-6zM284.4 86.1l3 -5.2h-6zM284.6 85.7l3 -5.2h-6zM284.7 86.8l3 -5.2h-6zM284.8 86.2l3 -5.2h-6zM284.9 86l3 -5.2h-6zM285 86l3 -5.2h-6zM285.1 85.9l3 -5.2h-6zM285.2 85.5l3 -5.2h-6zM285.3 86.8l3 -5.2h-6zM285.4 85.5l3 -5.2h-6zM285.6 86.5l3 -5.2h-6zM285.7 86l3 -5.2h-6zM285.8 85.5l3 -5.2h-6zM285.9 86.6l3 -5.2h-6zM286 86.9l3 -5.2h-6zM286.1 86.2l3 -5.2h-6zM286.2 85.9l3 -5.2h-6zM286.3 86.1l3 -5.2h-6zM286.4 86.3l3 -5.2h-6zM286.5 86l3 -5.2h-6zM286.6 86.7l3 -5.2h-6zM286.7 85.8l3 -5.2h-6zM286.8 85.6l3 -5.2h-6zM287 85.7l3 -5.2h-6zM287.1 86.5l3 -5.2h-6zM287.2 86.9l3 -5.2h-6zM287.3 86.9l3 -5.2h-6zM287.4 86.1l3 -5.2h-6zM287.5 87l3 -5.2h-6zM287.6 86.7l3 -5.2h-6zM287.7 86.7l3 -5.2h-6zM287.8 86.4l3 -5.2h-6zM287.9 86l3 -5.2h-6zM288 87.1l3 -5.2h-6zM288.1 86.7l3 -5.2h-6zM288.2 86.1l3 -5.2h-6zM288.3 86.2l3 -5.2h-6zM288.4 87l3 -5.2h-6zM288.5 86.4l3 -5.2h-6zM288.6 86.3l3 -5.2h-6zM288.7 87.2l3 -5.2h-6zM288.8 86.9l3 -5.2h-6zM288.9 86l3 -5.2h-6zM289 87.1l3 -5.2h-6zM289.1 85.8l3 -5.2h-6zM289.2 86.5l3 -5.2h-6zM289.3 87l3 -5.2h-6zM289.4 86.1l3 -5.2h-6zM289.5 87.2l3 -5.2h-6zM289.6 86l3 -5.2h-6zM289.7 87.1l3 -5.2h-6zM289.8 85.9l3 -5.2h-6zM289.9 86.2l3 -5.2h-6zM290 86.1l3 -5.2h-6zM290 86.6l3 -5.2h-6zM290.1 87l3 -5.2h-6zM290.2 86.7l3 -5.2h-6zM290.3 86.5l3 -5.2h-6zM290.4 86.4l3 -5.2h-6zM290.5 86.9l3 -5.2h-6zM290.6 86.7l3 -5.2h-6zM290.7 87.2l3 -5.2h-6zM290.8 86.4l3 -5.2h-6zM290.9 86.7l3 -5.2h-6zM291 87.1l3 -5.2h-6zM291.1 86.8l3 -5.2h-6zM291.2 86.7l3 -5.2h-6zM291.3 86.7l3 -5.2h-6zM291.4 87.1l3 -5.2h-6zM291.4 87l3 -5.2h-6zM291.5 86.5l3 -5.2h-6zM291.6 87l3 -5.2h-6zM291.7 85.9l3 -5.2h-6zM291.8 87l3 -5.2h-6zM291.9 86.8l3 -5.2h-6zM292 85.9l3 -5.2h-6zM292.1 87.3l3 -5.2h-6zM292.2 87l3 -5.2h-6zM292.3 87.2l3 -5.2h-6zM292.3 86.1l3 -5.2h-6zM292.4 86.4l3 -5.2h-6zM292.5 86l3 -5.2h-6zM292.6 86.9l3 -5.2h-6zM292.7 86.2l3 -5.2h-6zM292.8 85.9l3 -5.2h-6zM292.9 86.1l3 -5.2h-6zM293 87.3l3 -5.2h-6zM293 86.3l3 -5.2h-6zM293.1 87l3 -5.2h-6zM293.2 86.5l3 -5.2h-6zM293.3 87.5l3 -5.2h-6zM293.4 86.2l3 -5.2h-6zM293.5 86.9l3 -5.2h-6zM293.6 86.8l3 -5.2h-6zM293.7 86.7l3 -5.2h-6zM293.7 86.3l3 -5.2h-6zM293.8 87.4l3 -5.2h-6zM293.9 86.6l3 -5.2h-6zM294 87.2l3 -5.2h-6zM294.1 86.6l3 -5.2h-6zM294.2 87.1l3 -5.2h-6zM294.2 86.5l3 -5.2h-6zM294.3 86.5l3 -5.2h-6zM294.4 87.2l3 -5.2h-6zM294.5 86.6l3 -5.2h-6zM294.6 87.5l3 -5.2h-6zM294.7 86.8l3 -5.2h-6zM294.7 87.3l3 -5.2h-6zM294.8 87l3 -5.2h-6zM294.9 86.2l3 -5.2h-6zM295 86.1l3 -5.2h-6zM295.1 87.6l3 -5.2h-6zM295.1 86.4l3 -5.2h-6zM295.2 86.1l3 -5.2h-6zM295.3 86.8l3 -5.2h-6zM295.4 87.5l3 -5.2h-6zM295.5 86.4l3 -5.2h-6zM295.6 86.7l3 -5.2h-6zM295.6 87l3 -5.2h-6zM295.7 86.5l3 -5.2h-6zM295.8 87.3l3 -5.2h-6zM295.9 86.1l3 -5.2h-6zM296 86.9l3 -5.2h-6zM296 86.7l3 -5.2h-6zM296.1 87.2l3 -5.2h-6zM296.2 87.5l3 -5.2h-6zM296.3 86.8l3 -5.2h-6zM296.3 87.4l3 -5.2h-6zM296.4 87.1l3 -5.2h-6zM296.5 86.5l3 -5.2h-6zM296.6 86.1l3 -5.2h-6zM296.7 87.1l3 -5.2h-6zM296.7 86.3l3 -5.2h-6zM296.8 86.3l3 -5.2h-6zM296.9 86.5l3 -5.2h-6zM297 87l3 -5.2h-6zM297 86.9l3 -5.2h-6zM297.1 87.2l3 -5.2h-6zM297.2 87.4l3 -5.2h-6zM297.3 86.8l3 -5.2h-6zM297.3 86.4l3 -5.2h-6zM297.4 87.4l3 -5.2h-6zM297.5 86.3l3 -5.2h-6zM297.6 87.4l3 -5.2h-6zM297.6 87.4l3 -5.2h-6zM297.7 87.7l3 -5.2h-6zM297.8 86.9l3 -5.2h-6zM297.9 87.6l3 -5.2h-6zM297.9 87.5l3 -5.2h-6zM298 87.1l3 -5.2h-6zM298.1 86.3l3 -5.2h-6zM298.2 86.2l3 -5.2h-6zM298.2 87.1l3 -5.2h-6zM298.3 87.5l3 -5.2h-6zM298.4 86.6l3 -5.2h-6zM298.5 87.6l3 -5.2h-6zM298.5 87.2l3 -5.2h-6zM298.6 86.3l3 -5.2h-6zM298.7 87.4l3 -5.2h-6zM298.8 87.1l3 -5.2h-6zM298.8 87.1l3 -5.2h-6zM298.9 87.3l3 -5.2h-6zM299 86.4l3 -5.2h-6zM299 86.7l3 -5.2h-6zM299.1 86.7l3 -5.2h-6zM299.2 86.5l3 -5.2h-6zM299.3 87.4l3 -5.2h-6zM299.3 87.1l3 -5.2h-6zM299.4 86.8l3 -5.2h-6zM299.5 86.9l3 -5.2h-6zM299.5 87.5l3 -5.2h-6zM299.6 86.5l3 -5.2h-6zM299.7 86.3l3 -5.2h-6zM299.8 86.7l3 -5.2h-6zM299.8 87.7l3 -5.2h-6zM299.9 87.4l3 -5.2h-6zM300 86.6l3 -5.2h-6zM300 87.6l3 -5.2h-6zM300.1 87.1l3 -5.2h-6zM300.2 86.8l3 -5.2h-6zM300.2 86.3l3 -5.2h-6zM300.3 87.2l3 -5.2h-6zM300.4 87.8l3 -5.2h-6zM300.5 87.4l3 -5.2h-6zM300.5 87.1l3 -5.2h-6zM300.6 87.8l3 -5.2h-6zM300.7 86.3l3 -5.2h-6zM300.7 87.9l3 -5.2h-6zM300.8 86.5l3 -5.2h-6zM300.9 87.1l3 -5.2h-6zM300.9 86.3l3 -5.2h-6zM301 87.6l3 -5.2h-6zM301.1 87.6l3 -5.2h-6zM301.1 87.3l3 -5.2h-6zM301.2 86.5l3 -5.2h-6zM301.3 87l3 -5.2h-6zM301.3 86.7l3 -5.2h-6zM301.4 86.7l3 -5.2h-6zM301.5 86.4l3 -5.2h-6zM301.5 86.7l3 -5.2h-6zM301.6 87.6l3 -5.2h-6zM301.7 86.5l3 -5.2h-6zM301.7 87.2l3 -5.2h-6zM301.8 87l3 -5.2h-6zM301.9 87.4l3 -5.2h-6zM301.9 87.5l3 -5.2h-6zM302 87.3l3 -5.2h-6zM302.1 87.2l3 -5.2h-6zM302.1 87.8l3 -5.2h-6zM302.2 86.7l3 -5.2h-6zM302.3 86.5l3 -5.2h-6zM302.3 87.6l3 -5.2h-6zM302.4 86.9l3 -5.2h-6zM302.5 86.9l3 -5.2h-6zM302.5 87.3l3 -5.2h-6zM302.6 86.9l3 -5.2h-6zM302.6 87.5l3 -5.2h-6zM302.7 86.7l3 -5.2h-6zM302.8 86.9l3 -5.2h-6zM302.8 88l3 -5.2h-6zM302.9 87.5l3 -5.2h-6zM303 87.8l3 -5.2h-6zM303 87.9l3 -5.2h-6zM303.1 88l3 -5.2h-6zM303.2 86.6l3 -5.2h-6zM303.2 87.3l3 -5.2h-6zM303.3 86.8l3 -5.2h-6zM303.3 87.5l3 -5.2h-6zM303.4 86.6l3 -5.2h-6zM303.5 87l3 -5.2h-6zM303.5 87.8l3 -5.2h-6zM303.6 87.8l3 -5.2h-6zM303.7 87.2l3 -5.2h-6zM303.7 86.8l3 -5.2h-6zM303.8 86.8l3 -5.2h-6zM303.8 87.8l3 -5.2h-6zM303.9 86.8l3 -5.2h-6zM304 87.1l3 -5.2h-6zM304 87.3l3 -5.2h-6zM304.1 86.9l3 -5.2h-6zM304.2 86.8l3 -5.2h-6zM304.2 86.7l3 -5.2h-6zM304.3 87.9l3 -5.2h-6zM304.3 87.6l3 -5.2h-6zM304.4 86.7l3 -5.2h-6zM304.5 87.9l3 -5.2h-6zM304.5 87.8l3 -5.2h-6zM304.6 87.6l3 -5.2h-6zM304.6 87.5l3 -5.2h-6zM304.7 87.6l3 -5.2h-6zM304.8 87.2l3 -5.2h-6zM304.8 86.7l3 -5.2h-6zM304.9 86.7l3 -5.2h-6zM304.9 87.3l3 -5.2h-6zM305 87.6l3 -5.2h-6zM305.1 87.9l3 -5.2h-6zM305.1 87.7l3 -5.2h-6zM305.2 87l3 -5.2h-6zM305.2 87.1l3 -5.2h-6zM305.3 86.8l3 -5.2h-6zM305.4 87.3l3 -5.2h-6zM305.4 87.7l3 -5.2h-6zM305.5 87.9l3 -5.2h-6zM305.5 87.5l3 -5.2h-6zM305.6 86.6l3 -5.2h-6zM305.7 86.9l3 -5.2h-6zM305.7 87.7l3 -5.2h-6zM305.8 86.7l3 -5.2h-6zM305.8 86.8l3 -5.2h-6zM305.9 86.7l3 -5.2h-6zM305.9 87.7l3 -5.2h-6zM306 87.3l3 -5.2h-6zM306.1 87.6l3 -5.2h-6zM306.1 86.8l3 -5.2h-6zM306.2 86.9l3 -5.2h-6zM306.2 86.8l3 -5.2h-6zM306.3 87.4l3 -5.2h-6zM306.3 86.9l3 -5.2h-6zM306.4 88.2l3 -5.2h-6zM306.5 87.3l3 -5.2h-6zM306.5 88.1l3 -5.2h-6zM306.6 87.2l3 -5.2h-6zM306.6 87l3 -5.2h-6zM306.7 87.7l3 -5.2h-6zM306.7 88l3 -5.2h-6zM306.8 86.7l3 -5.2h-6zM306.9 87l3 -5.2h-6zM306.9 86.8l3 -5.2h-6zM307 87.1l3 -5.2h-6zM307 87.6l3 -5.2h-6zM307.1 87.7l3 -5.2h-6zM307.1 86.7l3 -5.2h-6zM307.2 87.9l3 -5.2h-6zM307.3 87.4l3 -5.2h-6zM307.3 87l3 -5.2h-6zM307.4 87.9l3 -5.2h-6zM307.4 87l3 -5.2h-6zM307.5 87.6l3 -5.2h-6zM307.5 87.4l3 -5.2h-6zM307.6 87.1l3 -5.2h-6zM307.6 87.8l3 -5.2h-6zM307.7 88.2l3 -5.2h-6zM307.8 87.7l3 -5.2h-6zM307.8 87.7l3 -5.2h-6zM307.9 87l3 -5.2h-6zM307.9 87.7l3 -5.2h-6zM308 87.4l3 -5.2h-6zM308 88.1l3 -5.2h-6zM308.1 87.6l3 -5.2h-6zM308.1 87.7l3 -5.2h-6zM308.2 88.2l3 -5.2h-6zM308.2 87.3l3 -5.2h-6zM308.3 88l3 -5.2h-6zM308.3 87.3l3 -5.2h-6zM308.4 87l3 -5.2h-6zM308.5 87.6l3 -5.2h-6zM308.5 87.4l3 -5.2h-6zM308.6 86.9l3 -5.2h-6zM308.6 87.8l3 -5.2h-6zM308.7 88.3l3 -5.2h-6zM308.7 86.8l3 -5.2h-6zM308.8 88.2l3 -5.2h-6zM308.8 87l3 -5.2h-6zM308.9 86.8l3 -5.2h-6zM308.9 88.3l3 -5.2h-6zM309 88l3 -5.2h-6zM309 87l3 -5.2h-6zM309.1 87l3 -5.2h-6zM309.1 88l3 -5.2h-6zM309.2 87.9l3 -5.2h-6zM309.3 87.4l3 -5.2h-6zM309.3 87.5l3 -5.2h-6zM309.4 87.9l3 -5.2h-6zM309.4 87.2l3 -5.2h-6zM309.5 87.5l3 -5.2h-6zM309.5 88.1l3 -5.2h-6zM309.6 88.1l3 -5.2h-6zM309.6 87.8l3 -5.2h-6zM309.7 88l3 -5.2h-6zM309.7 87.7l3 -5.2h-6zM309.8 87.7l3 -5.2h-6zM309.8 87l3 -5.2h-6zM309.9 87l3 -5.2h-6zM309.9 87.8l3 -5.2h-6zM310 87.2l3 -5.2h-6zM310 88.2l3 -5.2h-6zM310.1 86.9l3 -5.2h-6zM310.1 87.8l3 -5.2h-6zM310.2 87.3l3 -5.2h-6zM310.2 88.2l3 -5.2h-6zM310.3 88.4l3 -5.2h-6zM310.3 87.4l3 -5.2h-6zM310.4 87.1l3 -5.2h-6zM310.4 87.5l3 -5.2h-6zM310.5 87.5l3 -5.2h-6zM310.5 88.3l3 -5.2h-6zM310.6 87.5l3 -5.2h-6zM310.6 88.3l3 -5.2h-6zM310.7 87.1l3 -5.2h-6zM310.7 87.7l3 -5.2h-6zM310.8 87.2l3 -5.2h-6zM310.8 87.9l3 -5.2h-6zM310.9 88.5l3 -5.2h-6zM310.9 88.2l3 -5.2h-6zM311 88l3 -5.2h-6zM311 87.4l3 -5.2h-6zM311.1 87.3l3 -5.2h-6zM311.1 87.1l3 -5.2h-6zM311.2 87.5l3 -5.2h-6zM311.2 88.4l3 -5.2h-6zM311.3 87.5l3 -5.2h-6zM311.3 88l3 -5.2h-6zM311.4 87.3l3 -5.2h-6zM311.4 87.7l3 -5.2h-6zM311.5 88.1l3 -5.2h-6zM311.5 87.3l3 -5.2h-6zM311.6 88.2l3 -5.2h-6zM311.6 87.3l3 -5.2h-6zM311.7 87.4l3 -5.2h-6zM311.7 88.3l3 -5.2h-6zM311.8 87.6l3 -5.2h-6zM311.8 87.5l3 -5.2h-6zM311.9 87.9l3 -5.2h-6zM311.9 87.4l3 -5.2h-6zM312 87.4l3 -5.2h-6zM312 87.3l3 -5.2h-6zM312.1 87.7l3 -5.2h-6zM312.1 87.8l3 -5.2h-6zM312.2 87.1l3 -5.2h-6zM312.2 87.8l3 -5.2h-6zM312.2 87.5l3 -5.2h-6zM312.3 87.4l3 -5.2h-6zM312.3 87.5l3 -5.2h-6zM312.4 88l3 -5.2h-6zM312.4 87.6l3 -5.2h-6zM312.5 87.7l3 -5.2h-6zM312.5 87.9l3 -5.2h-6zM312.6 87.2l3 -5.2h-6zM312.6 87.7l3 -5.2h-6zM312.7 88l3 -5.2h-6zM312.7 88.3l3 -5.2h-6zM312.8 88.1l3 -5.2h-6zM312.8 87.1l3 -5.2h-6zM312.9 88.4l3 -5.2h-6zM312.9 88.2l3 -5.2h-6zM313 88.1l3 -5.2h-6zM313 88.3l3 -5.2h-6zM313 87.8l3 -5.2h-6zM313.1 87.6l3 -5.2h-6zM313.1 87.8l3 -5.2h-6zM313.2 88l3 -5.2h-6zM313.2 87.4l3 -5.2h-6zM313.3 88.4l3 -5.2h-6zM313.3 87.2l3 -5.2h-6zM313.4 87.3l3 -5.2h-6zM313.4 87l3 -5.2h-6zM313.5 88.3l3 -5.2h-6zM313.5 87.1l3 -5.2h-6zM313.6 88.4l3 -5.2h-6zM313.6 87.5l3 -5.2h-6zM313.6 87.6l3 -5.2h-6zM313.7 87.7l3 -5.2h-6zM313.7 87.7l3 -5.2h-6zM313.8 88.1l3 -5.2h-6zM313.8 87.6l3 -5.2h-6zM313.9 87.3l3 -5.2h-6zM313.9 87.1l3 -5.2h-6zM314 88.3l3 -5.2h-6zM314 87.1l3 -5.2h-6zM314.1 87.9l3 -5.2h-6zM314.1 88.1l3 -5.2h-6zM314.1 88.5l3 -5.2h-6zM314.2 88.6l3 -5.2h-6zM314.2 87.5l3 -5.2h-6zM314.3 87.1l3 -5.2h-6zM314.3 87.2l3 -5.2h-6zM314.4 88.4l3 -5.2h-6zM314.4 87.2l3 -5.2h-6zM314.5 87.8l3 -5.2h-6zM314.5 87.9l3 -5.2h-6zM314.5 88.5l3 -5.2h-6zM314.6 88.1l3 -5.2h-6zM314.6 87.4l3 -5.2h-6zM314.7 87.3l3 -5.2h-6zM314.7 87.8l3 -5.2h-6zM314.8 87.4l3 -5.2h-6zM314.8 88.3l3 -5.2h-6zM314.9 87.6l3 -5.2h-6zM314.9 88l3 -5.2h-6zM314.9 87.6l3 -5.2h-6zM315 87.1l3 -5.2h-6zM315 87.3l3 -5.2h-6zM315.1 88.7l3 -5.2h-6zM315.1 88l3 -5.2h-6zM315.2 88l3 -5.2h-6zM315.2 88.6l3 -5.2h-6zM315.2 88.6l3 -5.2h-6zM315.3 88.4l3 -5.2h-6zM315.3 88.6l3 -5.2h-6zM315.4 87.3l3 -5.2h-6zM315.4 88.4l3 -5.2h-6zM315.5 87.7l3 -5.2h-6zM315.5 87.8l3 -5.2h-6zM315.6 87.8l3 -5.2h-6zM315.6 87.3l3 -5.2h-6zM315.6 88.4l3 -5.2h-6zM315.7 87.5l3 -5.2h-6zM315.7 88.6l3 -5.2h-6zM315.8 88.3l3 -5.2h-6zM315.8 87.2l3 -5.2h-6zM315.8 87.5l3 -5.2h-6zM315.9 88.7l3 -5.2h-6zM315.9 87.4l3 -5.2h-6zM316 87.4l3 -5.2h-6zM316 87.4l3 -5.2h-6zM316.1 88.5l3 -5.2h-6zM316.1 88.5l3 -5.2h-6zM316.1 88.5l3 -5.2h-6zM316.2 87.6l3 -5.2h-6zM316.2 87.4l3 -5.2h-6zM316.3 88.5l3 -5.2h-6zM316.3 87.3l3 -5.2h-6zM316.4 87.2l3 -5.2h-6zM316.4 87.4l3 -5.2h-6zM316.4 88.6l3 -5.2h-6zM316.5 88.6l3 -5.2h-6zM316.5 88.8l3 -5.2h-6zM316.6 88.4l3 -5.2h-6zM316.6 88.7l3 -5.2h-6zM316.6 88.6l3 -5.2h-6zM316.7 87.5l3 -5.2h-6zM316.7 88.8l3 -5.2h-6zM316.8 87.8l3 -5.2h-6zM316.8 87.8l3 -5.2h-6zM316.9 87.7l3 -5.2h-6zM316.9 87.8l3 -5.2h-6zM316.9 87.3l3 -5.2h-6zM317 87.3l3 -5.2h-6zM317 88.2l3 -5.2h-6zM317.1 88.4l3 -5.2h-6zM317.1 88.8l3 -5.2h-6zM317.1 87.3l3 -5.2h-6zM317.2 87.7l3 -5.2h-6zM317.2 88.8l3 -5.2h-6zM317.3 87.6l3 -5.2h-6zM317.3 88l3 -5.2h-6zM317.3 88.3l3 -5.2h-6zM317.4 87.4l3 -5.2h-6zM317.4 87.5l3 -5.2h-6zM317.5 88.4l3 -5.2h-6zM317.5 87.8l3 -5.2h-6zM317.6 88.7l3 -5.2h-6zM317.6 88.2l3 -5.2h-6zM317.6 88.5l3 -5.2h-6zM317.7 88.7l3 -5.2h-6zM317.7 88.1l3 -5.2h-6zM317.8 87.3l3 -5.2h-6zM317.8 88.3l3 -5.2h-6zM317.8 87.9l3 -5.2h-6zM317.9 87.5l3 -5.2h-6zM317.9 88.5l3 -5.2h-6zM318 87.9l3 -5.2h-6zM318 87.4l3 -5.2h-6zM318 88.4l3 -5.2h-6zM318.1 87.7l3 -5.2h-6zM318.1 87.6l3 -5.2h-6zM318.2 87.3l3 -5.2h-6zM318.2 87.4l3 -5.2h-6zM318.2 88.7l3 -5.2h-6zM318.3 88.1l3 -5.2h-6zM318.3 88l3 -5.2h-6zM318.3 87.8l3 -5.2h-6zM318.4 88.6l3 -5.2h-6zM318.4 88.3l3 -5.2h-6zM318.5 88.1l3 -5.2h-6zM318.5 87.9l3 -5.2h-6zM318.5 87.9l3 -5.2h-6zM318.6 87.8l3 -5.2h-6zM318.6 88.4l3 -5.2h-6zM318.7 87.5l3 -5.2h-6zM318.7 87.4l3 -5.2h-6zM318.7 88.3l3 -5.2h-6zM318.8 88.2l3 -5.2h-6zM318.8 88.8l3 -5.2h-6zM318.9 87.4l3 -5.2h-6zM318.9 87.7l3 -5.2h-6zM318.9 87.6l3 -5.2h-6zM319 88.1l3 -5.2h-6zM319 88.2l3 -5.2h-6z"/>
<path fill="#f0f" d="M74.2 12.5l2.7 2.9l-2.7 2.9l-2.7 -2.9zM114.4 12.8l2.7 2.9l-2.7 2.9l-2.7 -2.9zM131.6 12.7l2.7 2.9l-2.7 2.9l-2.7 -2.9zM142.8 12.3l2.7 2.9l-2.7 2.9l-2.7 -2.9zM151.1 12.3l2.7 2.9l-2.7 2.9l-2.7 -2.9zM157.6 12.4l2.7 2.9l-2.7 2.9l-2.7 -2.9zM163.1 12.7l2.7 2.9l-2.7 2.9l-2.7 -2.9zM167.7 12.6l2.7 2.9l-2.7 2.9l-2.7 -2.9zM171.8 12.9l2.7 2.9l-2.7 2.9l-2.7 -2.9zM175.4 12.4l2.7 2.9l-2.7 2.9l-2.7 -2.9zM178.6 12.6l2.7 2.9l-2.7 2.9l-2.7 -2.9zM181.6 13.2l2.7 2.9l-2.7 2.9l-2.7 -2.9zM184.3 12.5l2.7 2.9l-2.7 2.9l-2.7 -2.9zM186.7 12.8l2.7 2.9l-2.7 2.9l-2.7 -2.9zM189.1 13.2l2.7 2.9l-2.7 2.9l-2.7 -2.9zM191.2 13l2.7 2.9l-2.7 2.9l-2.7 -2.9zM193.2 13.1l2.7 2.9l-2.7 2.9l-2.7 -2.9zM195.1 13.5l2.7 2.9l-2.7 2.9l-2.7 -2.9zM196.9 12.6l2.7 2.9l-2.7 2.9l-2.7 -2.9zM198.6 13.5l2.7 2.9l-2.7 2.9l-2.7 -2.9zM200.2 12.8l2.7 2.9l-2.7 2.9l-2.7 -2.9zM201.8 13.2l2.7 2.9l-2.7 2.9l-2.7 -2.9zM203.2 13.5l2.7 2.9l-2.7 2.9l-2.7 -2.9zM204.6 12.8l2.7 2.9l-2.7 2.9l-2.7 -2.9zM206 13.3l2.7 2.9l-2.7 2.9l-2.7 -2.9zM207.2 13.2l2.7 2.9l-2.7 2.9l-2.7 -2.9zM208.5 13.2l2.7 2.9l-2.7 2.9l-2.7 -2.9zM209.7 13.1l2.7 2.9l-2.7 2.9l-2.7 -2.9zM210.8 13.6l2.7 2.9l-2.7 2.9l-2.7 -2.9zM211.9 13l2.7 2.9l-2.7 2.9l-2.7 -2.9zM213 13l2.7 2.9l-2.7 2.9l-2.7 -2.9zM214 13.6l2.7 2.9l-2.7 2.9l-2.7 -2.9zM215 13.2l2.7 2.9l-2.7 2.9l-2.7 -2.9zM216 13l2.7 2.9l-2.7 2.9l-2.7 -2.9zM217 13l2.7 2.9l-2.7 2.9l-2.7 -2.9zM217.9 13.1l2.7 2.9l-2.7 2.9l-2.7 -2.9zM218.8 13.2l2.7 2.9l-2.7 2.9l-2.7 -2.9zM219.6 12.9l2.7 2.9l-2.7 2.9l-2.7 -2.9zM220.5 13.2l2.7 2.9l-2.7 2.9l-2.7 -2.9zM221.3 13.4l2.7 2.9l-2.7 2.9l-2.7 -2.9zM222.1 13.4l2.7 2.9l-2.7 2.9l-2.7 -2.9zM222.9 13.9l2.7 2.9l-2.7 2.9l-2.7 -2.9zM223.7 13.8l2.7 2.9l-2.7 2.9l-2.7 -2.9zM224.4 13.9l2.7 2.9l-2.7 2.9l-2.7 -2.9zM225.1 13.2l2.7 2.9l-2.7 2.9l-2.7 -2.9zM225.9 13.5l2.7 2.9l-2.7 2.9l-2.7 -2.9zM226.6 13.3l2.7 2.9l-2.7 2.9l-2.7 -2.9zM227.2 13.8l2.7 2.9l-2.7 2.9l-2.7 -2.9zM227.9 13.2l2.7 2.9l-2.7 2.9l-2.7 -2.9zM228.6 13.2l2.7 2.9l-2.7 2.9l-2.7 -2.9zM229.2 13.9l2.7 2.9l-2.7 2.9l-2.7 -2.9zM229.8 13.7l2.7 2.9l-2.7 2.9l-2.7 -2.9zM230.5 13.5l2.7 2.9l-2.7 2.9l-2.7 -2.9zM231.1 13.5l2.7 2.9l-2.7 2.9l-2.7 -2.9zM231.7 14l2.7 2.9l-2.7 2.9l-2.7 -2.9zM232.2 14.1l2.7 2.9l-2.7 2.9l-2.7 -2.9zM232.8 13.7l2.7 2.9l-2.7 2.9l-2.7 -2.9zM233.4 13.2l2.7 2.9l-2.7 2.9l-2.7 -2.9zM233.9 13.6l2.7 2.9l-2.7 2.9l-2.7 -2.9zM234.5 13.9l2.7 2.9l-2.7 2.9l-2.7 -2.9zM235 13.8l2.7 2.9l-2.7 2.9l-2.7 -2.9zM235.5 14.1l2.7 2.9l-2.7 2.9l-2.7 -2.9zM236.1 13.8l2.7 2.9l-2.7 2.9l-2.7 -2.9zM236.6 13.5l2.7 2.9l-2.7 2.9l-2.7 -2.9zM237.1 13.9l2.7 2.9l-2.7 2.9l-2.7 -2.9zM237.6 13.6l2.7 2.9l-2.7 2.9l-2.7 -2.9zM238 14.2l2.7 2.9l-2.7 2.9l-2.7 -2.9zM238.5 13.6l2.7 2.9l-2.7 2.9l-2.7 -2.9zM239 14.2l2.7 2.9l-2.7 2.9l-2.7 -2.9zM239.5 13.9l2.7 2.9l-2.7 2.9l-2.7 -2.9zM239.9 14.2l2.7 2.9l-2.7 2.9l-2.7 -2.9zM240.4 14l2.7 2.9l-2.7 2.9l-2.7 -2.9zM240.8 13.7l2.7 2.9l-2.7 2.9l-2.7 -2.9zM241.3 14.3l2.7 2.9l-2.7 2.9l-2.7 -2.9zM241.7 13.7l2.7 2.9l-2.7 2.9l-2.7 -2.9zM242.1 13.7l2.7 2.9l-2.7 2.9l-2.7 -2.9zM242.5 14l2.7 2.9l-2.7 2.9l-2.7 -2.9zM243 13.6l2.7 2.9l-2.7 2.9l-2.7 -2.9zM243.4 13.9l2.7 2.9l-2.7 2.9l-2.7 -2.9zM243.8 13.7l2.7 2.9l-2.7 2.9l-2.7 -2.9zM244.2 13.6l2.7 2.9l-2.7 2.9l-2.7 -2.9zM244.6 14.4l2.7 2.9l-2.7 2.9l-2.7 -2.9zM245 14.2l2.7 2.9l-2.7 2.9l-2.7 -2.9zM245.4 13.9l2.7 2.9l-2.7 2.9l-2.7 -2.9zM245.7 14l2.7 2.9l-2.7 2.9l-2.7 -2.9zM246.1 14.1l2.7 2.9l-2.7 2.9l-2.7 -2.9zM246.5 14l2.7 2.9l-2.7 2.9l-2.7 -2.9zM246.9 13.8l2.7 2.9l-2.7 2.9l-2.7 -2.9zM247.2 13.8l2.7 2.9l-2.7 2.9l-2.7 -2.9zM247.6 14.6l2.7 2.9l-2.7 2.9l-2.7 -2.9zM247.9 14.6l2.7 2.9l-2.7 2.9l-2.7 -2.9zM248.3 13.7l2.7 2.9l-2.7 2.9l-2.7 -2.9zM248.6 14.6l2.7 2.9l-2.7 2.9l-2.7 -2.9zM249 14.2l2.7 2.9l-2.7 2.9l-2.7 -2.9zM249.3 14.5l2.7 2.9l-2.7 2.9l-2.7 -2.9zM249.7 14l2.7 2.9l-2.7 2.9l-2.7 -2.9zM250 14.6l2.7 2.9l-2.7 2.9l-2.7 -2.9zM250.3 14l2.7 2.9l-2.7 2.9l-2.7 -2.9zM250.7 14.5l2.7 2.9l-2.7 2.9l-2.7 -2.9zM251 14.5l2.7 2.9l-2.7 2.9l-2.7 -2.9zM251.3 14.8l2.7 2.9l-2.7 2.9l-2.7 -2.9zM251.6 14.2l2.7 2.9l-2.7 2.9l-2.7 -2.9zM251.9 14.1l2.7 2.9l-2.7 2.9l-2.7 -2.9zM252.2 14.7l2.7 2.9l-2.7 2.9l-2.7 -2.9zM252.5 14.5l2.7 2.9l-2.7 2.9l-2.7 -2.9zM252.9 14.1l2.7 2.9l-2.7 2.9l-2.7 -2.9zM253.2 14.3l2.7 2.9l-2.7 2.9l-2.7 -2.9zM253.5 14.2l2.7 2.9l-2.7 2.9l-2.7 -2.9zM253.8 14.2l2.7 2.9l-2.7 2.9l-2.7 -2.9zM254 14l2.7 2.9l-2.7 2.9l-2.7 -2.9zM254.3 14.2l2.7 2.9l-2.7 2.9l-2.7 -2.9zM254.6 14.9l2.7 2.9l-2.7 2.9l-2.7 -2.9zM254.9 14.7l2.7 2.9l-2.7 2.9l-2.7 -2.9zM255.2 14.9l2.7 2.9l-2.7 2.9l-2.7 -2.9zM255.5 14.9l2.7 2.9l-2.7 2.9l-2.7 -2.9zM255.8 14.9l2.7 2.9l-2.7 2.9l-2.7 -2.9zM256 14.1l2.7 2.9l-2.7 2.9l-2.7 -2.9zM256.3 14.4l2.7 2.9l-2.7 2.9l-2.7 -2.9zM256.6 14.6l2.7 2.9l-2.7 2.9l-2.7 -2.9zM256.9 14.3l2.7 2.9l-2.7 2.9l-2.7 -2.9zM257.1 14.6l2.7 2.9l-2.7 2.9l-2.7 -2.9zM257.4 14.1l2.7 2.9l-2.7 2.9l-2.7 -2.9zM257.6 14.1l2.7 2.9l-2.7 2.9l-2.7 -2.9zM257.9 14.2l2.7 2.9l-2.7 2.9l-2.7 -2.9zM258.2 15l2.7 2.9l-2.7 2.9l-2.7 -2.9zM258.4 14.2l2.7 2.9l-2.7 2.9l-2.7 -2.9zM258.7 14.4l2.7 2.9l-2.7 2.9l-2.7 -2.9zM258.9 15l2.7 2.9l-2.7 2.9l-2.7 -2.9zM259.2 14.7l2.7 2.9l-2.7 2.9l-2.7 -2.9zM259.4 14.4l2.7 2.9l-2.7 2.9l-2.7 -2.9zM259.7 14.2l2.7 2.9l-2.7 2.9l-2.7 -2.9zM259.9 14.2l2.7 2.9l-2.7 2.9l-2.7 -2.9zM260.2 14.4l2.7 2.9l-2.7 2.9l-2.7 -2.9zM260.4 14.8l2.7 2.9l-2.7 2.9l-2.7 -2.9zM260.6 14.3l2.7 2.9l-2.7 2.9l-2.7 -2.9zM260.9 14.8l2.7 2.9l-2.7 2.9l-2.7 -2.9zM261.1 15.1l2.7 2.9l-2.7 2.9l-2.7 -2.9zM261.4 14.8l2.7 2.9l-2.7 2.9l-2.7 -2.9zM261.6 14.4l2.7 2.9l-2.7 2.9l-2.7 -2.9zM261.8 15.1l2.7 2.9l-2.7 2.9l-2.7 -2.9zM262 14.3l2.7 2.9l-2.7 2.9l-2.7 -2.9zM262.3 14.7l2.7 2.9l-2.7 2.9l-2.7 -2.9zM262.5 14.3l2.7 2.9l-2.7 2.9l-2.7 -2.9zM262.7 14.6l2.7 2.9l-2.7 2.9l-2.7 -2.9zM262.9 15.1l2.7 2.9l-2.7 2.9l-2.7 -2.9zM263.2 14.9l2.7 2.9l-2.7 2.9l-2.7 -2.9zM263.4 14.5l2.7 2.9l-2.7 2.9l-2.7 -2.9zM263.6 14.9l2.7 2.9l-2.7 2.9l-2.7 -2.9zM263.8 15.3l2.7 2.9l-2.7 2.9l-2.7 -2.9zM264 15.2l2.7 2.9l-2.7 2.9l-2.7 -2.9zM264.2 14.8l2.7 2.9l-2.7 2.9l-2.7 -2.9zM264.5 14.9l2.7 2.9l-2.7 2.9l-2.7 -2.9zM264.7 15.1l2.7 2.9l-2.7 2.9l-2.7 -2.9zM264.9 14.6l2.7 2.9l-2.7 2.9l-2.7 -2.9zM265.1 14.9l2.7 2.9l-2.7 2.9l-2.7 -2.9zM265.3 14.9l2.7 2.9l-2.7 2.9l-2.7 -2.9zM265.5 14.8l2.7 2.9l-2.7 2.9l-2.7 -2.9zM265.7 14.7l2.7 2.9l-2.7 2.9l-2.7 -2.9zM265.9 15.2l2.7 2.9l-2.7 2.9l-2.7 -2.9zM266.1 15.2l2.7 2.9l-2.7 2.9l-2.7 -2.9zM266.3 14.7l2.7 2.9l-2.7 2.9l-2.7 -2.9zM266.5 14.8l2.7 2.9l-2.7 2.9l-2.7 -2.9zM266.7 15.5l2.7 2.9l-2.7 2.9l-2.7 -2.9zM266.9 15.2l2.7 2.9l-2.7 2.9l-2.7 -2.9zM267.1 15l2.7 2.9l-2.7 2.9l-2.7 -2.9zM267.3 15l2.7 2.9l-2.7 2.9l-2.7 -2.9zM267.5 15.3l2.7 2.9l-2.7 2.9l-2.7 -2.9zM267.7 15l2.7 2.9l-2.7 2.9l-2.7 -2.9zM267.9 15l2.7 2.9l-2.7 2.9l-2.7 -2.9zM268.1 15.6l2.7 2.9l-2.7 2.9l-2.7 -2.9zM268.3 15.2l2.7 2.9l-2.7 2.9l-2.7 -2.9zM268.4 15.6l2.7 2.9l-2.7 2.9l-2.7 -2.9zM268.6 14.7l2.7 2.9l-2.7 2.9l-2.7 -2.9zM268.8 14.9l2.7 2.9l-2.7 2.9l-2.7 -2.9zM269 14.9l2.7 2.9l-2.7 2.9l-2.7 -2.9zM269.2 15.6l2.7 2.9l-2.7 2.9l-2.7 -2.9zM269.4 14.8l2.7 2.9l-2.7 2.9l-2.7 -2.9zM269.5 14.9l2.7 2.9l-2.7 2.9l-2.7 -2.9zM269.7 15.3l2.7 2.9l-2.7 2.9l-2.7 -2.9zM269.9 15.5l2.7 2.9l-2.7 2.9l-2.7 -2.9zM270.1 15l2.7 2.9l-2.7 2.9l-2.7 -2.9zM270.3 15.5l2.7 2.9l-2.7 2.9l-2.7 -2.9zM270.4 15.6l2.7 2.9l-2.7 2.9l-2.7 -2.9zM270.6 15l2.7 2.9l-2.7 2.9l-2.7 -2.9zM270.8 15.2l2.7 2.9l-2.7 2.9l-2.7 -2.9zM271 15.6l2.7 2.9l-2.7 2.9l-2.7 -2.9zM271.1 15.4l2.7 2.9l-2.7 2.9l-2.7 -2.9zM271.3 14.8l2.7 2.9l-2.7 2.9l-2.7 -2.9zM271.5 15.6l2.7 2.9l-2.7 2.9l-2.7 -2.9zM271.6 15.2l2.7 2.9l-2.7 2.9l-2.7 -2.9zM271.8 15.1l2.7 2.9l-2.7 2.9l-2.7 -2.9zM272 15.4l2.7 2.9l-2.7 2.9l-2.7 -2.9zM272.1 15.6l2.7 2.9l-2.7 2.9l-2.7 -2.9zM272.3 15.1l2.7 2.9l-2.7 2.9l-2.7 -2.9zM272.5 15.8l2.7 2.9l-2.7 2.9l-2.7 -2.9zM272.6 15.3l2.7 2.9l-2.7 2.9l-2.7 -2.9zM272.8 15l2.7 2.9l-2.7 2.9l-2.7 -2.9zM273 15.8l2.7 2.9l-2.7 2.9l-2.7 -2.9zM273.1 14.9l2.7 2.9l-2.7 2.9l-2.7 -2.9zM273.3 14.9l2.7 2.9l-2.7 2.9l-2.7 -2.9zM273.4 15.8l2.7 2.9l-2.7 2.9l-2.7 -2.9zM273.6 15.9l2.7 2.9l-2.7 2.9l-2.7 -2.9zM273.8 15.7l2.7 2.9l-2.7 2.9l-2.7 -2.9zM273.9 15.6l2.7 2.9l-2.7 2.9l-2.7 -2.9zM274.1 15.7l2.7 2.9l-2.7 2.9l-2.7 -2.9zM274.2 15.8l2.7 2.9l-2.7 2.9l-2.7 -2.9zM274.4 15.9l2.7 2.9l-2.7 2.9l-2.7 -2.9zM274.5 15.3l2.7 2.9l-2.7 2.9l-2.7 -2.9zM274.7 15.9l2.7 2.9l-2.7 2.9l-2.7 -2.9zM274.9 15.1l2.7 2.9l-2.7 2.9l-2.7 -2.9zM275 15.7l2.7 2.9l-2.7 2.9l-2.7 -2.9zM275.2 15.8l2.7 2.9l-2.7 2.9l-2.7 -2.9zM275.3 15.6l2.7 2.9l-2.7 2.9l-2.7 -2.9zM275.5 15.6l2.7 2.9l-2.7 2.9l-2.7 -2.9zM275.6 15.2l2.7 2.9l-2.7 2.9l-2.7 -2.9zM275.8 15.6l2.7 2.9l-2.7 2.9l-2.7 -2.9zM275.9 16.1l2.7 2.9l-2.7 2.9l-2.7 -2.9zM276.1 16l2.7 2.9l-2.7 2.9l-2.7 -2.9zM276.2 16.1l2.7 2.9l-2.7 2.9l-2.7 -2.9zM276.4 15.3l2.7 2.9l-2.7 2.9l-2.7 -2.9zM276.5 16l2.7 2.9l-2.7 2.9l-2.7 -2.9zM276.6 15.3l2.7 2.9l-2.7 2.9l-2.7 -2.9zM276.8 15.5l2.7 2.9l-2.7 2.9l-2.7 -2.9zM276.9 15.2l2.7 2.9l-2.7 2.9l-2.7 -2.9zM277.1 16.1l2.7 2.9l-2.7 2.9l-2.7 -2.9zM277.2 15.5l2.7 2.9l-2.7 2.9l-2.7 -2.9zM277.4 15.7l2.7 2.9l-2.7 2.9l-2.7 -2.9zM277.5 15.5l2.7 2.9l-2.7 2.9l-2.7 -2.9zM277.6 16.1l2.7 2.9l-2.7 2.9l-2.7 -2.9zM277.8 16.2l2.7 2.9l-2.7 2.9l-2.7 -2.9zM277.9 15.5l2.7 2.9l-2.7 2.9l-2.7 -2.9zM278.1 15.8l2.7 2.9l-2.7 2.9l-2.7 -2.9zM278.2 16l2.7 2.9l-2.7 2.9l-2.7 -2.9zM278.3 15.5l2.7 2.9l-2.7 2.9l-2.7 -2.9zM278.5 15.7l2.7 2.9l-2.7 2.9l-2.7 -2.9zM278.6 15.3l2.7 2.9l-2.7 2.9l-2.7 -2.9zM278.7 15.5l2.7 2.9l-2.7 2.9l-2.7 -2.9zM278.9 16l2.7 2.9l-2.7 2.9l-2.7 -2.9zM279 16.2l2.7 2.9l-2.7 2.9l-2.7 -2.9zM279.1 15.5l2.7 2.9l-2.7 2.9l-2.7 -2.9zM279.3 15.5l2.7 2.9l-2.7 2.9l-2.7 -2.9zM279.4 16.1l2.7 2.9l-2.7 2.9l-2.7 -2.9zM279.5 15.5l2.7 2.9l-2.7 2.9l-2.7 -2.9zM279.7 16.3l2.7 2.9l-2.7 2.9l-2.7 -2.9zM279.8 15.7l2.7 2.9l-2.7 2.9l-2.7 -2.9zM279.9 16.2l2.7 2.9l-2.7 2.9l-2.7 -2.9zM280.1 15.8l2.7 2.9l-2.7 2.9l-2.7 -2.9zM280.2 16.2l2.7 2.9l-2.7 2.9l-2.7 -2.9zM280.3 15.7l2.7 2.9l-2.7 2.9l-2.7 -2.9zM280.5 15.9l2.7 2.9l-2.7 2.9l-2.7 -2.9zM280.6 15.9l2.7 2.9l-2.7 2.9l-2.7 -2.9zM280.7 15.9l2.7 2.9l-2.7 2.9l-2.7 -2.9zM280.8 16.1l2.7 2.9l-2.7 2.9l-2.7 -2.9zM281 15.7l2.7 2.9l-2.7 2.9l-2.7 -2.9zM281.1 15.7l2.7 2.9l-2.7 2.9l-2.7 -2.9zM281.2 15.6l2.7 2.9l-2.7 2.9l-2.7 -2.9zM281.3 15.7l2.7 2.9l-2.7 2.9l-2.7 -2.9zM281.5 16.4l2.7 2.9l-2.7 2.9l-2.7 -2.9zM281.6 16.2l2.7 2.9l-2.7 2.9l-2.7 -2.9zM281.7 16.5l2.7 2.9l-2.7 2.9l-2.7 -2.9zM281.8 16l2.7 2.9l-2.7 2.9l-2.7 -2.9zM282 16.4l2.7 2.9l-2.7 2.9l-2.7 -2.9zM282.1 15.6l2.7 2.9l-2.7 2.9l-2.7 -2.9zM282.2 16.5l2.7 2.9l-2.7 2.9l-2.7 -2.9zM282.3 16.6l2.7 2.9l-2.7 2.9l-2.7 -2.9zM282.5 16.5l2.7 2.9l-2.7 2.9l-2.7 -2.9zM282.6 16.5l2.7 2.9l-2.7 2.9l-2.7 -2.9zM282.7 16.4l2.7 2.9l-2.7 2.9l-2.7 -2.9zM282.8 16.3l2.7 2.9l-2.7 2.9l-2.7 -2.9zM282.9 16.1l2.7 2.9l-2.7 2.9l-2.7 -2.9zM283.1 15.7l2.7 2.9l-2.7 2.9l-2.7 -2.9zM283.2 16.2l2.7 2.9l-2.7 2.9l-2.7 -2.9zM283.3 16.6l2.7 2.9l-2.7 2.9l-2.7 -2.9zM283.4 15.8l2.7 2.9l-2.7 2.9l-2.7 -2.9zM283.5 16l2.7 2.9l-2.7 2.9l-2.7 -2.9zM283.6 16l2.7 2.9l-2.7 2.9l-2.7 -2.9zM283.8 16.3l2.7 2.9l-2.7 2.9l-2.7 -2.9zM283.9 16l2.7 2.9l-2.7 2.9l-2.7 -2.9zM284 15.9l2.7 2.9l-2.7 2.9l-2.7 -2.9zM284.1 15.9l2.7 2.9l-2.7 2.9l-2.7 -2.9zM284.2 15.8l2.7 2.9l-2.7 2.9l-2.7 -2.9zM284.3 15.8l2.7 2.9l-2.7 2.9l-2.7 -2.9zM284.4 15.9l2.7 2.9l-2.7 2.9l-2.7 -2.9zM284.6 16.7l2.7 2.9l-2.7 2.9l-2.7 -2.9zM284.7 16l2.7 2.9l-2.7 2.9l-2.7 -2.9zM284.8 15.9l2.7 2.9l-2.7 2.9l-2.7 -2.9zM284.9 16.1l2.7 2.9l-2.7 2.9l-2.7 -2.9zM285 16.4l2.7 2.9l-2.7 2.9l-2.7 -2.9zM285.1 16.5l2.7 2.9l-2.7 2.9l-2.7 -2.9zM285.2 16.1l2.7 2.9l-2.7 2.9l-2.7 -2.9zM285.3 16.1l2.7 2.9l-2.7 2.9l-2.7 -2.9zM285.4 16.5l2.7 2.9l-2.7 2.9l-2.7 -2.9zM285.6 16.2l2.7 2.9l-2.7 2.9l-2.7 -2.9zM285.7 16.5l2.7 2.9l-2.7 2.9l-2.7 -2.9zM285.8 16.5l2.7 2.9l-2.7 2.9l-2.7 -2.9zM285.9 16l2.7 2.9l-2.7 2.9l-2.7 -2.9zM286 16.3l2.7 2.9l-2.7 2.9l-2.7 -2.9zM286.1 16.6l2.7 2.9l-2.7 2.9l-2.7 -2.9zM286.2 16.7l2.7 2.9l-2.7 2.9l-2.7 -2.9zM286.3 16.3l2.7 2.9l-2.7 2.9l-2.7 -2.9zM286.4 16.2l2.7 2.9l-2.7 2.9l-2.7 -2.9zM286.5 16.5l2.7 2.9l-2.7 2.9l-2.7 -2.9zM286.6 16.4l2.7 2.9l-2.7 2.9l-2.7 -2.9zM286.7 16.2l2.7 2.9l-2.7 2.9l-2.7 -2.9zM286.8 16.1l2.7 2.9l-2.7 2.9l-2.7 -2.9zM287 16.5l2.7 2.9l-2.7 2.9l-2.7 -2.9zM287.1 16.6l2.7 2.9l-2.7 2.9l-2.7 -2.9zM287.2 16.8l2.7 2.9l-2.7 2.9l-2.7 -2.9zM287.3 16.8l2.7 2.9l-2.7 2.9l-2.7 -2.9zM287.4 16.6l2.7 2.9l-2.7 2.9l-2.7 -2.9zM287.5 16.7l2.7 2.9l-2.7 2.9l-2.7 -2.9zM287.6 16.1l2.7 2.9l-2.7 2.9l-2.7 -2.9zM287.7 16.2l2.7 2.9l-2.7 2.9l-2.7 -2.9zM287.8 16.7l2.7 2.9l-2.7 2.9l-2.7 -2.9zM287.9 16.2l2.7 2.9l-2.7 2.9l-2.7 -2.9zM288 16.5l2.7 2.9l-2.7 2.9l-2.7 -2.9zM288.1 16.1l2.7 2.9l-2.7 2.9l-2.7 -2.9zM288.2 16.4l2.7 2.9l-2.7 2.9l-2.7 -2.9zM288.3 16.8l2.7 2.9l-2.7 2.9l-2.7 -2.9zM288.4 16.3l2.7 2.9l-2.7 2.9l-2.7 -2.9zM288.5 16.4l2.7 2.9l-2.7 2.9l-2.7 -2.9zM288.6 16.2l2.7 2.9l-2.7 2.9l-2.7 -2.9zM288.7 16.2l2.7 2.9l-2.7 2.9l-2.7 -2.9zM288.8 16.7l2.7 2.9l-2.7 2.9l-2.7 -2.9zM288.9 16.7l2.7 2.9l-2.7 2.9l-2.7 -2.9zM289 16.7l2.7 2.9l-2.7 2.9l-2.7 -2.9zM289.1 17l2.7 2.9l-2.7 2.9l-2.7 -2.9zM289.2 16.3l2.7 2.9l-2.7 2.9l-2.7 -2.9zM289.3 16.6l2.7 2.9l-2.7 2.9l-2.7 -2.9zM289.4 16.7l2.7 2.9l-2.7 2.9l-2.7 -2.9zM289.5 17l2.7 2.9l-2.7 2.9l-2.7 -2.9zM289.6 16.2l2.7 2.9l-2.7 2.9l-2.7 -2.9zM289.7 16.6l2.7 2.9l-2.7 2.9l-2.7 -2.9zM289.8 16.3l2.7 2.9l-2.7 2.9l-2.7 -2.9zM289.9 16.8l2.7 2.9l-2.7 2.9l-2.7 -2.9zM290 16.5l2.7 2.9l-2.7 2.9l-2.7 -2.9zM290 16.3l2.7 2.9l-2.7 2.9l-2.7 -2.9zM290.1 16.6l2.7 2.9l-2.7 2.9l-2.7 -2.9zM290.2 16.8l2.7 2.9l-2.7 2.9l-2.7 -2.9zM290.3 17.3l2.7 2.9l-2.7 2.9l-2.7 -2.9zM290.4 17.2l2.7 2.9l-2.7 2.9l-2.7 -2.9zM290.5 16.6l2.7 2.9l-2.7 2.9l-2.7 -2.9zM290.6 16.5l2.7 2.9l-2.7 2.9l-2.7 -2.9zM290.7 16.8l2.7 2.9l-2.7 2.9l-2.7 -2.9zM290.8 16.6l2.7 2.9l-2.7 2.9l-2.7 -2.9zM290.9 17.3l2.7 2.9l-2.7 2.9l-2.7 -2.9zM291 16.9l2.7 2.9l-2.7 2.9l-2.7 -2.9zM291.1 16.8l2.7 2.9l-2.7 2.9l-2.7 -2.9zM291.2 16.9l2.7 2.9l-2.7 2.9l-2.7 -2.9zM291.3 16.4l2.7 2.9l-2.7 2.9l-2.7 -2.9zM291.4 16.5l2.7 2.9l-2.7 2.9l-2.7 -2.9zM291.4 16.7l2.7 2.9l-2.7 2.9l-2.7 -2.9zM291.5 17.4l2.7 2.9l-2.7 2.9l-2.7 -2.9zM291.6 17.1l2.7 2.9l-2.7 2.9l-2.7 -2.9zM291.7 16.6l2.7 2.9l-2.7 2.9l-2.7 -2.9zM291.8 16.6l2.7 2.9l-2.7 2.9l-2.7 -2.9zM291.9 16.9l2.7 2.9l-2.7 2.9l-2.7 -2.9zM292 17.2l2.7 2.9l-2.7 2.9l-2.7 -2.9zM292.1 17.4l2.7 2.9l-2.7 2.9l-2.7 -2.9zM292.2 16.7l2.7 2.9l-2.7 2.9l-2.7 -2.9zM292.3 17.3l2.7 2.9l-2.7 2.9l-2.7 -2.9zM292.3 17.4l2.7 2.9l-2.7 2.9l-2.7 -2.9zM292.4 17.4l2.7 2.9l-2.7 2.9l-2.7 -2.9zM292.5 16.5l2.7 2.9l-2.7 2.9l-2.7 -2.9zM292.6 16.7l2.7 2.9l-2.7 2.9l-2.7 -2.9zM292.7 16.6l2.7 2.9l-2.7 2.9l-2.7 -2.9zM292.8 16.6l2.7 2.9l-2.7 2.9l-2.7 -2.9zM292.9 17l2.7 2.9l-2.7 2.9l-2.7 -2.9zM293 17.1l2.7 2.9l-2.7 2.9l-2.7 -2.9zM293 16.7l2.7 2.9l-2.7 2.9l-2.7 -2.9zM293.1 16.6l2.7 2.9l-2.7 2.9l-2.7 -2.9zM293.2 17.3l2.7 2.9l-2.7 2.9l-2.7 -2.9zM293.3 16.7l2.7 2.9l-2.7 2.9l-2.7 -2.9zM293.4 16.8l2.7 2.9l-2.7 2.9l-2.7 -2.9zM293.5 16.9l2.7 2.9l-2.7 2.9l-2.7 -2.9zM293.6 17.1l2.7 2.9l-2.7 2.9l-2.7 -2.9zM293.7 17l2.7 2.9l-2.7 2.9l-2.7 -2.9zM293.7 17.2l2.7 2.9l-2.7 2.9l-2.7 -2.9zM293.8 16.8l2.7 2.9l-2.7 2.9l-2.7 -2.9zM293.9 17.5l2.7 2.9l-2.7 2.9l-2.7 -2.9zM294 17.5l2.7 2.9l-2.7 2.9l-2.7 -2.9zM294.1 17.2l2.7 2.9l-2.7 2.9l-2.7 -2.9zM294.2 17.5l2.7 2.9l-2.7 2.9l-2.7 -2.9zM294.2 17l2.7 2.9l-2.7 2.9l-2.7 -2.9zM294.3 17l2.7 2.9l-2.7 2.9l-2.7 -2.9zM294.4 17.1l2.7 2.9l-2.7 2.9l-2.7 -2.9zM294.5 17l2.7 2.9l-2.7 2.9l-2.7 -2.9zM294.6 16.9l2.7 2.9l-2.7 2.9l-2.7 -2.9zM294.7 17.1l2.7 2.9l-2.7 2.9l-2.7 -2.9zM294.7 17.2l2.7 2.9l-2.7 2.9l-2.7 -2.9zM294.8 17.6l2.7 2.9l-2.7 2.9l-2.7 -2.9zM294.9 17.5l2.7 2.9l-2.7 2.9l-2.7 -2.9zM295 17.3l2.7 2.9l-2.7 2.9l-2.7 -2.9zM295.1 17.4l2.7 2.9l-2.7 2.9l-2.7 -2.9zM295.1 17.8l2.7 2.9l-2.7 2.9l-2.7 -2.9zM295.2 17.2l2.7 2.9l-2.7 2.9l-2.7 -2.9zM295.3 16.9l2.7 2.9l-2.7 2.9l-2.7 -2.9zM295.4 17l2.7 2.9l-2.7 2.9l-2.7 -2.9zM295.5 17.1l2.7 2.9l-2.7 2.9l-2.7 -2.9zM295.6 17.8l2.7 2.9l-2.7 2.9l-2.7 -2.9zM295.6 16.9l2.7 2.9l-2.7 2.9l-2.7 -2.9zM295.7 17.5l2.7 2.9l-2.7 2.9l-2.7 -2.9zM295.8 17l2.7 2.9l-2.7 2.9l-2.7 -2.9zM295.9 17l2.7 2.9l-2.7 2.9l-2.7 -2.9zM296 17.2l2.7 2.9l-2.7 2.9l-2.7 -2.9zM296 17.9l2.7 2.9l-2.7 2.9l-2.7 -2.9zM296.1 17.4l2.7 2.9l-2.7 2.9l-2.7 -2.9zM296.2 17.9l2.7 2.9l-2.7 2.9l-2.7 -2.9zM296.3 17l2.7 2.9l-2.7 2.9l-2.7 -2.9zM296.3 17.8l2.7 2.9l-2.7 2.9l-2.7 -2.9zM296.4 17.9l2.7 2.9l-2.7 2.9l-2.7 -2.9zM296.5 17.7l2.7 2.9l-2.7 2.9l-2.7 -2.9zM296.6 17.4l2.7 2.9l-2.7 2.9l-2.7 -2.9zM296.7 17.3l2.7 2.9l-2.7 2.9l-2.7 -2.9zM296.7 17.4l2.7 2.9l-2.7 2.9l-2.7 -2.9zM296.8 17.4l2.7 2.9l-2.7 2.9l-2.7 -2.9zM296.9 17.1l2.7 2.9l-2.7 2.9l-2.7 -2.9zM297 17.8l2.7 2.9l-2.7 2.9l-2.7 -2.9zM297 17.4l2.7 2.9l-2.7 2.9l-2.7 -2.9zM297.1 17.8l2.7 2.9l-2.7 2.9l-2.7 -2.9zM297.2 17.7l2.7 2.9l-2.7 2.9l-2.7 -2.9zM297.3 17.4l2.7 2.9l-2.7 2.9l-2.7 -2.9zM297.3 17.2l2.7 2.9l-2.7 2.9l-2.7 -2.9zM297.4 17.5l2.7 2.9l-2.7 2.9l-2.7 -2.9zM297.5 17.8l2.7 2.9l-2.7 2.9l-2.7 -2.9zM297.6 17.2l2.7 2.9l-2.7 2.9l-2.7 -2.9zM297.6 17.5l2.7 2.9l-2.7 2.9l-2.7 -2.9zM297.7 17.2l2.7 2.9l-2.7 2.9l-2.7 -2.9zM297.8 17.3l2.7 2.9l-2.7 2.9l-2.7 -2.9zM297.9 17.8l2.7 2.9l-2.7 2.9l-2.7 -2.9zM297.9 17.7l2.7 2.9l-2.7 2.9l-2.7 -2.9zM298 17.5l2.7 2.9l-2.7 2.9l-2.7 -2.9zM298.1 17.4l2.7 2.9l-2.7 2.9l-2.7 -2.9zM298.2 17.8l2.7 2.9l-2.7 2.9l-2.7 -2.9zM298.2 18l2.7 2.9l-2.7 2.9l-2.7 -2.9zM298.3 17.3l2.7 2.9l-2.7 2.9l-2.7 -2.9zM298.4 18l2.7 2.9l-2.7 2.9l-2.7 -2.9zM298.5 18.1l2.7 2.9l-2.7 2.9l-2.7 -2.9zM298.5 17.8l2.7 2.9l-2.7 2.9l-2.7 -2.9zM298.6 18.2l2.7 2.9l-2.7 2.9l-2.7 -2.9zM298.7 17.9l2.7 2.9l-2.7 2.9l-2.7 -2.9zM298.8 17.8l2.7 2.9l-2.7 2.9l-2.7 -2.9zM298.8 17.5l2.7 2.9l-2.7 2.9l-2.7 -2.9zM298.9 18.2l2.7 2.9l-2.7 2.9l-2.7 -2.9zM299 17.6l2.7 2.9l-2.7 2.9l-2.7 -2.9zM299 17.3l2.7 2.9l-2.7 2.9l-2.7 -2.9zM299.1 17.4l2.7 2.9l-2.7 2.9l-2.7 -2.9zM299.2 17.5l2.7 2.9l-2.7 2.9l-2.7 -2.9zM299.3 17.4l2.7 2.9l-2.7 2.9l-2.7 -2.9zM299.3 18.2l2.7 2.9l-2.7 2.9l-2.7 -2.9zM299.4 17.8l2.7 2.9l-2.7 2.9l-2.7 -2.9zM299.5 18l2.7 2.9l-2.7 2.9l-2.7 -2.9zM299.5 18l2.7 2.9l-2.7 2.9l-2.7 -2.9zM299.6 17.7l2.7 2.9l-2.7 2.9l-2.7 -2.9zM299.7 17.7l2.7 2.9l-2.7 2.9l-2.7 -2.9zM299.8 17.9l2.7 2.9l-2.7 2.9l-2.7 -2.9zM299.8 17.8l2.7 2.9l-2.7 2.9l-2.7 -2.9zM299.9 18l2.7 2.9l-2.7 2.9l-2.7 -2.9zM300 17.6l2.7 2.9l-2.7 2.9l-2.7 -2.9zM300 17.4l2.7 2.9l-2.7 2.9l-2.7 -2.9zM300.1 17.8l2.7 2.9l-2.7 2.9l-2.7 -2.9zM300.2 17.7l2.7 2.9l-2.7 2.9l-2.7 -2.9zM300.2 17.9l2.7 2.9l-2.7 2.9l-2.7 -2.9zM300.3 18.1l2.7 2.9l-2.7 2.9l-2.7 -2.9zM300.4 18.2l2.7 2.9l-2.7 2.9l-2.7 -2.9zM300.5 18.1l2.7 2.9l-2.7 2.9l-2.7 -2.9zM300.5 18.2l2.7 2.9l-2.7 2.9l-2.7 -2.9zM300.6 18.1l2.7 2.9l-2.7 2.9l-2.7 -2.9zM300.7 17.6l2.7 2.9l-2.7 2.9l-2.7 -2.9zM300.7 18.1l2.7 2.9l-2.7 2.9l-2.7 -2.9zM300.8 17.9l2.7 2.9l-2.7 2.9l-2.7 -2.9zM300.9 18.3l2.7 2.9l-2.7 2.9l-2.7 -2.9zM300.9 17.7l2.7 2.9l-2.7 2.9l-2.7 -2.9zM301 17.9l2.7 2.9l-2.7 2.9l-2.7 -2.9zM301.1 17.5l2.7 2.9l-2.7 2.9l-2.7 -2.9zM301.1 17.8l2.7 2.9l-2.7 2.9l-2.7 -2.9zM301.2 17.9l2.7 2.9l-2.7 2.9l-2.7 -2.9zM301.3 18.2l2.7 2.9l-2.7 2.9l-2.7 -2.9zM301.3 18.2l2.7 2.9l-2.7 2.9l-2.7 -2.9zM301.4 17.6l2.7 2.9l-2.7 2.9l-2.7 -2.9zM301.5 18.3l2.7 2.9l-2.7 2.9l-2.7 -2.9zM301.5 18.5l2.7 2.9l-2.7 2.9l-2.7 -2.9zM301.6 17.6l2.7 2.9l-2.7 2.9l-2.7 -2.9zM301.7 18.1l2.7 2.9l-2.7 2.9l-2.7 -2.9zM301.7 18.4l2.7 2.9l-2.7 2.9l-2.7 -2.9zM301.8 17.9l2.7 2.9l-2.7 2.9l-2.7 -2.9zM301.9 17.7l2.7 2.9l-2.7 2.9l-2.7 -2.9zM301.9 17.7l2.7 2.9l-2.7 2.9l-2.7 -2.9zM302 17.8l2.7 2.9l-2.7 2.9l-2.7 -2.9zM302.1 18.2l2.7 2.9l-2.7 2.9l-2.7 -2.9zM302.1 18.4l2.7 2.9l-2.7 2.9l-2.7 -2.9zM302.2 18.5l2.7 2.9l-2.7 2.9l-2.7 -2.9zM302.3 18l2.7 2.9l-2.7 2.9l-2.7 -2.9zM302.3 18.6l2.7 2.9l-2.7 2.9l-2.7 -2.9zM302.4 18.6l2.7 2.9l-2.7 2.9l-2.7 -2.9zM302.5 18.5l2.7 2.9l-2.7 2.9l-2.7 -2.9zM302.5 18.3l2.7 2.9l-2.7 2.9l-2.7 -2.9zM302.6 17.9l2.7 2.9l-2.7 2.9l-2.7 -2.9zM302.6 18.1l2.7 2.9l-2.7 2.9l-2.7 -2.9zM302.7 18.4l2.7 2.9l-2.7 2.9l-2.7 -2.9zM302.8 18.4l2.7 2.9l-2.7 2.9l-2.7 -2.9zM302.8 18.2l2.7 2.9l-2.7 2.9l-2.7 -2.9zM302.9 18.1l2.7 2.9l-2.7 2.9l-2.7 -2.9zM303 17.8l2.7 2.9l-2.7 2.9l-2.7 -2.9zM303 17.9l2.7 2.9l-2.7 2.9l-2.7 -2.9zM303.1 17.8l2.7 2.9l-2.7 2.9l-2.7 -2.9zM303.2 18.6l2.7 2.9l-2.7 2.9l-2.7 -2.9zM303.2 18.1l2.7 2.9l-2.7 2.9l-2.7 -2.9zM303.3 18l2.7 2.9l-2.7 2.9l-2.7 -2.9zM303.3 17.8l2.7 2.9l-2.7 2.9l-2.7 -2.9zM303.4 18.5l2.7 2.9l-2.7 2.9l-2.7 -2.9zM303.5 17.9l2.7 2.9l-2.7 2.9l-2.7 -2.9zM303.5 18.4l2.7 2.9l-2.7 2.9l-2.7 -2.9zM303.6 18l2.7 2.9l-2.7 2.9l-2.7 -2.9zM303.7 17.9l2.7 2.9l-2.7 2.9l-2.7 -2.9zM303.7 18.3l2.7 2.9l-2.7 2.9l-2.7 -2.9zM303.8 18.4l2.7 2.9l-2.7 2.9l-2.7 -2.9zM303.8 18.6l2.7 2.9l-2.7 2.9l-2.7 -2.9zM303.9 17.9l2.7 2.9l-2.7 2.9l-2.7 -2.9zM304 18.8l2.7 2.9l-2.7 2.9l-2.7 -2.9zM304 18.8l2.7 2.9l-2.7 2.9l-2.7 -2.9zM304.1 18.3l2.7 2.9l-2.7 2.9l-2.7 -2.9zM304.2 18.3l2.7 2.9l-2.7 2.9l-2.7 -2.9zM304.2 18.6l2.7 2.9l-2.7 2.9l-2.7 -2.9zM304.3 18.5l2.7 2.9l-2.7 2.9l-2.7 -2.9zM304.3 18.8l2.7 2.9l-2.7 2.9l-2.7 -2.9zM304.4 18.8l2.7 2.9l-2.7 2.9l-2.7 -2.9zM304.5 18.5l2.7 2.9l-2.7 2.9l-2.7 -2.9zM304.5 18.5l2.7 2.9l-2.7 2.9l-2.7 -2.9zM304.6 18.1l2.7 2.9l-2.7 2.9l-2.7 -2.9zM304.6 18.7l2.7 2.9l-2.7 2.9l-2.7 -2.9zM304.7 18.7l2.7 2.9l-2.7 2.9l-2.7 -2.9zM304.8 18.2l2.7 2.9l-2.7 2.9l-2.7 -2.9zM304.8 18.7l2.7 2.9l-2.7 2.9l-2.7 -2.9zM304.9 18.4l2.7 2.9l-2.7 2.9l-2.7 -2.9zM304.9 18.2l2.7 2.9l-2.7 2.9l-2.7 -2.9zM305 18.8l2.7 2.9l-2.7 2.9l-2.7 -2.9zM305.1 18.3l2.7 2.9l-2.7 2.9l-2.7 -2.9zM305.1 18.6l2.7 2.9l-2.7 2.9l-2.7 -2.9zM305.2 18.3l2.7 2.9l-2.7 2.9l-2.7 -2.9zM305.2 18.2l2.7 2.9l-2.7 2.9l-2.7 -2.9zM305.3 18.1l2.7 2.9l-2.7 2.9l-2.7 -2.9zM305.4 18.4l2.7 2.9l-2.7 2.9l-2.7 -2.9zM305.4 18.4l2.7 2.9l-2.7 2.9l-2.7 -2.9zM305.5 18.8l2.7 2.9l-2.7 2.9l-2.7 -2.9zM305.5 18.3l2.7 2.9l-2.7 2.9l-2.7 -2.9zM305.6 18.8l2.7 2.9l-2.7 2.9l-2.7 -2.9zM305.7 19l2.7 2.9l-2.7 2.9l-2.7 -2.9zM305.7 18.9l2.7 2.9l-2.7 2.9l-2.7 -2.9zM305.8 18.7l2.7 2.9l-2.7 2.9l-2.7 -2.9zM305.8 18.3l2.7 2.9l-2.7 2.9l-2.7 -2.9zM305.9 18.2l2.7 2.9l-2.7 2.9l-2.7 -2.9zM305.9 18.6l2.7 2.9l-2.7 2.9l-2.7 -2.9zM306 18.2l2.7 2.9l-2.7 2.9l-2.7 -2.9zM306.1 18.6l2.7 2.9l-2.7 2.9l-2.7 -2.9zM306.1 18.6l2.7 2.9l-2.7 2.9l-2.7 -2.9zM306.2 18.2l2.7 2.9l-2.7 2.9l-2.7 -2.9zM306.2 18.5l2.7 2.9l-2.7 2.9l-2.7 -2.9zM306.3 19.1l2.7 2.9l-2.7 2.9l-2.7 -2.9zM306.3 18.3l2.7 2.9l-2.7 2.9l-2.7 -2.9zM306.4 18.7l2.7 2.9l-2.7 2.9l-2.7 -2.9zM306.5 18.4l2.7 2.9l-2.7 2.9l-2.7 -2.9zM306.5 19.1l2.7 2.9l-2.7 2.9l-2.7 -2.9zM306.6 18.6l2.7 2.9l-2.7 2.9l-2.7 -2.9zM306.6 19l2.7 2.9l-2.7 2.9l-2.7 -2.9zM306.7 18.5l2.7 2.9l-2.7 2.9l-2.7 -2.9zM306.7 18.6l2.7 2.9l-2.7 2.9l-2.7 -2.9zM306.8 18.9l2.7 2.9l-2.7 2.9l-2.7 -2.9zM306.9 19.1l2.7 2.9l-2.7 2.9l-2.7 -2.9zM306.9 18.5l2.7 2.9l-2.7 2.9l-2.7 -2.9zM307 19.2l2.7 2.9l-2.7 2.9l-2.7 -2.9zM307 19.2l2.7 2.9l-2.7 2.9l-2.7 -2.9zM307.1 19.2l2.7 2.9l-2.7 2.9l-2.7 -2.9zM307.1 19.2l2.7 2.9l-2.7 2.9l-2.7 -2.9zM307.2 19.1l2.7 2.9l-2.7 2.9l-2.7 -2.9zM307.3 19.3l2.7 2.9l-2.7 2.9l-2.7 -2.9zM307.3 19.1l2.7 2.9l-2.7 2.9l-2.7 -2.9zM307.4 18.9l2.7 2.9l-2.7 2.9l-2.7 -2.9zM307.4 19.3l2.7 2.9l-2.7 2.9l-2.7 -2.9zM307.5 19.3l2.7 2.9l-2.7 2.9l-2.7 -2.9zM307.5 18.6l2.7 2.9l-2.7 2.9l-2.7 -2.9zM307.6 19.1l2.7 2.9l-2.7 2.9l-2.7 -2.9zM307.6 19l2.7 2.9l-2.7 2.9l-2.7 -2.9zM307.7 18.4l2.7 2.9l-2.7 2.9l-2.7 -2.9zM307.8 18.9l2.7 2.9l-2.7 2.9l-2.7 -2.9zM307.8 18.8l2.7 2.9l-2.7 2.9l-2.7 -2.9zM307.9 18.9l2.7 2.9l-2.7 2.9l-2.7 -2.9zM307.9 18.6l2.7 2.9l-2.7 2.9l-2.7 -2.9zM308 18.8l2.7 2.9l-2.7 2.9l-2.7 -2.9zM308 18.4l2.7 2.9l-2.7 2.9l-2.7 -2.9zM308.1 18.7l2.7 2.9l-2.7 2.9l-2.7 -2.9zM308.1 19.2l2.7 2.9l-2.7 2.9l-2.7 -2.9zM308.2 18.6l2.7 2.9l-2.7 2.9l-2.7 -2.9zM308.2 19.4l2.7 2.9l-2.7 2.9l-2.7 -2.9zM308.3 19.1l2.7 2.9l-2.7 2.9l-2.7 -2.9zM308.3 18.8l2.7 2.9l-2.7 2.9l-2.7 -2.9zM308.4 19.3l2.7 2.9l-2.7 2.9l-2.7 -2.9zM308.5 19.4l2.7 2.9l-2.7 2.9l-2.7 -2.9zM308.5 19.4l2.7 2.9l-2.7 2.9l-2.7 -2.9zM308.6 18.6l2.7 2.9l-2.7 2.9l-2.7 -2.9zM308.6 19.1l2.7 2.9l-2.7 2.9l-2.7 -2.9zM308.7 18.8l2.7 2.9l-2.7 2.9l-2.7 -2.9zM308.7 19.3l2.7 2.9l-2.7 2.9l-2.7 -2.9zM308.8 19l2.7 2.9l-2.7 2.9l-2.7 -2.9zM308.8 19.1l2.7 2.9l-2.7 2.9l-2.7 -2.9zM308.9 19.1l2.7 2.9l-2.7 2.9l-2.7 -2.9zM308.9 19.5l2.7 2.9l-2.7 2.9l-2.7 -2.9zM309 19.4l2.7 2.9l-2.7 2.9l-2.7 -2.9zM309 19.2l2.7 2.9l-2.7 2.9l-2.7 -2.9zM309.1 19.4l2.7 2.9l-2.7 2.9l-2.7 -2.9zM309.1 18.7l2.7 2.9l-2.7 2.9l-2.7 -2.9zM309.2 18.9l2.7 2.9l-2.7 2.9l-2.7 -2.9zM309.3 18.9l2.7 2.9l-2.7 2.9l-2.7 -2.9zM309.3 19.4l2.7 2.9l-2.7 2.9l-2.7 -2.9zM309.4 18.8l2.7 2.9l-2.7 2.9l-2.7 -2.9zM309.4 19l2.7 2.9l-2.7 2.9l-2.7 -2.9zM309.5 18.7l2.7 2.9l-2.7 2.9l-2.7 -2.9zM309.5 18.8l2.7 2.9l-2.7 2.9l-2.7 -2.9zM309.6 19.1l2.7 2.9l-2.7 2.9l-2.7 -2.9zM309.6 19.4l2.7 2.9l-2.7 2.9l-2.7 -2.9zM309.7 19.4l2.7 2.9l-2.7 2.9l-2.7 -2.9zM309.7 19.4l2.7 2.9l-2.7 2.9l-2.7 -2.9zM309.8 19.1l2.7 2.9l-2.7 2.9l-2.7 -2.9zM309.8 19.7l2.7 2.9l-2.7 2.9l-2.7 -2.9zM309.9 18.9l2.7 2.9l-2.7 2.9l-2.7 -2.9zM309.9 19.7l2.7 2.9l-2.7 2.9l-2.7 -2.9zM310 19.7l2.7 2.9l-2.7 2.9l-2.7 -2.9zM310 18.9l2.7 2.9l-2.7 2.9l-2.7 -2.9zM310.1 18.8l2.7 2.9l-2.7 2.9l-2.7 -2.9zM310.1 19.7l2.7 2.9l-2.7 2.9l-2.7 -2.9zM310.2 19.7l2.7 2.9l-2.7 2.9l-2.7 -2.9zM310.2 18.8l2.7 2.9l-2.7 2.9l-2.7 -2.9zM310.3 19.4l2.7 2.9l-2.7 2.9l-2.7 -2.9zM310.3 19.3l2.7 2.9l-2.7 2.9l-2.7 -2.9zM310.4 19.6l2.7 2.9l-2.7 2.9l-2.7 -2.9zM310.4 18.9l2.7 2.9l-2.7 2.9l-2.7 -2.9zM310.5 19.3l2.7 2.9l-2.7 2.9l-2.7 -2.9zM310.5 19.3l2.7 2.9l-2.7 2.9l-2.7 -2.9zM310.6 19.5l2.7 2.9l-2.7 2.9l-2.7 -2.9zM310.6 19.2l2.7 2.9l-2.7 2.9l-2.7 -2.9zM310.7 19.5l2.7 2.9l-2.7 2.9l-2.7 -2.9zM310.7 19.6l2.7 2.9l-2.7 2.9l-2.7 -2.9zM310.8 18.9l2.7 2.9l-2.7 2.9l-2.7 -2.9zM310.8 19.1l2.7 2.9l-2.7 2.9l-2.7 -2.9zM310.9 19.4l2.7 2.9l-2.7 2.9l-2.7 -2.9zM310.9 19.4l2.7 2.9l-2.7 2.9l-2.7 -2.9zM311 19l2.7 2.9l-2.7 2.9l-2.7 -2.9zM311 19l2.7 2.9l-2.7 2.9l-2.7 -2.9zM311.1 19.6l2.7 2.9l-2.7 2.9l-2.7 -2.9zM311.1 19.6l2.7 2.9l-2.7 2.9l-2.7 -2.9zM311.2 19l2.7 2.9l-2.7 2.9l-2.7 -2.9zM311.2 19.5l2.7 2.9l-2.7 2.9l-2.7 -2.9zM311.3 19.3l2.7 2.9l-2.7 2.9l-2.7 -2.9zM311.3 19.4l2.7 2.9l-2.7 2.9l-2.7 -2.9zM311.4 19.5l2.7 2.9l-2.7 2.9l-2.7 -2.9zM311.4 19.8l2.7 2.9l-2.7 2.9l-2.7 -2.9zM311.5 19.7l2.7 2.9l-2.7 2.9l-2.7 -2.9zM311.5 19.7l2.7 2.9l-2.7 2.9l-2.7 -2.9zM311.6 20l2.7 2.9l-2.7 2.9l-2.7 -2.9zM311.6 19.4l2.7 2.9l-2.7 2.9l-2.7 -2.9zM311.7 19.4l2.7 2.9l-2.7 2.9l-2.7 -2.9zM311.7 19.3l2.7 2.9l-2.7 2.9l-2.7 -2.9zM311.8 19.9l2.7 2.9l-2.7 2.9l-2.7 -2.9zM311.8 19l2.7 2.9l-2.7 2.9l-2.7 -2.9zM311.9 19.7l2.7 2.9l-2.7 2.9l-2.7 -2.9zM311.9 19.6l2.7 2.9l-2.7 2.9l-2.7 -2.9zM312 19.3l2.7 2.9l-2.7 2.9l-2.7 -2.9zM312 19.9l2.7 2.9l-2.7 2.9l-2.7 -2.9zM312.1 19.8l2.7 2.9l-2.7 2.9l-2.7 -2.9zM312.1 19.9l2.7 2.9l-2.7 2.9l-2.7 -2.9zM312.2 20.1l2.7 2.9l-2.7 2.9l-2.7 -2.9zM312.2 19.5l2.7 2.9l-2.7 2.9l-2.7 -2.9zM312.2 19.6l2.7 2.9l-2.7 2.9l-2.7 -2.9zM312.3 19.7l2.7 2.9l-2.7 2.9l-2.7 -2.9zM312.3 19.4l2.7 2.9l-2.7 2.9l-2.7 -2.9zM312.4 19.3l2.7 2.9l-2.7 2.9l-2.7 -2.9zM312.4 20l2.7 2.9l-2.7 2.9l-2.7 -2.9zM312.5 19.6l2.7 2.9l-2.7 2.9l-2.7 -2.9zM312.5 19.3l2.7 2.9l-2.7 2.9l-2.7 -2.9zM312.6 19.8l2.7 2.9l-2.7 2.9l-2.7 -2.9zM312.6 19.4l2.7 2.9l-2.7 2.9l-2.7 -2.9zM312.7 20l2.7 2.9l-2.7 2.9l-2.7 -2.9zM312.7 19.4l2.7 2.9l-2.7 2.9l-2.7 -2.9zM312.8 20l2.7 2.9l-2.7 2.9l-2.7 -2.9zM312.8 19.5l2.7 2.9l-2.7 2.9l-2.7 -2.9zM312.9 20.1l2.7 2.9l-2.7 2.9l-2.7 -2.9zM312.9 20l2.7 2.9l-2.7 2.9l-2.7 -2.9zM313 19.4l2.7 2.9l-2.7 2.9l-2.7 -2.9zM313 20l2.7 2.9l-2.7 2.9l-2.7 -2.9zM313 19.6l2.7 2.9l-2.7 2.9l-2.7 -2.9zM313.1 19.4l2.7 2.9l-2.7 2.9l-2.7 -2.9zM313.1 19.7l2.7 2.9l-2.7 2.9l-2.7 -2.9zM313.2 19.5l2.7 2.9l-2.7 2.9l-2.7 -2.9zM313.2 20.1l2.7 2.9l-2.7 2.9l-2.7 -2.9zM313.3 19.6l2.7 2.9l-2.7 2.9l-2.7 -2.9zM313.3 19.5l2.7 2.9l-2.7 2.9l-2.7 -2.9zM313.4 19.4l2.7 2.9l-2.7 2.9l-2.7 -2.9zM313.4 20.1l2.7 2.9l-2.7 2.9l-2.7 -2.9zM313.5 19.5l2.7 2.9l-2.7 2.9l-2.7 -2.9zM313.5 19.8l2.7 2.9l-2.7 2.9l-2.7 -2.9zM313.6 20.2l2.7 2.9l-2.7 2.9l-2.7 -2.9zM313.6 19.6l2.7 2.9l-2.7 2.9l-2.7 -2.9zM313.6 19.3l2.7 2.9l-2.7 2.9l-2.7 -2.9zM313.7 20.1l2.7 2.9l-2.7 2.9l-2.7 -2.9zM313.7 19.8l2.7 2.9l-2.7 2.9l-2.7 -2.9zM313.8 19.8l2.7 2.9l-2.7 2.9l-2.7 -2.9zM313.8 19.4l2.7 2.9l-2.7 2.9l-2.7 -2.9zM313.9 19.8l2.7 2.9l-2.7 2.9l-2.7 -2.9zM313.9 20l2.7 2.9l-2.7 2.9l-2.7 -2.9zM314 19.7l2.7 2.9l-2.7 2.9l-2.7 -2.9zM314 20.3l2.7 2.9l-2.7 2.9l-2.7 -2.9zM314.1 19.5l2.7 2.9l-2.7 2.9l-2.7 -2.9zM314.1 19.7l2.7 2.9l-2.7 2.9l-2.7 -2.9zM314.1 19.9l2.7 2.9l-2.7 2.9l-2.7 -2.9zM314.2 19.8l2.7 2.9l-2.7 2.9l-2.7 -2.9zM314.2 20.3l2.7 2.9l-2.7 2.9l-2.7 -2.9zM314.3 20.2l2.7 2.9l-2.7 2.9l-2.7 -2.9zM314.3 19.5l2.7 2.9l-2.7 2.9l-2.7 -2.9zM314.4 19.7l2.7 2.9l-2.7 2.9l-2.7 -2.9zM314.4 20.3l2.7 2.9l-2.7 2.9l-2.7 -2.9zM314.5 19.7l2.7 2.9l-2.7 2.9l-2.7 -2.9zM314.5 20.3l2.7 2.9l-2.7 2.9l-2.7 -2.9zM314.5 19.9l2.7 2.9l-2.7 2.9l-2.7 -2.9zM314.6 20.3l2.7 2.9l-2.7 2.9l-2.7 -2.9zM314.6 20.4l2.7 2.9l-2.7 2.9l-2.7 -2.9zM314.7 20.2l2.7 2.9l-2.7 2.9l-2.7 -2.9zM314.7 19.9l2.7 2.9l-2.7 2.9l-2.7 -2.9zM314.8 20l2.7 2.9l-2.7 2.9l-2.7 -2.9zM314.8 19.8l2.7 2.9l-2.7 2.9l-2.7 -2.9zM314.9 20l2.7 2.9l-2.7 2.9l-2.7 -2.9zM314.9 19.7l2.7 2.9l-2.7 2.9l-2.7 -2.9zM314.9 20.4l2.7 2.9l-2.7 2.9l-2.7 -2.9zM315 19.9l2.7 2.9l-2.7 2.9l-2.7 -2.9zM315 19.6l2.7 2.9l-2.7 2.9l-2.7 -2.9zM315.1 19.9l2.7 2.9l-2.7 2.9l-2.7 -2.9zM315.1 20.3l2.7 2.9l-2.7 2.9l-2.7 -2.9zM315.2 20.3l2.7 2.9l-2.7 2.9l-2.7 -2.9zM315.2 19.9l2.7 2.9l-2.7 2.9l-2.7 -2.9zM315.2 20.3l2.7 2.9l-2.7 2.9l-2.7 -2.9zM315.3 20.2l2.7 2.9l-2.7 2.9l-2.7 -2.9zM315.3 20l2.7 2.9l-2.7 2.9l-2.7 -2.9zM315.4 19.8l2.7 2.9l-2.7 2.9l-2.7 -2.9zM315.4 20.5l2.7 2.9l-2.7 2.9l-2.7 -2.9zM315.5 20.1l2.7 2.9l-2.7 2.9l-2.7 -2.9zM315.5 19.7l2.7 2.9l-2.7 2.9l-2.7 -2.9zM315.6 19.7l2.7 2.9l-2.7 2.9l-2.7 -2.9zM315.6 20.1l2.7 2.9l-2.7 2.9l-2.7 -2.9zM315.6 20.7l2.7 2.9l-2.7 2.9l-2.7 -2.9zM315.7 20.6l2.7 2.9l-2.7 2.9l-2.7 -2.9zM315.7 20.2l2.7 2.9l-2.7 2.9l-2.7 -2.9zM315.8 20.2l2.7 2.9l-2.7 2.9l-2.7 -2.9zM315.8 20.6l2.7 2.9l-2.7 2.9l-2.7 -2.9zM315.8 20.5l2.7 2.9l-2.7 2.9l-2.7 -2.9zM315.9 20.3l2.7 2.9l-2.7 2.9l-2.7 -2.9zM315.9 20.5l2.7 2.9l-2.7 2.9l-2.7 -2.9zM316 20.7l2.7 2.9l-2.7 2.9l-2.7 -2.9zM316 19.9l2.7 2.9l-2.7 2.9l-2.7 -2.9zM316.1 19.9l2.7 2.9l-2.7 2.9l-2.7 -2.9zM316.1 20.6l2.7 2.9l-2.7 2.9l-2.7 -2.9zM316.1 20.1l2.7 2.9l-2.7 2.9l-2.7 -2.9zM316.2 20l2.7 2.9l-2.7 2.9l-2.7 -2.9zM316.2 20.5l2.7 2.9l-2.7 2.9l-2.7 -2.9zM316.3 20.3l2.7 2.9l-2.7 2.9l-2.7 -2.9zM316.3 20.5l2.7 2.9l-2.7 2.9l-2.7 -2.9zM316.4 20.3l2.7 2.9l-2.7 2.9l-2.7 -2.9zM316.4 20.5l2.7 2.9l-2.7 2.9l-2.7 -2.9zM316.4 20.1l2.7 2.9l-2.7 2.9l-2.7 -2.9zM316.5 20.4l2.7 2.9l-2.7 2.9l-2.7 -2.9zM316.5 20.3l2.7 2.9l-2.7 2.9l-2.7 -2.9zM316.6 20.5l2.7 2.9l-2.7 2.9l-2.7 -2.9zM316.6 20.3l2.7 2.9l-2.7 2.9l-2.7 -2.9zM316.6 20.5l2.7 2.9l-2.7 2.9l-2.7 -2.9zM316.7 20.7l2.7 2.9l-2.7 2.9l-2.7 -2.9zM316.7 20l2.7 2.9l-2.7 2.9l-2.7 -2.9zM316.8 20.5l2.7 2.9l-2.7 2.9l-2.7 -2.9zM316.8 20.3l2.7 2.9l-2.7 2.9l-2.7 -2.9zM316.9 20.1l2.7 2.9l-2.7 2.9l-2.7 -2.9zM316.9 20.1l2.7 2.9l-2.7 2.9l-2.7 -2.9zM316.9 20.4l2.7 2.9l-2.7 2.9l-2.7 -2.9zM317 20.2l2.7 2.9l-2.7 2.9l-2.7 -2.9zM317 20.7l2.7 2.9l-2.7 2.9l-2.7 -2.9zM317.1 20.4l2.7 2.9l-2.7 2.9l-2.7 -2.9zM317.1 20.1l2.7 2.9l-2.7 2.9l-2.7 -2.9zM317.1 20.8l2.7 2.9l-2.7 2.9l-2.7 -2.9zM317.2 20.7l2.7 2.9l-2.7 2.9l-2.7 -2.9zM317.2 20.3l2.7 2.9l-2.7 2.9l-2.7 -2.9zM317.3 20.3l2.7 2.9l-2.7 2.9l-2.7 -2.9zM317.3 20.2l2.7 2.9l-2.7 2.9l-2.7 -2.9zM317.3 20.7l2.7 2.9l-2.7 2.9l-2.7 -2.9zM317.4 20.3l2.7 2.9l-2.7 2.9l-2.7 -2.9zM317.4 20.7l2.7 2.9l-2.7 2.9l-2.7 -2.9zM317.5 20.3l2.7 2.9l-2.7 2.9l-2.7 -2.9zM317.5 20.3l2.7 2.9l-2.7 2.9l-2.7 -2.9zM317.6 20l2.7 2.9l-2.7 2.9l-2.7 -2.9zM317.6 20.3l2.7 2.9l-2.7 2.9l-2.7 -2.9zM317.6 21l2.7 2.9l-2.7 2.9l-2.7 -2.9zM317.7 20.1l2.7 2.9l-2.7 2.9l-2.7 -2.9zM317.7 20.4l2.7 2.9l-2.7 2.9l-2.7 -2.9zM317.8 20.8l2.7 2.9l-2.7 2.9l-2.7 -2.9zM317.8 20.2l2.7 2.9l-2.7 2.9l-2.7 -2.9zM317.8 20.4l2.7 2.9l-2.7 2.9l-2.7 -2.9zM317.9 21l2.7 2.9l-2.7 2.9l-2.7 -2.9zM317.9 20.2l2.7 2.9l-2.7 2.9l-2.7 -2.9zM318 21l2.7 2.9l-2.7 2.9l-2.7 -2.9zM318 20.6l2.7 2.9l-2.7 2.9l-2.7 -2.9zM318 20.2l2.7 2.9l-2.7 2.9l-2.7 -2.9zM318.1 20.9l2.7 2.9l-2.7 2.9l-2.7 -2.9zM318.1 20.9l2.7 2.9l-2.7 2.9l-2.7 -2.9zM318.2 21.1l2.7 2.9l-2.7 2.9l-2.7 -2.9zM318.2 20.9l2.7 2.9l-2.7 2.9l-2.7 -2.9zM318.2 20.3l2.7 2.9l-2.7 2.9l-2.7 -2.9zM318.3 21l2.7 2.9l-2.7 2.9l-2.7 -2.9zM318.3 20.3l2.7 2.9l-2.7 2.9l-2.7 -2.9zM318.3 20.9l2.7 2.9l-2.7 2.9l-2.7 -2.9zM318.4 20.5l2.7 2.9l-2.7 2.9l-2.7 -2.9zM318.4 20.9l2.7 2.9l-2.7 2.9l-2.7 -2.9zM318.5 20.8l2.7 2.9l-2.7 2.9l-2.7 -2.9zM318.5 20.8l2.7 2.9l-2.7 2.9l-2.7 -2.9zM318.5 20.9l2.7 2.9l-2.7 2.9l-2.7 -2.9zM318.6 21.2l2.7 2.9l-2.7 2.9l-2.7 -2.9zM318.6 20.5l2.7 2.9l-2.7 2.9l-2.7 -2.9zM318.7 21.1l2.7 2.9l-2.7 2.9l-2.7 -2.9zM318.7 21l2.7 2.9l-2.7 2.9l-2.7 -2.9zM318.7 20.3l2.7 2.9l-2.7 2.9l-2.7 -2.9zM318.8 20.6l2.7 2.9l-2.7 2.9l-2.7 -2.9zM318.8 21.2l2.7 2.9l-2.7 2.9l-2.7 -2.9zM318.9 20.6l2.7 2.9l-2.7 2.9l-2.7 -2.9zM318.9 20.8l2.7 2.9l-2.7 2.9l-2.7 -2.9zM318.9 21.2l2.7 2.9l-2.7 2.9l-2.7 -2.9zM319 20.7l2.7 2.9l-2.7 2.9l-2.7 -2.9zM319 21.3l2.7 2.9l-2.7 2.9l-2.7 -2.9z"/>
</g>
<rect x="62.4" y="8.6" width="264" height="220.2" fill="none" stroke="#000" stroke-width="1.5"/>
<path fill="none" stroke="#000" stroke-width="1.15" d="M62.4 8.6h4.5M62.4 39.4h2.5M62.4 31.6h2.5M62.4 26.1h2.5M62.4 21.8h2.5M62.4 18.4h2.5M62.4 15.4h2.5M62.4 12.9h2.5M62.4 10.6h2.5M62.4 52.6h4.5M62.4 83.4h2.5M62.4 75.6h2.5M62.4 70.1h2.5M62.4 65.8h2.5M62.4 62.4h2.5M62.4 59.4h2.5M62.4 56.9h2.5M62.4 54.6h2.5M62.4 96.6h4.5M62.4 127.4h2.5M62.4 119.6h2.5M62.4 114.1h2.5M62.4 109.8h2.5M62.4 106.4h2.5M62.4 103.4h2.5M62.4 100.9h2.5M62.4 98.6h2.5M62.4 140.6h4.5M62.4 171.4h2.5M62.4 163.6h2.5M62.4 158.1h2.5M62.4 153.8h2.5M62.4 150.4h2.5M62.4 147.4h2.5M62.4 144.9h2.5M62.4 142.6h2.5M62.4 184.6h4.5M62.4 215.4h2.5M62.4 207.6h2.5M62.4 202.1h2.5M62.4 197.8h2.5M62.4 194.4h2.5M62.4 191.4h2.5M62.4 188.9h2.5M62.4 186.6h2.5M74.2 228.8v-4.5M148 228.8v-4.5M221.8 228.8v-4.5M295.6 228.8v-4.5M62.8 228.8v-2.5M67 228.8v-2.5M70.8 228.8v-2.5M96.4 228.8v-2.5M109.4 228.8v-2.5M118.6 228.8v-2.5M125.8 228.8v-2.5M131.6 228.8v-2.5M136.6 228.8v-2.5M140.8 228.8v-2.5M144.6 228.8v-2.5M170.2 228.8v-2.5M183.2 228.8v-2.5M192.4 228.8v-2.5M199.6 228.8v-2.5M205.4 228.8v-2.5M210.4 228.8v-2.5M214.6 228.8v-2.5M218.4 228.8v-2.5M244 228.8v-2.5M257 228.8v-2.5M266.2 228.8v-2.5M273.4 228.8v-2.5M279.2 228.8v-2.5M284.2 228.8v-2.5M288.4 228.8v-2.5M292.2 228.8v-2.5M317.8 228.8v-2.5"/>
<text font-family="Liberation Sans" font-weight="bold" stroke="#000" stroke-width="0.25" font-size="11.5" x="54.4" y="12.7" text-anchor="end">1E-12</text>
<text font-family="Liberation Sans" font-weight="bold" stroke="#000" stroke-width="0.25" font-size="11.5" x="54.4" y="56.7" text-anchor="end">1E-13</text>
<text font-family="Liberation Sans" font-weight="bold" stroke="#000" stroke-width="0.25" font-size="11.5" x="54.4" y="100.7" text-anchor="end">1E-14</text>
<text font-family="Liberation Sans" font-weight="bold" stroke="#000" stroke-width="0.25" font-size="11.5" x="54.4" y="144.7" text-anchor="end">1E-15</text>
<text font-family="Liberation Sans" font-weight="bold" stroke="#000" stroke-width="0.25" font-size="11.5" x="54.4" y="188.7" text-anchor="end">1E-16</text>
<text font-family="Liberation Sans" font-weight="bold" stroke="#000" stroke-width="0.25" font-size="11.5" x="54.4" y="232.7" text-anchor="end">1E-17</text>
<text font-family="Liberation Sans" font-weight="bold" stroke="#000" stroke-width="0.25" font-size="11.5" x="74.2" y="243" text-anchor="middle">1</text>
<text font-family="Liberation Sans" font-weight="bold" stroke="#000" stroke-width="0.25" font-size="11.5" x="148" y="243" text-anchor="middle">10</text>
<text font-family="Liberation Sans" font-weight="bold" stroke="#000" stroke-width="0.25" font-size="11.5" x="221.8" y="243" text-anchor="middle">100</text>
<text font-family="Liberation Sans" font-weight="bold" stroke="#000" stroke-width="0.25" font-size="11.5" x="295.6" y="243" text-anchor="middle">1000</text>
<text font-family="Liberation Sans" font-weight="bold" stroke="#000" stroke-width="0.25" font-size="11.5" x="171.2" y="255">Time (s)</text>
<text font-family="Liberation Sans" font-weight="bold" stroke="#000" stroke-width="0.25" font-size="11.7" transform="translate(16.1 126.1) rotate(-90)" text-anchor="middle">Conductivity (S/m)</text>
<text font-family="Liberation Sans" font-size="20" stroke="#000" stroke-width="0.7" x="2.5" y="14">a</text>
<text font-family="Liberation Sans" font-weight="bold" stroke="#000" stroke-width="0.25" font-size="10.5" x="81.1" y="171.9">Content of graphene</text>
<circle cx="186.3" cy="167.6" r="0.95" fill="#000"/><circle cx="186.3" cy="171.0" r="0.95" fill="#000"/>
<path fill="#000" d="M83 180.3h4.5v4.5h-4.5z"/>
<path fill="#f00" d="M85.2 194.6l3.5 6h-7z"/>
<path fill="#00f" d="M82.5 212a2.8 2.8 0 1 0 5.5 0a2.8 2.8 0 1 0 -5.5 0z"/>
<path fill="#0f0" d="M165.1 185.9l3.5 -6h-7z"/>
<path fill="#f0f" d="M165.1 193.2l3.2 3.3l-3.2 3.3l-3.2 -3.3z"/>
<text font-family="Liberation Sans" font-weight="bold" stroke="#000" stroke-width="0.25" font-size="10.5" x="94.8" y="186.5">0 wt%</text>
<text font-family="Liberation Sans" font-weight="bold" stroke="#000" stroke-width="0.25" font-size="10.5" x="94.8" y="200.7">0.005 wt%</text>
<text font-family="Liberation Sans" font-weight="bold" stroke="#000" stroke-width="0.25" font-size="10.5" x="94.8" y="215">0.01 wt%</text>
<text font-family="Liberation Sans" font-weight="bold" stroke="#000" stroke-width="0.25" font-size="10.5" x="176.4" y="186.5">0.1 wt%</text>
<text font-family="Liberation Sans" font-weight="bold" stroke="#000" stroke-width="0.25" font-size="10.5" x="176.4" y="200.7">0.5 wt%</text>
<line x1="404.5" y1="65.4" x2="669.9" y2="65.4" stroke="#000" stroke-width="1.4" stroke-dasharray="7 3.2 1.6 3" stroke-dashoffset="-0.4"/>
<line x1="491.3" y1="9.5" x2="435.2" y2="229.8" stroke="#f0f" stroke-width="1.7"/>
<line x1="601.5" y1="9.5" x2="505.1" y2="229.8" stroke="#0f0" stroke-width="1.7"/>
<line x1="638.4" y1="9.5" x2="536.7" y2="229.8" stroke="#000" stroke-width="1.7"/>
<line x1="619.2" y1="9.5" x2="538.7" y2="229.8" stroke="#00f" stroke-width="1.7"/>
<line x1="648.5" y1="9.5" x2="562.6" y2="229.8" stroke="#f00" stroke-width="1.7"/>
<path fill="#000" d="M629.8 23.8h5v5h-5zM628.7 36.9h5v5h-5zM612 46.5h5v5h-5zM610.1 54.7h5v5h-5zM607.4 62.8h5v5h-5zM601.3 71.1h5v5h-5zM600.4 79.7h5v5h-5zM600.1 88.5h5v5h-5zM586 112.2h5v5h-5zM572.8 130.1h5v5h-5zM561 164.1h5v5h-5z"/>
<path fill="#f00" d="M650.2 19.2l3.4 6h-6.8zM635.1 30.9l3.4 6h-6.8zM635.5 39.4l3.4 6h-6.8zM633.5 44l3.4 6h-6.8zM631.5 49.5l3.4 6h-6.8zM629.8 54.5l3.4 6h-6.8zM628.2 59.5l3.4 6h-6.8zM626.5 64.5l3.4 6h-6.8zM624.3 69.3l3.4 6h-6.8zM623.5 74.5l3.4 6h-6.8zM623.3 80.6l3.4 6h-6.8zM622.2 86.8l3.4 6h-6.8zM607.2 94.1l3.4 6h-6.8zM607 101.6l3.4 6h-6.8zM601.4 112.2l3.4 6h-6.8zM598.7 125.3l3.4 6h-6.8zM597.2 143.2l3.4 6h-6.8zM594.5 175.4l3.4 6h-6.8z"/>
<path fill="#00f" d="M613.5 29a3 3 0 1 0 6 0a3 3 0 1 0 -6 0zM602.3 43a3 3 0 1 0 6 0a3 3 0 1 0 -6 0zM601.8 54a3 3 0 1 0 6 0a3 3 0 1 0 -6 0zM600.8 63a3 3 0 1 0 6 0a3 3 0 1 0 -6 0zM587.7 73.2a3 3 0 1 0 6 0a3 3 0 1 0 -6 0zM587.3 83.3a3 3 0 1 0 6 0a3 3 0 1 0 -6 0zM576.8 93.8a3 3 0 1 0 6 0a3 3 0 1 0 -6 0zM575.3 107.3a3 3 0 1 0 6 0a3 3 0 1 0 -6 0zM574.3 126.3a3 3 0 1 0 6 0a3 3 0 1 0 -6 0zM571.3 160.2a3 3 0 1 0 6 0a3 3 0 1 0 -6 0z"/>
<path fill="#0f0" d="M593.5 31.5l3.4 -6h-6.8zM593.3 46l3.4 -6h-6.8zM587.6 56.9l3.4 -6h-6.8zM576.3 65.8l3.4 -6h-6.8zM573.5 76l3.4 -6h-6.8zM567.2 85.5l3.4 -6h-6.8zM563 97l3.4 -6h-6.8zM556.6 110.7l3.4 -6h-6.8zM543.2 129.4l3.4 -6h-6.8zM536 162.2l3.4 -6h-6.8z"/>
<path fill="#f0f" d="M488.2 25.1l3 3.3l-3 3.3l-3 -3.3zM485.3 39.8l3 3.3l-3 3.3l-3 -3.3zM480.8 50.7l3 3.3l-3 3.3l-3 -3.3zM477.4 59.7l3 3.3l-3 3.3l-3 -3.3zM475.2 69.3l3 3.3l-3 3.3l-3 -3.3zM468.5 79.2l3 3.3l-3 3.3l-3 -3.3zM468.9 90.5l3 3.3l-3 3.3l-3 -3.3zM463.5 104.1l3 3.3l-3 3.3l-3 -3.3zM460.9 123.4l3 3.3l-3 3.3l-3 -3.3zM452.4 157.5l3 3.3l-3 3.3l-3 -3.3z"/>
<rect x="404.5" y="9.5" width="265.4" height="220.3" fill="none" stroke="#000" stroke-width="1.5"/>
<path fill="none" stroke="#000" stroke-width="1.3" d="M404.5 34.2h5M404.5 57.5h5M404.5 64.2h5M404.5 88.4h5M404.5 118.2h5M404.5 145.2h5M404.5 171.1h5M404.5 204.7h5M441.8 229.8v-5M463.7 229.8v-5M479.2 229.8v-5M514.3 229.8v-5M549.3 229.8v-5M598.6 229.8v-5M633.6 229.8v-5M660.7 229.8v-5"/>
<rect x="495.6" y="7.8" width="3.2" height="3.4" fill="#fff"/>
<path fill="none" stroke="#000" stroke-width="1.15" d="M497 5.9 C494.8 4.9 493.4 7.7 495.4 9.5 S496 14.1 493.8 13.1"/>
<path fill="none" stroke="#000" stroke-width="1.15" d="M500.6 5.9 C498.4 4.9 497 7.7 499 9.5 S499.6 14.1 497.4 13.1"/>
<rect x="495.6" y="228.1" width="3.2" height="3.4" fill="#fff"/>
<path fill="none" stroke="#000" stroke-width="1.15" d="M497 226.2 C494.8 225.2 493.4 228 495.4 229.8 S496 234.4 493.8 233.4"/>
<path fill="none" stroke="#000" stroke-width="1.15" d="M500.6 226.2 C498.4 225.2 497 228 499 229.8 S499.6 234.4 497.4 233.4"/>
<text font-family="Liberation Sans" font-weight="bold" stroke="#000" stroke-width="0.25" font-size="11.5" x="397.3" y="14.2" text-anchor="end">99</text>
<text font-family="Liberation Sans" font-weight="bold" stroke="#000" stroke-width="0.25" font-size="11.5" x="397.3" y="38.3" text-anchor="end">90</text>
<text font-family="Liberation Sans" font-weight="bold" stroke="#000" stroke-width="0.25" font-size="11.5" x="397.3" y="61.6" text-anchor="end">70</text>
<text font-family="Liberation Sans" font-weight="bold" stroke="#000" stroke-width="0.25" font-size="11.5" x="397.3" y="92.5" text-anchor="end">40</text>
<text font-family="Liberation Sans" font-weight="bold" stroke="#000" stroke-width="0.25" font-size="11.5" x="397.3" y="122.3" text-anchor="end">20</text>
<text font-family="Liberation Sans" font-weight="bold" stroke="#000" stroke-width="0.25" font-size="11.5" x="397.3" y="149.3" text-anchor="end">10</text>
<text font-family="Liberation Sans" font-weight="bold" stroke="#000" stroke-width="0.25" font-size="11.5" x="397.3" y="175.2" text-anchor="end">5</text>
<text font-family="Liberation Sans" font-weight="bold" stroke="#000" stroke-width="0.25" font-size="11.5" x="397.3" y="208.8" text-anchor="end">2</text>
<text font-family="Liberation Sans" font-weight="bold" stroke="#000" stroke-width="0.25" font-size="11.5" x="397.3" y="235" text-anchor="end">1</text>
<text font-family="Liberation Sans" font-weight="bold" stroke="#000" stroke-width="0.25" font-size="11.5" x="402" y="72.1" text-anchor="end">63.2</text>
<text font-family="Liberation Sans" font-weight="bold" stroke="#000" stroke-width="0.25" font-size="11.5" x="405.7" y="243.9" text-anchor="middle">10</text>
<text font-family="Liberation Sans" font-weight="bold" stroke="#000" stroke-width="0.25" font-size="11.5" x="442.1" y="243.9" text-anchor="middle">20</text>
<text font-family="Liberation Sans" font-weight="bold" stroke="#000" stroke-width="0.25" font-size="11.5" x="464" y="243.9" text-anchor="middle">30</text>
<text font-family="Liberation Sans" font-weight="bold" stroke="#000" stroke-width="0.25" font-size="11.5" x="479.5" y="243.9" text-anchor="middle">40</text>
<text font-family="Liberation Sans" font-weight="bold" stroke="#000" stroke-width="0.25" font-size="11.5" x="513.9" y="243.9" text-anchor="middle">150</text>
<text font-family="Liberation Sans" font-weight="bold" stroke="#000" stroke-width="0.25" font-size="11.5" x="548.9" y="243.9" text-anchor="middle">200</text>
<text font-family="Liberation Sans" font-weight="bold" stroke="#000" stroke-width="0.25" font-size="11.5" x="598.2" y="243.9" text-anchor="middle">300</text>
<text font-family="Liberation Sans" font-weight="bold" stroke="#000" stroke-width="0.25" font-size="11.5" x="633.2" y="243.9" text-anchor="middle">400</text>
<text font-family="Liberation Sans" font-weight="bold" stroke="#000" stroke-width="0.25" font-size="11.5" x="660.3" y="243.9" text-anchor="middle">500</text>
<text font-family="Liberation Sans" font-weight="bold" stroke="#000" stroke-width="0.25" font-size="11.6" x="457.6" y="260">Breakdown strength (kV/mm)</text>
<text font-family="Liberation Sans" font-weight="bold" stroke="#000" stroke-width="0.25" font-size="11.5" transform="translate(375.6 125.7) rotate(-90)" text-anchor="middle">Probability (%)</text>
<text font-family="Liberation Sans" font-size="20.5" stroke="#000" stroke-width="0.7" x="358.6" y="17.5">b</text>
<text font-family="Liberation Sans" font-weight="bold" stroke="#000" stroke-width="0.25" font-size="10.5" x="492.6" y="23.4">Content of graphene</text>
<circle cx="597.2" cy="19.1" r="0.95" fill="#000"/><circle cx="597.2" cy="22.5" r="0.95" fill="#000"/>
<path fill="#000" d="M502.7 29.1h4.4v4.4h-4.4z"/>
<path fill="#f00" d="M504.9 42l3.2 5.6h-6.4z"/>
<path fill="#00f" d="M502.3 57.8a2.6 2.6 0 1 0 5.2 0a2.6 2.6 0 1 0 -5.2 0z"/>
<path fill="#0f0" d="M504.9 75.1l3.2 -5.6h-6.4z"/>
<path fill="#f0f" d="M504.9 83.3l2.8 3l-2.8 3l-2.8 -3z"/>
<text font-family="Liberation Sans" font-weight="bold" stroke="#000" stroke-width="0.25" font-size="10.4" x="518.7" y="34.9">0 wt%</text>
<text font-family="Liberation Sans" font-weight="bold" stroke="#000" stroke-width="0.25" font-size="10.4" x="518.7" y="48.5">0.005 wt%</text>
<text font-family="Liberation Sans" font-weight="bold" stroke="#000" stroke-width="0.25" font-size="10.4" x="518.7" y="61.9">0.01 wt%</text>
<text font-family="Liberation Sans" font-weight="bold" stroke="#000" stroke-width="0.25" font-size="10.4" x="518.7" y="75.8">0.1 wt%</text>
<text font-family="Liberation Sans" font-weight="bold" stroke="#000" stroke-width="0.25" font-size="10.4" x="518.7" y="89.6">0.5 wt%</text>
</svg></body></html>
